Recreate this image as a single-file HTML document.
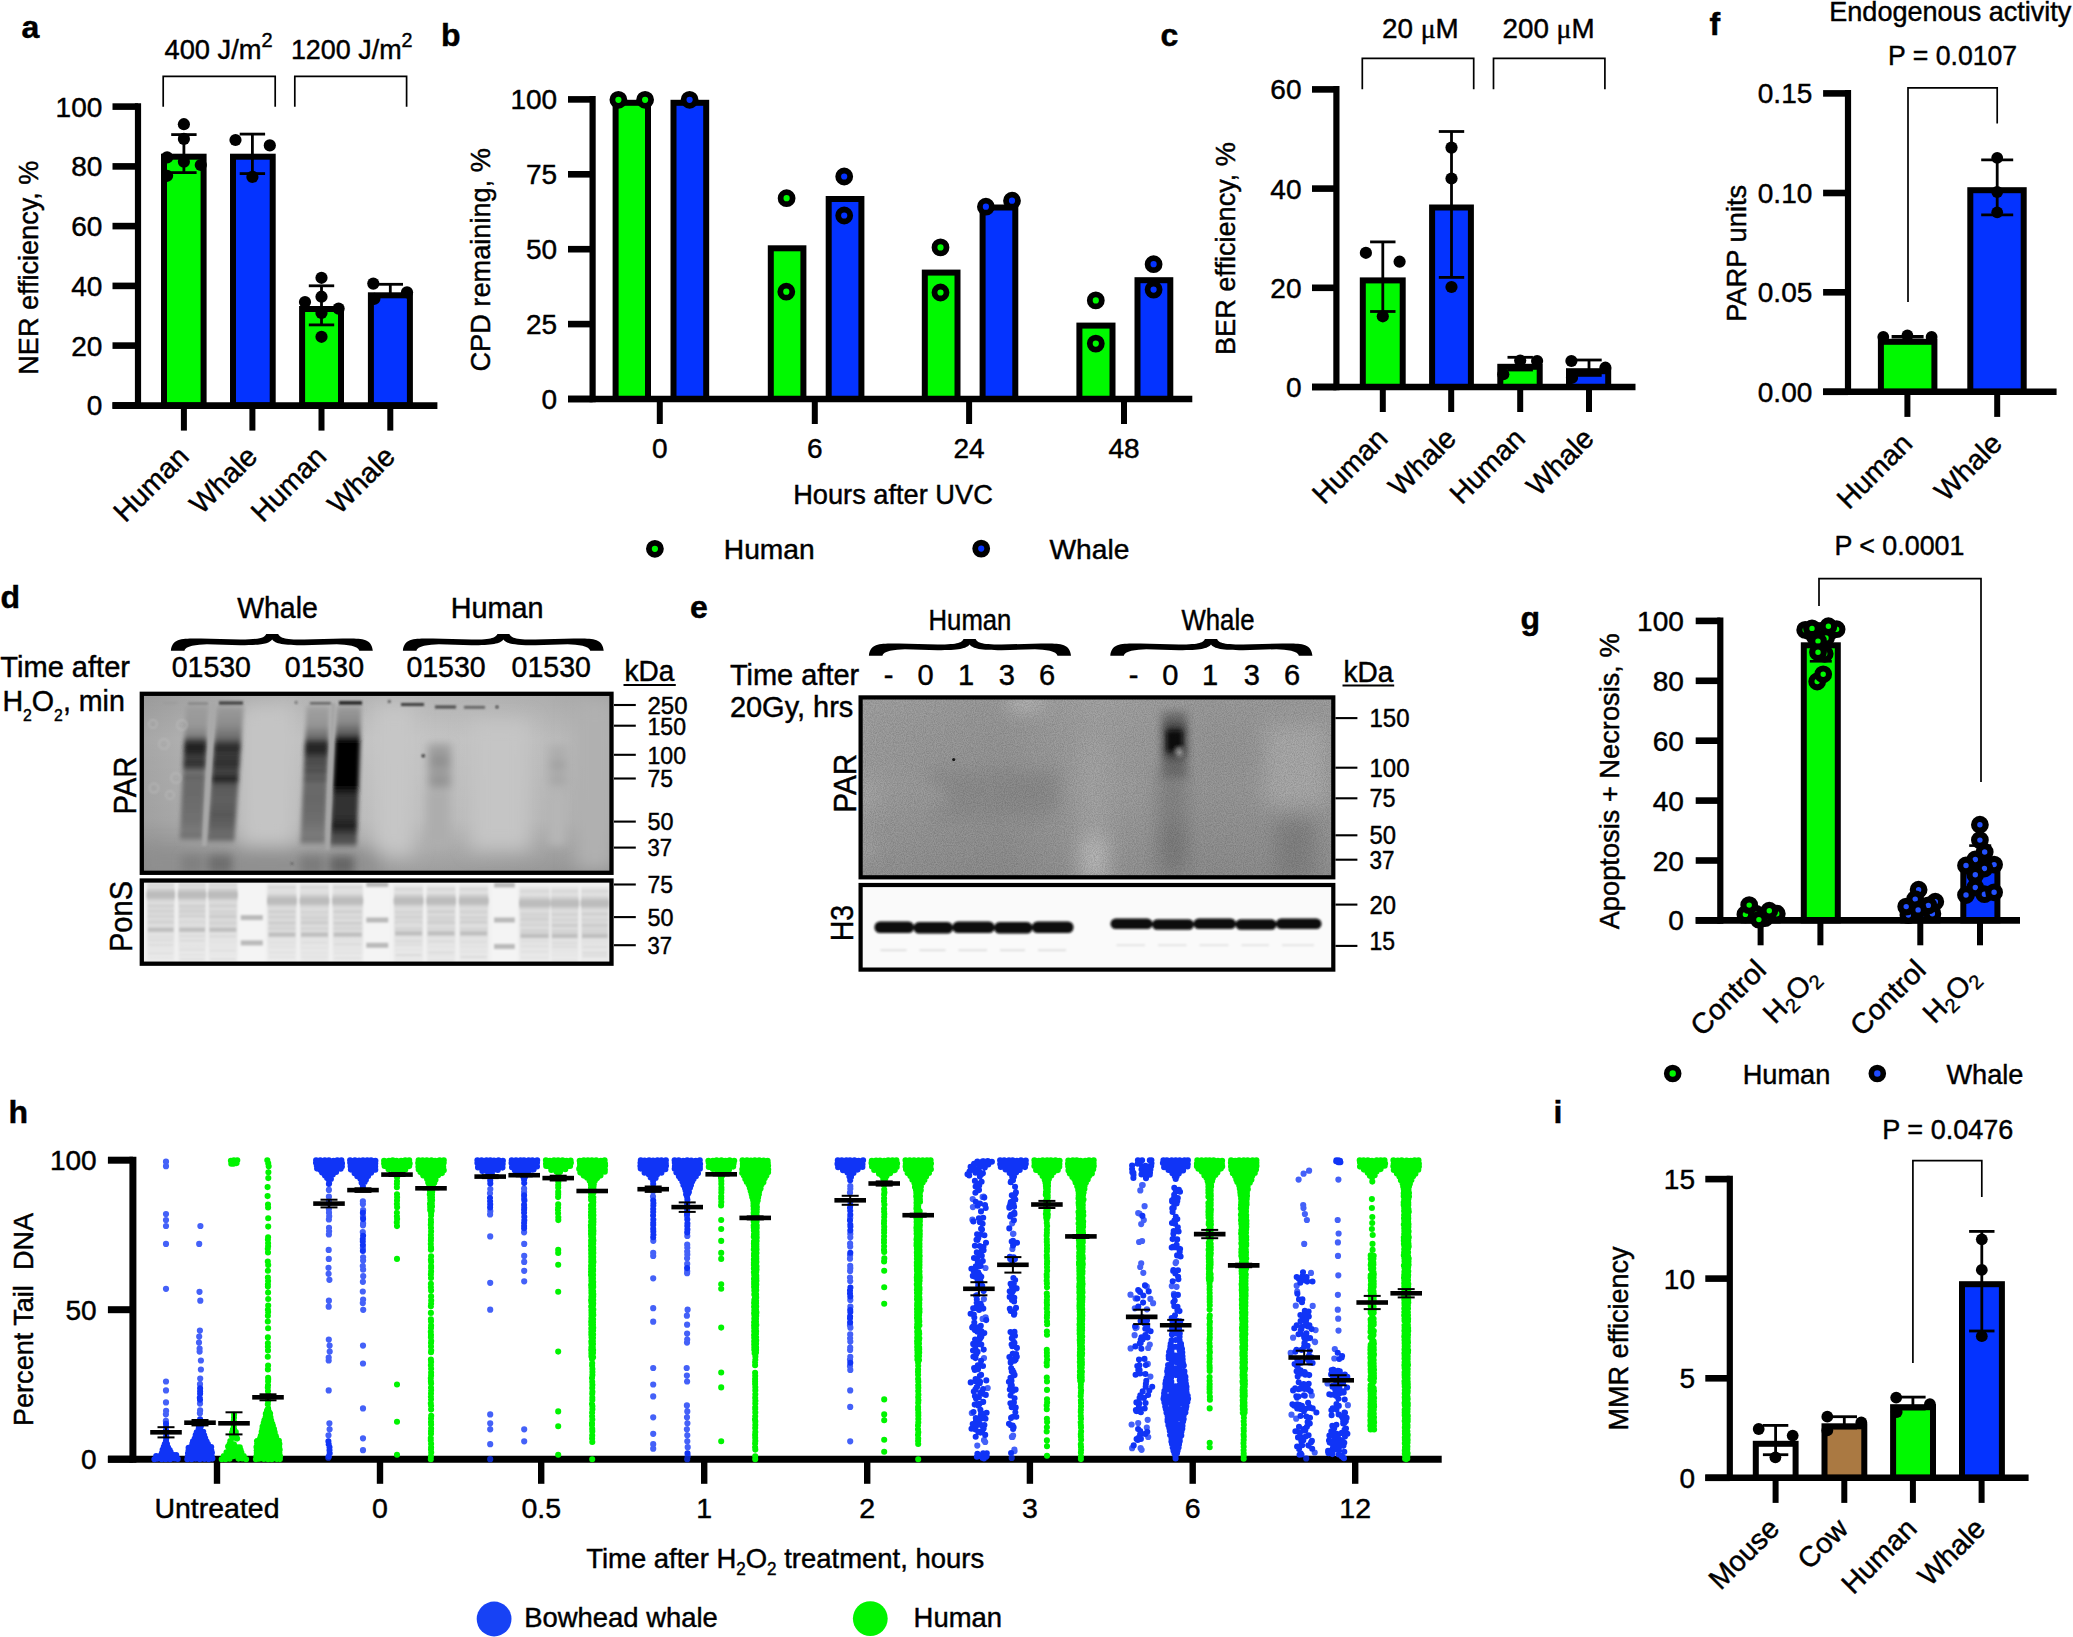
<!DOCTYPE html>
<html lang="en"><head><meta charset="utf-8"><title>Figure: DNA repair in bowhead whale and human cells</title>
<style>html,body{margin:0;padding:0;background:#fff}body{width:2073px;height:1637px;overflow:hidden}svg{display:block}text{font-family:'Liberation Sans', sans-serif;fill:#000;stroke:#000;stroke-width:.45px}</style>
</head><body>
<svg width="2073" height="1637" viewBox="0 0 2073 1637" role="img" aria-label="Multi-panel figure comparing DNA repair in human and bowhead whale cells">
<rect width="2073" height="1637" fill="#fff"/>
<g id="panel-a">
<text x="21.5" y="38" font-size="32" font-weight="bold" fill="#231f20" stroke="none">a</text>
<text x="164.5" y="58.6" font-size="28" textLength="108.2" lengthAdjust="spacingAndGlyphs">400 J/m<tspan font-size="20.5" dy="-12">2</tspan></text>
<text x="290.9" y="58.6" font-size="28" textLength="121.6" lengthAdjust="spacingAndGlyphs">1200 J/m<tspan font-size="20.5" dy="-12">2</tspan></text>
<path d="M163.2 106.8V76.4H275.2V106.8" fill="none" stroke="#000" stroke-width="1.7"/>
<path d="M294.8 106.8V76.4H406.6V106.8" fill="none" stroke="#000" stroke-width="1.7"/>
<rect x="164" y="156.7" width="39.6" height="248.7" fill="#00f900" stroke="#000" stroke-width="6"/>
<rect x="233" y="156.7" width="39.7" height="248.7" fill="#0433ff" stroke="#000" stroke-width="6"/>
<rect x="302.1" y="309" width="38.9" height="96.4" fill="#00f900" stroke="#000" stroke-width="6"/>
<rect x="370.9" y="295.3" width="39" height="110.1" fill="#0433ff" stroke="#000" stroke-width="6"/>
<line x1="138" y1="103.3" x2="138" y2="408.7" stroke="#000" stroke-width="6.2"/>
<line x1="112.5" y1="405.4" x2="138" y2="405.4" stroke="#000" stroke-width="6.6"/>
<text x="102.3" y="415.4" font-size="28" text-anchor="end">0</text>
<line x1="112.5" y1="345.6" x2="138" y2="345.6" stroke="#000" stroke-width="6.6"/>
<text x="102.3" y="355.6" font-size="28" text-anchor="end">20</text>
<line x1="112.5" y1="285.9" x2="138" y2="285.9" stroke="#000" stroke-width="6.6"/>
<text x="102.3" y="295.9" font-size="28" text-anchor="end">40</text>
<line x1="112.5" y1="226.1" x2="138" y2="226.1" stroke="#000" stroke-width="6.6"/>
<text x="102.3" y="236.1" font-size="28" text-anchor="end">60</text>
<line x1="112.5" y1="166.4" x2="138" y2="166.4" stroke="#000" stroke-width="6.6"/>
<text x="102.3" y="176.4" font-size="28" text-anchor="end">80</text>
<line x1="112.5" y1="106.6" x2="138" y2="106.6" stroke="#000" stroke-width="6.6"/>
<text x="102.3" y="116.6" font-size="28" text-anchor="end">100</text>
<line x1="112.5" y1="405.6" x2="437.4" y2="405.6" stroke="#000" stroke-width="6.6"/>
<line x1="183.9" y1="405.6" x2="183.9" y2="430.6" stroke="#000" stroke-width="6"/>
<line x1="252.4" y1="405.6" x2="252.4" y2="430.6" stroke="#000" stroke-width="6"/>
<line x1="321.5" y1="405.6" x2="321.5" y2="430.6" stroke="#000" stroke-width="6"/>
<line x1="390.3" y1="405.6" x2="390.3" y2="430.6" stroke="#000" stroke-width="6"/>
<line x1="183.9" y1="134.6" x2="183.9" y2="172.6" stroke="#000" stroke-width="2.8"/>
<line x1="171.2" y1="134.6" x2="196.6" y2="134.6" stroke="#000" stroke-width="2.8"/>
<line x1="171.2" y1="172.6" x2="196.6" y2="172.6" stroke="#000" stroke-width="2.8"/>
<line x1="252.4" y1="134.1" x2="252.4" y2="173.6" stroke="#000" stroke-width="2.8"/>
<line x1="239.7" y1="134.1" x2="265.1" y2="134.1" stroke="#000" stroke-width="2.8"/>
<line x1="239.7" y1="173.6" x2="265.1" y2="173.6" stroke="#000" stroke-width="2.8"/>
<line x1="321.5" y1="285.8" x2="321.5" y2="324.9" stroke="#000" stroke-width="2.8"/>
<line x1="308.8" y1="285.8" x2="334.2" y2="285.8" stroke="#000" stroke-width="2.8"/>
<line x1="308.8" y1="324.9" x2="334.2" y2="324.9" stroke="#000" stroke-width="2.8"/>
<line x1="390.3" y1="284.3" x2="390.3" y2="295.6" stroke="#000" stroke-width="2.8"/>
<line x1="377.6" y1="284.3" x2="403" y2="284.3" stroke="#000" stroke-width="2.8"/>
<line x1="377.6" y1="295.6" x2="403" y2="295.6" stroke="#000" stroke-width="2.8"/>
<circle cx="183.9" cy="124.2" r="6.1" fill="#000"/>
<circle cx="183.9" cy="138.9" r="6.1" fill="#000"/>
<circle cx="167.1" cy="157.4" r="6.1" fill="#000"/>
<circle cx="183.9" cy="161.7" r="6.1" fill="#000"/>
<circle cx="200.8" cy="165" r="6.1" fill="#000"/>
<circle cx="167.1" cy="175.8" r="6.1" fill="#000"/>
<circle cx="235.5" cy="140" r="6.1" fill="#000"/>
<circle cx="269.8" cy="145.4" r="6.1" fill="#000"/>
<circle cx="252.4" cy="176.9" r="6.1" fill="#000"/>
<circle cx="321.5" cy="277.8" r="6.1" fill="#000"/>
<circle cx="321.5" cy="296.7" r="6.1" fill="#000"/>
<circle cx="305" cy="302.1" r="6.1" fill="#000"/>
<circle cx="338.6" cy="308.6" r="6.1" fill="#000"/>
<circle cx="321.5" cy="312.9" r="6.1" fill="#000"/>
<circle cx="321.5" cy="336.8" r="6.1" fill="#000"/>
<circle cx="373.3" cy="283.6" r="6.1" fill="#000"/>
<circle cx="407" cy="292.3" r="6.1" fill="#000"/>
<circle cx="374.4" cy="298.8" r="6.1" fill="#000"/>
<text x="38" y="267.7" font-size="28" text-anchor="middle" transform="rotate(-90 38 267.7)" textLength="214" lengthAdjust="spacingAndGlyphs">NER efficiency, %</text>
<text x="190.4" y="458.3" font-size="28.6" text-anchor="end" transform="rotate(-45 190.4 458.3)">Human</text>
<text x="258.9" y="458.3" font-size="28.6" text-anchor="end" transform="rotate(-45 258.9 458.3)">Whale</text>
<text x="328" y="458.3" font-size="28.6" text-anchor="end" transform="rotate(-45 328 458.3)">Human</text>
<text x="396.8" y="458.3" font-size="28.6" text-anchor="end" transform="rotate(-45 396.8 458.3)">Whale</text>
</g>
<g id="panel-b">
<text x="441" y="46" font-size="32" font-weight="bold" fill="#231f20" stroke="none">b</text>
<rect x="615.6" y="102.8" width="32.4" height="296.2" fill="#00f900" stroke="#000" stroke-width="6"/>
<rect x="673.5" y="102.8" width="32.7" height="296.2" fill="#0433ff" stroke="#000" stroke-width="6"/>
<rect x="770.8" y="248.3" width="32.6" height="150.7" fill="#00f900" stroke="#000" stroke-width="6"/>
<rect x="828.7" y="199" width="32.7" height="200" fill="#0433ff" stroke="#000" stroke-width="6"/>
<rect x="924.8" y="272.6" width="32.7" height="126.4" fill="#00f900" stroke="#000" stroke-width="6"/>
<rect x="982.6" y="207.5" width="32.7" height="191.5" fill="#0433ff" stroke="#000" stroke-width="6"/>
<rect x="1079.4" y="325.6" width="33.1" height="73.4" fill="#00f900" stroke="#000" stroke-width="6"/>
<rect x="1137.5" y="280.2" width="32.8" height="118.8" fill="#0433ff" stroke="#000" stroke-width="6"/>
<line x1="592.6" y1="96.1" x2="592.6" y2="402.3" stroke="#000" stroke-width="6.2"/>
<line x1="568" y1="399" x2="592.6" y2="399" stroke="#000" stroke-width="6.6"/>
<text x="557.2" y="409" font-size="28" text-anchor="end">0</text>
<line x1="568" y1="324.1" x2="592.6" y2="324.1" stroke="#000" stroke-width="6.6"/>
<text x="557.2" y="334.1" font-size="28" text-anchor="end">25</text>
<line x1="568" y1="249.2" x2="592.6" y2="249.2" stroke="#000" stroke-width="6.6"/>
<text x="557.2" y="259.2" font-size="28" text-anchor="end">50</text>
<line x1="568" y1="174.3" x2="592.6" y2="174.3" stroke="#000" stroke-width="6.6"/>
<text x="557.2" y="184.3" font-size="28" text-anchor="end">75</text>
<line x1="568" y1="99.4" x2="592.6" y2="99.4" stroke="#000" stroke-width="6.6"/>
<text x="557.2" y="109.4" font-size="28" text-anchor="end">100</text>
<line x1="568" y1="399" x2="1192.3" y2="399" stroke="#000" stroke-width="6.6"/>
<line x1="659.8" y1="399" x2="659.8" y2="424" stroke="#000" stroke-width="6"/>
<line x1="814.8" y1="399" x2="814.8" y2="424" stroke="#000" stroke-width="6"/>
<line x1="969.1" y1="399" x2="969.1" y2="424" stroke="#000" stroke-width="6"/>
<line x1="1124" y1="399" x2="1124" y2="424" stroke="#000" stroke-width="6"/>
<circle cx="618.4" cy="99.8" r="6" fill="#00f900" stroke="#000" stroke-width="5.8"/>
<circle cx="645.1" cy="99.8" r="6" fill="#00f900" stroke="#000" stroke-width="5.8"/>
<circle cx="689.6" cy="99.8" r="6" fill="#0433ff" stroke="#000" stroke-width="5.8"/>
<circle cx="786.6" cy="198.2" r="6" fill="#00f900" stroke="#000" stroke-width="5.8"/>
<circle cx="786.3" cy="291.7" r="6" fill="#00f900" stroke="#000" stroke-width="5.8"/>
<circle cx="844.2" cy="176.5" r="6" fill="#0433ff" stroke="#000" stroke-width="5.8"/>
<circle cx="844.2" cy="215.5" r="6" fill="#0433ff" stroke="#000" stroke-width="5.8"/>
<circle cx="940.5" cy="247.4" r="6" fill="#00f900" stroke="#000" stroke-width="5.8"/>
<circle cx="940.5" cy="292.5" r="6" fill="#00f900" stroke="#000" stroke-width="5.8"/>
<circle cx="985.9" cy="206.7" r="6" fill="#0433ff" stroke="#000" stroke-width="5.8"/>
<circle cx="1012" cy="200.7" r="6" fill="#0433ff" stroke="#000" stroke-width="5.8"/>
<circle cx="1095.8" cy="300.4" r="6" fill="#00f900" stroke="#000" stroke-width="5.8"/>
<circle cx="1095.8" cy="343.6" r="6" fill="#00f900" stroke="#000" stroke-width="5.8"/>
<circle cx="1153.6" cy="264.2" r="6" fill="#0433ff" stroke="#000" stroke-width="5.8"/>
<circle cx="1153.6" cy="289.6" r="6" fill="#0433ff" stroke="#000" stroke-width="5.8"/>
<text x="659.8" y="458" font-size="28" text-anchor="middle">0</text>
<text x="814.8" y="458" font-size="28" text-anchor="middle">6</text>
<text x="969.1" y="458" font-size="28" text-anchor="middle">24</text>
<text x="1124" y="458" font-size="28" text-anchor="middle">48</text>
<text x="893" y="504.2" font-size="28" text-anchor="middle" textLength="199.7" lengthAdjust="spacingAndGlyphs">Hours after UVC</text>
<text x="489.9" y="259.8" font-size="28" text-anchor="middle" transform="rotate(-90 489.9 259.8)" textLength="223.5" lengthAdjust="spacingAndGlyphs">CPD remaining, %</text>
<circle cx="654.9" cy="548.8" r="6" fill="#00f900" stroke="#000" stroke-width="5.8"/>
<text x="723.8" y="559.2" font-size="28.2">Human</text>
<circle cx="981.2" cy="548.6" r="6" fill="#0433ff" stroke="#000" stroke-width="5.8"/>
<text x="1049.5" y="559.2" font-size="28.2">Whale</text>
</g>
<g id="panel-c">
<text x="1160.5" y="45.8" font-size="32" font-weight="bold" fill="#231f20" stroke="none">c</text>
<text x="1382" y="38.1" font-size="28" textLength="76.7" lengthAdjust="spacingAndGlyphs">20 <tspan font-family="'Liberation Serif','DejaVu Serif',serif">μ</tspan>M</text>
<text x="1502.6" y="38.1" font-size="28" textLength="92" lengthAdjust="spacingAndGlyphs">200 <tspan font-family="'Liberation Serif','DejaVu Serif',serif">μ</tspan>M</text>
<path d="M1362.3 89.2V58.4H1473.7V89.2" fill="none" stroke="#000" stroke-width="1.7"/>
<path d="M1493.5 89.2V58.4H1604.9V89.2" fill="none" stroke="#000" stroke-width="1.7"/>
<rect x="1362.8" y="280.4" width="39.9" height="106.6" fill="#00f900" stroke="#000" stroke-width="6"/>
<rect x="1432.1" y="207.5" width="38.8" height="179.5" fill="#0433ff" stroke="#000" stroke-width="6"/>
<rect x="1500.3" y="366.8" width="39.4" height="20.2" fill="#00f900" stroke="#000" stroke-width="6"/>
<rect x="1569" y="371.2" width="39.2" height="15.8" fill="#0433ff" stroke="#000" stroke-width="6"/>
<line x1="1336.4" y1="85.9" x2="1336.4" y2="390.3" stroke="#000" stroke-width="6.2"/>
<line x1="1312" y1="387" x2="1336.4" y2="387" stroke="#000" stroke-width="6.6"/>
<text x="1301.5" y="397" font-size="28" text-anchor="end">0</text>
<line x1="1312" y1="287.8" x2="1336.4" y2="287.8" stroke="#000" stroke-width="6.6"/>
<text x="1301.5" y="297.8" font-size="28" text-anchor="end">20</text>
<line x1="1312" y1="188.6" x2="1336.4" y2="188.6" stroke="#000" stroke-width="6.6"/>
<text x="1301.5" y="198.6" font-size="28" text-anchor="end">40</text>
<line x1="1312" y1="89.4" x2="1336.4" y2="89.4" stroke="#000" stroke-width="6.6"/>
<text x="1301.5" y="99.4" font-size="28" text-anchor="end">60</text>
<line x1="1312" y1="387" x2="1635.5" y2="387" stroke="#000" stroke-width="6.6"/>
<line x1="1382.8" y1="387" x2="1382.8" y2="412" stroke="#000" stroke-width="6"/>
<line x1="1451.2" y1="387" x2="1451.2" y2="412" stroke="#000" stroke-width="6"/>
<line x1="1520.2" y1="387" x2="1520.2" y2="412" stroke="#000" stroke-width="6"/>
<line x1="1589" y1="387" x2="1589" y2="412" stroke="#000" stroke-width="6"/>
<line x1="1382.8" y1="241.9" x2="1382.8" y2="311.5" stroke="#000" stroke-width="2.8"/>
<line x1="1370.1" y1="241.9" x2="1395.5" y2="241.9" stroke="#000" stroke-width="2.8"/>
<line x1="1370.1" y1="311.5" x2="1395.5" y2="311.5" stroke="#000" stroke-width="2.8"/>
<line x1="1451.5" y1="131.5" x2="1451.5" y2="277.4" stroke="#000" stroke-width="2.8"/>
<line x1="1438.8" y1="131.5" x2="1464.2" y2="131.5" stroke="#000" stroke-width="2.8"/>
<line x1="1438.8" y1="277.4" x2="1464.2" y2="277.4" stroke="#000" stroke-width="2.8"/>
<line x1="1520.2" y1="357.3" x2="1520.2" y2="370" stroke="#000" stroke-width="2.8"/>
<line x1="1507.5" y1="357.3" x2="1532.9" y2="357.3" stroke="#000" stroke-width="2.8"/>
<line x1="1507.5" y1="370" x2="1532.9" y2="370" stroke="#000" stroke-width="2.8"/>
<line x1="1589" y1="360" x2="1589" y2="375.4" stroke="#000" stroke-width="2.8"/>
<line x1="1576.3" y1="360" x2="1601.7" y2="360" stroke="#000" stroke-width="2.8"/>
<line x1="1576.3" y1="375.4" x2="1601.7" y2="375.4" stroke="#000" stroke-width="2.8"/>
<circle cx="1365.9" cy="252.8" r="6.1" fill="#000"/>
<circle cx="1399.6" cy="261.7" r="6.1" fill="#000"/>
<circle cx="1382.8" cy="316.3" r="6.1" fill="#000"/>
<circle cx="1451.5" cy="147.6" r="6.1" fill="#000"/>
<circle cx="1451.5" cy="178.5" r="6.1" fill="#000"/>
<circle cx="1451.5" cy="287" r="6.1" fill="#000"/>
<circle cx="1520.2" cy="360.5" r="6.1" fill="#000"/>
<circle cx="1537.1" cy="361" r="6.1" fill="#000"/>
<circle cx="1503.3" cy="374.2" r="6.1" fill="#000"/>
<circle cx="1571.4" cy="361" r="6.1" fill="#000"/>
<circle cx="1605.4" cy="367.7" r="6.1" fill="#000"/>
<circle cx="1572" cy="377.8" r="6.1" fill="#000"/>
<text x="1235.2" y="248.5" font-size="28" text-anchor="middle" transform="rotate(-90 1235.2 248.5)" textLength="213" lengthAdjust="spacingAndGlyphs">BER efficiency, %</text>
<text x="1389.3" y="440.3" font-size="28.6" text-anchor="end" transform="rotate(-45 1389.3 440.3)">Human</text>
<text x="1457.7" y="440.3" font-size="28.6" text-anchor="end" transform="rotate(-45 1457.7 440.3)">Whale</text>
<text x="1526.7" y="440.3" font-size="28.6" text-anchor="end" transform="rotate(-45 1526.7 440.3)">Human</text>
<text x="1595.5" y="440.3" font-size="28.6" text-anchor="end" transform="rotate(-45 1595.5 440.3)">Whale</text>
</g>
<g id="panel-f">
<text x="1709.5" y="35.3" font-size="32" font-weight="bold" fill="#231f20" stroke="none">f</text>
<text x="1829.3" y="20.8" font-size="28" textLength="242" lengthAdjust="spacingAndGlyphs">Endogenous activity</text>
<text x="1888.1" y="64.6" font-size="28" textLength="129" lengthAdjust="spacingAndGlyphs">P = 0.0107</text>
<path d="M1908 302.1V87.8H1997.2V123.5" fill="none" stroke="#000" stroke-width="1.7"/>
<rect x="1880.9" y="341.8" width="53.5" height="50" fill="#00f900" stroke="#000" stroke-width="6"/>
<rect x="1970.3" y="190.2" width="53.4" height="201.6" fill="#0433ff" stroke="#000" stroke-width="6"/>
<line x1="1848" y1="90.1" x2="1848" y2="395.1" stroke="#000" stroke-width="6.2"/>
<line x1="1823.1" y1="391.8" x2="1848" y2="391.8" stroke="#000" stroke-width="6.6"/>
<text x="1812.3" y="401.8" font-size="28" text-anchor="end">0.00</text>
<line x1="1823.1" y1="292.3" x2="1848" y2="292.3" stroke="#000" stroke-width="6.6"/>
<text x="1812.3" y="302.3" font-size="28" text-anchor="end">0.05</text>
<line x1="1823.1" y1="193" x2="1848" y2="193" stroke="#000" stroke-width="6.6"/>
<text x="1812.3" y="203" font-size="28" text-anchor="end">0.10</text>
<line x1="1823.1" y1="93.4" x2="1848" y2="93.4" stroke="#000" stroke-width="6.6"/>
<text x="1812.3" y="103.4" font-size="28" text-anchor="end">0.15</text>
<line x1="1823.1" y1="391.8" x2="2056.6" y2="391.8" stroke="#000" stroke-width="6.6"/>
<line x1="1907.4" y1="391.8" x2="1907.4" y2="416.9" stroke="#000" stroke-width="6"/>
<line x1="1997.2" y1="391.8" x2="1997.2" y2="416.9" stroke="#000" stroke-width="6"/>
<line x1="1997.2" y1="159.8" x2="1997.2" y2="214.8" stroke="#000" stroke-width="2.8"/>
<line x1="1981.2" y1="159.8" x2="2013.2" y2="159.8" stroke="#000" stroke-width="2.8"/>
<line x1="1981.2" y1="214.8" x2="2013.2" y2="214.8" stroke="#000" stroke-width="2.8"/>
<line x1="1907.6" y1="336.5" x2="1907.6" y2="340" stroke="#000" stroke-width="2.8"/>
<line x1="1891.6" y1="336.5" x2="1923.6" y2="336.5" stroke="#000" stroke-width="2.8"/>
<line x1="1891.6" y1="340" x2="1923.6" y2="340" stroke="#000" stroke-width="2.8"/>
<circle cx="1997.2" cy="157.8" r="5.9" fill="#000"/>
<circle cx="1997.2" cy="192" r="5.9" fill="#000"/>
<circle cx="1997.2" cy="212.3" r="5.9" fill="#000"/>
<circle cx="1883.3" cy="337" r="5.9" fill="#000"/>
<circle cx="1907.4" cy="335.5" r="5.9" fill="#000"/>
<circle cx="1931.6" cy="337" r="5.9" fill="#000"/>
<text x="1745.9" y="253.3" font-size="28" text-anchor="middle" transform="rotate(-90 1745.9 253.3)" textLength="137" lengthAdjust="spacingAndGlyphs">PARP units</text>
<text x="1913.9" y="445.3" font-size="28.6" text-anchor="end" transform="rotate(-45 1913.9 445.3)">Human</text>
<text x="2003.7" y="445.3" font-size="28.6" text-anchor="end" transform="rotate(-45 2003.7 445.3)">Whale</text>
</g>
<g id="panel-g">
<text x="1520.5" y="629.2" font-size="32" font-weight="bold" fill="#231f20" stroke="none">g</text>
<text x="1834.4" y="555.4" font-size="28" textLength="130" lengthAdjust="spacingAndGlyphs">P &lt; 0.0001</text>
<path d="M1819 605.9V578.6H1981V782" fill="none" stroke="#000" stroke-width="1.7"/>
<rect x="1743.6" y="909.9" width="34" height="10.5" fill="#00f900" stroke="#000" stroke-width="6"/>
<rect x="1803.8" y="645.3" width="34" height="275.1" fill="#00f900" stroke="#000" stroke-width="6"/>
<rect x="1903.3" y="903.9" width="34" height="16.5" fill="#0433ff" stroke="#000" stroke-width="6"/>
<rect x="1963.3" y="867.3" width="34.1" height="53.1" fill="#0433ff" stroke="#000" stroke-width="6"/>
<line x1="1720.3" y1="617.6" x2="1720.3" y2="923.7" stroke="#000" stroke-width="6.2"/>
<line x1="1695.7" y1="920.4" x2="1720.3" y2="920.4" stroke="#000" stroke-width="6.6"/>
<text x="1683.8" y="930.4" font-size="28" text-anchor="end">0</text>
<line x1="1695.7" y1="860.5" x2="1720.3" y2="860.5" stroke="#000" stroke-width="6.6"/>
<text x="1683.8" y="870.5" font-size="28" text-anchor="end">20</text>
<line x1="1695.7" y1="800.6" x2="1720.3" y2="800.6" stroke="#000" stroke-width="6.6"/>
<text x="1683.8" y="810.6" font-size="28" text-anchor="end">40</text>
<line x1="1695.7" y1="740.7" x2="1720.3" y2="740.7" stroke="#000" stroke-width="6.6"/>
<text x="1683.8" y="750.7" font-size="28" text-anchor="end">60</text>
<line x1="1695.7" y1="680.8" x2="1720.3" y2="680.8" stroke="#000" stroke-width="6.6"/>
<text x="1683.8" y="690.8" font-size="28" text-anchor="end">80</text>
<line x1="1695.7" y1="620.9" x2="1720.3" y2="620.9" stroke="#000" stroke-width="6.6"/>
<text x="1683.8" y="630.9" font-size="28" text-anchor="end">100</text>
<line x1="1695.7" y1="920.4" x2="2020" y2="920.4" stroke="#000" stroke-width="6.6"/>
<line x1="1760.6" y1="920.4" x2="1760.6" y2="945.3" stroke="#000" stroke-width="6"/>
<line x1="1820.4" y1="920.4" x2="1820.4" y2="945.3" stroke="#000" stroke-width="6"/>
<line x1="1920.3" y1="920.4" x2="1920.3" y2="945.3" stroke="#000" stroke-width="6"/>
<line x1="1980" y1="920.4" x2="1980" y2="945.3" stroke="#000" stroke-width="6"/>
<line x1="1820.8" y1="623.5" x2="1820.8" y2="661.3" stroke="#000" stroke-width="2.6"/>
<line x1="1809.8" y1="623.5" x2="1831.8" y2="623.5" stroke="#000" stroke-width="2.6"/>
<line x1="1809.8" y1="661.3" x2="1831.8" y2="661.3" stroke="#000" stroke-width="2.6"/>
<line x1="1980.2" y1="845.6" x2="1980.2" y2="888" stroke="#000" stroke-width="2.6"/>
<line x1="1969.2" y1="845.6" x2="1991.2" y2="845.6" stroke="#000" stroke-width="2.6"/>
<line x1="1969.2" y1="888" x2="1991.2" y2="888" stroke="#000" stroke-width="2.6"/>
<circle cx="1809" cy="631" r="5.8" fill="#00f900" stroke="#000" stroke-width="6.2"/>
<circle cx="1821" cy="633" r="5.8" fill="#00f900" stroke="#000" stroke-width="6.2"/>
<circle cx="1831" cy="631" r="5.8" fill="#00f900" stroke="#000" stroke-width="6.2"/>
<circle cx="1815" cy="637" r="5.8" fill="#00f900" stroke="#000" stroke-width="6.2"/>
<circle cx="1826" cy="638" r="5.8" fill="#00f900" stroke="#000" stroke-width="6.2"/>
<circle cx="1805.2" cy="629.9" r="5.8" fill="#00f900" stroke="#000" stroke-width="6.2"/>
<circle cx="1812" cy="628.4" r="5.8" fill="#00f900" stroke="#000" stroke-width="6.2"/>
<circle cx="1836.6" cy="629.2" r="5.8" fill="#00f900" stroke="#000" stroke-width="6.2"/>
<circle cx="1828.4" cy="626.2" r="5.8" fill="#00f900" stroke="#000" stroke-width="6.2"/>
<circle cx="1818" cy="641.1" r="5.8" fill="#00f900" stroke="#000" stroke-width="6.2"/>
<circle cx="1824.7" cy="653.8" r="5.8" fill="#00f900" stroke="#000" stroke-width="6.2"/>
<circle cx="1818" cy="652.3" r="5.8" fill="#00f900" stroke="#000" stroke-width="6.2"/>
<circle cx="1817.2" cy="681.5" r="5.8" fill="#00f900" stroke="#000" stroke-width="6.2"/>
<circle cx="1823.2" cy="674.3" r="5.8" fill="#00f900" stroke="#000" stroke-width="6.2"/>
<circle cx="1755.9" cy="913.7" r="5.8" fill="#00f900" stroke="#000" stroke-width="6.2"/>
<circle cx="1764.9" cy="918.1" r="5.8" fill="#00f900" stroke="#000" stroke-width="6.2"/>
<circle cx="1758.9" cy="919.6" r="5.8" fill="#00f900" stroke="#000" stroke-width="6.2"/>
<circle cx="1776.8" cy="913.7" r="5.8" fill="#00f900" stroke="#000" stroke-width="6.2"/>
<circle cx="1745.4" cy="914.4" r="5.8" fill="#00f900" stroke="#000" stroke-width="6.2"/>
<circle cx="1749.2" cy="905.1" r="5.8" fill="#00f900" stroke="#000" stroke-width="6.2"/>
<circle cx="1769.3" cy="910.7" r="5.8" fill="#00f900" stroke="#000" stroke-width="6.2"/>
<circle cx="1918.6" cy="889.7" r="5.8" fill="#2452ff" stroke="#000" stroke-width="6.2"/>
<circle cx="1935.3" cy="901.7" r="5.8" fill="#2452ff" stroke="#000" stroke-width="6.2"/>
<circle cx="1908.4" cy="915.1" r="5.8" fill="#2452ff" stroke="#000" stroke-width="6.2"/>
<circle cx="1932.4" cy="913.7" r="5.8" fill="#2452ff" stroke="#000" stroke-width="6.2"/>
<circle cx="1915.2" cy="899.1" r="5.8" fill="#2452ff" stroke="#000" stroke-width="6.2"/>
<circle cx="1906.2" cy="906.6" r="5.8" fill="#2452ff" stroke="#000" stroke-width="6.2"/>
<circle cx="1928.3" cy="905.4" r="5.8" fill="#2452ff" stroke="#000" stroke-width="6.2"/>
<circle cx="1918.1" cy="909.9" r="5.8" fill="#2452ff" stroke="#000" stroke-width="6.2"/>
<circle cx="1979.9" cy="824.7" r="5.8" fill="#2452ff" stroke="#000" stroke-width="6.2"/>
<circle cx="1979.9" cy="840.1" r="5.8" fill="#2452ff" stroke="#000" stroke-width="6.2"/>
<circle cx="1984.7" cy="852" r="5.8" fill="#2452ff" stroke="#000" stroke-width="6.2"/>
<circle cx="1975.3" cy="859.5" r="5.8" fill="#2452ff" stroke="#000" stroke-width="6.2"/>
<circle cx="1966" cy="865.5" r="5.8" fill="#2452ff" stroke="#000" stroke-width="6.2"/>
<circle cx="1994.1" cy="864.6" r="5.8" fill="#2452ff" stroke="#000" stroke-width="6.2"/>
<circle cx="1984.4" cy="868.5" r="5.8" fill="#2452ff" stroke="#000" stroke-width="6.2"/>
<circle cx="1975.3" cy="874.8" r="5.8" fill="#2452ff" stroke="#000" stroke-width="6.2"/>
<circle cx="1975.3" cy="887.5" r="5.8" fill="#2452ff" stroke="#000" stroke-width="6.2"/>
<circle cx="1966" cy="895" r="5.8" fill="#2452ff" stroke="#000" stroke-width="6.2"/>
<circle cx="1984.4" cy="894.2" r="5.8" fill="#2452ff" stroke="#000" stroke-width="6.2"/>
<circle cx="1994.1" cy="892.3" r="5.8" fill="#2452ff" stroke="#000" stroke-width="6.2"/>
<text x="1619.4" y="781.3" font-size="28" text-anchor="middle" transform="rotate(-90 1619.4 781.3)" textLength="296" lengthAdjust="spacingAndGlyphs">Apoptosis + Necrosis, %</text>
<text x="1767.9" y="971.8" font-size="28.8" text-anchor="end" transform="rotate(-45 1767.9 971.8)">Control</text>
<text x="1927.6" y="971.8" font-size="28.8" text-anchor="end" transform="rotate(-45 1927.6 971.8)">Control</text>
<text x="1820.9" y="978.8" font-size="28.6" text-anchor="end" transform="rotate(-45 1820.9 978.8)">H<tspan font-size="20" dy="5.7">2</tspan><tspan dy="-5.7">O</tspan><tspan font-size="20" dy="5.7">2</tspan></text>
<text x="1980.5" y="978.8" font-size="28.6" text-anchor="end" transform="rotate(-45 1980.5 978.8)">H<tspan font-size="20" dy="5.7">2</tspan><tspan dy="-5.7">O</tspan><tspan font-size="20" dy="5.7">2</tspan></text>
<circle cx="1672.7" cy="1073.5" r="6" fill="#00f900" stroke="#000" stroke-width="5.6"/>
<text x="1742.7" y="1084" font-size="28" textLength="87.6" lengthAdjust="spacingAndGlyphs">Human</text>
<circle cx="1877.3" cy="1073.5" r="6" fill="#1f4bff" stroke="#000" stroke-width="5.6"/>
<text x="1946.4" y="1084" font-size="28" textLength="77" lengthAdjust="spacingAndGlyphs">Whale</text>
</g>
<g id="panel-i">
<text x="1553.5" y="1122.7" font-size="32" font-weight="bold" fill="#231f20" stroke="none">i</text>
<text x="1882.3" y="1138.5" font-size="28" textLength="131" lengthAdjust="spacingAndGlyphs">P = 0.0476</text>
<path d="M1912.9 1362.9V1160.7H1981.8V1196.9" fill="none" stroke="#000" stroke-width="1.7"/>
<rect x="1755.8" y="1443.8" width="39.8" height="34" fill="#fff" stroke="#000" stroke-width="6"/>
<rect x="1824.5" y="1426.3" width="39.8" height="51.5" fill="#aa7942" stroke="#000" stroke-width="6"/>
<rect x="1893.1" y="1407.2" width="39.9" height="70.6" fill="#00f900" stroke="#000" stroke-width="6"/>
<rect x="1962" y="1284.2" width="39.9" height="193.6" fill="#0433ff" stroke="#000" stroke-width="6"/>
<line x1="1729.8" y1="1175.8" x2="1729.8" y2="1481.1" stroke="#000" stroke-width="6.2"/>
<line x1="1705.3" y1="1477.8" x2="1729.8" y2="1477.8" stroke="#000" stroke-width="6.6"/>
<text x="1695" y="1487.8" font-size="28" text-anchor="end">0</text>
<line x1="1705.3" y1="1378.3" x2="1729.8" y2="1378.3" stroke="#000" stroke-width="6.6"/>
<text x="1695" y="1388.3" font-size="28" text-anchor="end">5</text>
<line x1="1705.3" y1="1278.6" x2="1729.8" y2="1278.6" stroke="#000" stroke-width="6.6"/>
<text x="1695" y="1288.6" font-size="28" text-anchor="end">10</text>
<line x1="1705.3" y1="1179.1" x2="1729.8" y2="1179.1" stroke="#000" stroke-width="6.6"/>
<text x="1695" y="1189.1" font-size="28" text-anchor="end">15</text>
<line x1="1705.3" y1="1477.8" x2="2028.6" y2="1477.8" stroke="#000" stroke-width="6.6"/>
<line x1="1775.6" y1="1477.8" x2="1775.6" y2="1502.9" stroke="#000" stroke-width="6"/>
<line x1="1844.3" y1="1477.8" x2="1844.3" y2="1502.9" stroke="#000" stroke-width="6"/>
<line x1="1912.9" y1="1477.8" x2="1912.9" y2="1502.9" stroke="#000" stroke-width="6"/>
<line x1="1981.6" y1="1477.8" x2="1981.6" y2="1502.9" stroke="#000" stroke-width="6"/>
<line x1="1775.6" y1="1425.4" x2="1775.6" y2="1454.7" stroke="#000" stroke-width="2.8"/>
<line x1="1762.9" y1="1425.4" x2="1788.3" y2="1425.4" stroke="#000" stroke-width="2.8"/>
<line x1="1762.9" y1="1454.7" x2="1788.3" y2="1454.7" stroke="#000" stroke-width="2.8"/>
<line x1="1844.3" y1="1416.7" x2="1844.3" y2="1428" stroke="#000" stroke-width="2.8"/>
<line x1="1831.6" y1="1416.7" x2="1857" y2="1416.7" stroke="#000" stroke-width="2.8"/>
<line x1="1831.6" y1="1428" x2="1857" y2="1428" stroke="#000" stroke-width="2.8"/>
<line x1="1912.9" y1="1397.1" x2="1912.9" y2="1409" stroke="#000" stroke-width="2.8"/>
<line x1="1900.2" y1="1397.1" x2="1925.6" y2="1397.1" stroke="#000" stroke-width="2.8"/>
<line x1="1900.2" y1="1409" x2="1925.6" y2="1409" stroke="#000" stroke-width="2.8"/>
<line x1="1981.8" y1="1231.4" x2="1981.8" y2="1331" stroke="#000" stroke-width="2.8"/>
<line x1="1969.1" y1="1231.4" x2="1994.5" y2="1231.4" stroke="#000" stroke-width="2.8"/>
<line x1="1969.1" y1="1331" x2="1994.5" y2="1331" stroke="#000" stroke-width="2.8"/>
<circle cx="1758.7" cy="1429" r="5.9" fill="#000"/>
<circle cx="1792.7" cy="1435.6" r="5.9" fill="#000"/>
<circle cx="1775.4" cy="1457.3" r="5.9" fill="#000"/>
<circle cx="1827.3" cy="1416.7" r="5.9" fill="#000"/>
<circle cx="1861.3" cy="1422.5" r="5.9" fill="#000"/>
<circle cx="1827.3" cy="1430.4" r="5.9" fill="#000"/>
<circle cx="1896.2" cy="1397.6" r="5.9" fill="#000"/>
<circle cx="1929.9" cy="1404.2" r="5.9" fill="#000"/>
<circle cx="1896.7" cy="1412" r="5.9" fill="#000"/>
<circle cx="1981.8" cy="1239.3" r="5.9" fill="#000"/>
<circle cx="1981.8" cy="1269.9" r="5.9" fill="#000"/>
<circle cx="1981.8" cy="1336.2" r="5.9" fill="#000"/>
<text x="1628.2" y="1338.5" font-size="28" text-anchor="middle" transform="rotate(-90 1628.2 1338.5)" textLength="184" lengthAdjust="spacingAndGlyphs">MMR efficiency</text>
<text x="1781.1" y="1530.3" font-size="28.6" text-anchor="end" transform="rotate(-45 1781.1 1530.3)">Mouse</text>
<text x="1849.8" y="1530.3" font-size="28.6" text-anchor="end" transform="rotate(-45 1849.8 1530.3)">Cow</text>
<text x="1918.4" y="1530.3" font-size="28.6" text-anchor="end" transform="rotate(-45 1918.4 1530.3)">Human</text>
<text x="1987.1" y="1530.3" font-size="28.6" text-anchor="end" transform="rotate(-45 1987.1 1530.3)">Whale</text>
</g>
<defs>
<filter id="b1" x="-20%" y="-20%" width="140%" height="140%"><feGaussianBlur stdDeviation="1"/></filter>
<filter id="b15" x="-20%" y="-20%" width="140%" height="140%"><feGaussianBlur stdDeviation="1.3"/></filter>
<filter id="b2" x="-20%" y="-20%" width="140%" height="140%"><feGaussianBlur stdDeviation="2.2"/></filter>
<filter id="b4" x="-30%" y="-30%" width="160%" height="160%"><feGaussianBlur stdDeviation="4.5"/></filter>
<filter id="b8" x="-40%" y="-40%" width="180%" height="180%"><feGaussianBlur stdDeviation="9"/></filter>
<filter id="noise" x="0" y="0" width="100%" height="100%"><feTurbulence type="fractalNoise" baseFrequency="0.9" numOctaves="2" seed="3" result="t"/><feColorMatrix in="t" type="matrix" values="0 0 0 0 0  0 0 0 0 0  0 0 0 0 0  0.9 0 0 0 -0.28"/></filter>
<linearGradient id="gd" x1="0" x2="1" y1="0" y2="0"><stop offset="0" stop-color="#a6a6a6"/><stop offset="0.12" stop-color="#b2b2b2"/><stop offset="0.3" stop-color="#c0c0c0"/><stop offset="0.6" stop-color="#c4c4c4"/><stop offset="0.85" stop-color="#bcbcbc"/><stop offset="1" stop-color="#b0b0b0"/></linearGradient>
<linearGradient id="gdv" x1="0" x2="0" y1="0" y2="1"><stop offset="0" stop-color="#000" stop-opacity="0.08"/><stop offset="0.25" stop-color="#000" stop-opacity="0"/><stop offset="0.7" stop-color="#000" stop-opacity="0.04"/><stop offset="1" stop-color="#000" stop-opacity="0.2"/></linearGradient>
<linearGradient id="ge" x1="0" x2="1" y1="0" y2="0"><stop offset="0" stop-color="#a0a0a0"/><stop offset="0.3" stop-color="#989898"/><stop offset="0.5" stop-color="#a2a2a2"/><stop offset="0.75" stop-color="#999"/><stop offset="1" stop-color="#9c9c9c"/></linearGradient>
<linearGradient id="gev" x1="0" x2="0" y1="0" y2="1"><stop offset="0" stop-color="#fff" stop-opacity="0.04"/><stop offset="0.5" stop-color="#000" stop-opacity="0"/><stop offset="1" stop-color="#000" stop-opacity="0.07"/></linearGradient>
<clipPath id="cd1"><rect x="141.7" y="693.7" width="469.8" height="179"/></clipPath>
<clipPath id="cd2"><rect x="141.7" y="880.4" width="469.8" height="83.3"/></clipPath>
<clipPath id="ce1"><rect x="860.6" y="697.4" width="472.6" height="179.9"/></clipPath>
<clipPath id="ce2"><rect x="860.6" y="885" width="472.6" height="84.6"/></clipPath>
</defs>
<g id="panel-d">
<text x="0.5" y="607.5" font-size="32" font-weight="bold" fill="#231f20" stroke="none">d</text>
<text x="237.2" y="617.6" font-size="29" textLength="80.6" lengthAdjust="spacingAndGlyphs">Whale</text>
<text x="450.8" y="617.6" font-size="29" textLength="92.8" lengthAdjust="spacingAndGlyphs">Human</text>
<path d="M170.9 650.8C171.9 637.4 184.1 638.4 200.9 638.4L240.2 639.6C262.3 639.4 264.2 637.4 266.2 633.9L278.2 633.9C280.2 637.4 282.1 639.4 304.2 639.6L342.8 638.4C359.6 638.4 371.8 637.4 372.8 650.8L359.3 650.8C358.8 646.1 346.8 644.4 336.8 644.2L304.2 645.2C283.2 645.2 275.2 643.6 272.2 639.4C269.2 643.6 261.2 645.2 240.2 645.2L206.9 644.2C196.9 644.4 184.9 646.1 184.4 650.8Z" fill="#000"/>
<path d="M402.9 650.8C403.9 637.4 416.1 638.4 432.9 638.4L471.4 639.6C493.5 639.4 495.4 637.4 497.4 633.9L509.4 633.9C511.4 637.4 513.3 639.4 535.4 639.6L573.7 638.4C590.5 638.4 602.7 637.4 603.7 650.8L590.2 650.8C589.7 646.1 577.7 644.4 567.7 644.2L535.4 645.2C514.4 645.2 506.4 643.6 503.4 639.4C500.4 643.6 492.4 645.2 471.4 645.2L438.9 644.2C428.9 644.4 416.9 646.1 416.4 650.8Z" fill="#000"/>
<text x="0.3" y="677.1" font-size="29" textLength="129.7" lengthAdjust="spacingAndGlyphs">Time after</text>
<text x="2.4" y="711.2" font-size="29" textLength="122.5" lengthAdjust="spacingAndGlyphs">H<tspan font-size="16" dy="9.3">2</tspan><tspan dy="-9.3">O</tspan><tspan font-size="16" dy="9.3">2</tspan><tspan dy="-9.3">, min</tspan></text>
<text x="171.7" y="677.1" font-size="29" textLength="79.3" lengthAdjust="spacingAndGlyphs">01530</text>
<text x="284.8" y="677.1" font-size="29" textLength="79.3" lengthAdjust="spacingAndGlyphs">01530</text>
<text x="406.4" y="677.1" font-size="29" textLength="79.3" lengthAdjust="spacingAndGlyphs">01530</text>
<text x="511.6" y="677.1" font-size="29" textLength="79.3" lengthAdjust="spacingAndGlyphs">01530</text>
<text x="624.5" y="681.2" font-size="29" textLength="49.8" lengthAdjust="spacingAndGlyphs">kDa</text>
<line x1="623.5" y1="685" x2="675.8" y2="685" stroke="#000" stroke-width="2"/>
<g clip-path="url(#cd1)">
<rect x="141" y="693" width="472" height="181" fill="url(#gd)"/>
<rect x="141" y="693" width="472" height="181" fill="url(#gdv)"/>
<g filter="url(#b8)">
<rect x="240" y="705" width="55" height="140" fill="#c4c4c4"/>
<rect x="374" y="705" width="40" height="150" fill="#c6c6c6"/>
<rect x="470" y="720" width="60" height="130" fill="#c5c5c5"/>
<rect x="141" y="850" width="240" height="30" fill="#8f8f8f"/>
<rect x="575" y="700" width="40" height="170" fill="#b0b0b0"/>
</g>
<g filter="url(#b2)">
<linearGradient id="lg1" gradientUnits="userSpaceOnUse" x1="0" y1="703" x2="0" y2="844"><stop offset="0.000" stop-color="#a8a8a8" stop-opacity="0"/><stop offset="0.035" stop-color="#9c9c9c"/><stop offset="0.156" stop-color="#989898"/><stop offset="0.234" stop-color="#808080"/><stop offset="0.270" stop-color="#3a3a3a"/><stop offset="0.312" stop-color="#1a1a1a"/><stop offset="0.355" stop-color="#2c2c2c"/><stop offset="0.390" stop-color="#404040"/><stop offset="0.433" stop-color="#2e2e2e"/><stop offset="0.461" stop-color="#4a4a4a"/><stop offset="0.496" stop-color="#7c7c7c"/><stop offset="0.518" stop-color="#5e5e5e"/><stop offset="0.546" stop-color="#6a6a6a"/><stop offset="0.688" stop-color="#6c6c6c"/><stop offset="0.830" stop-color="#707070"/><stop offset="0.915" stop-color="#7a7a7a"/><stop offset="0.943" stop-color="#6c6c6c"/><stop offset="0.972" stop-color="#8e8e8e"/><stop offset="1.000" stop-color="#a0a0a0" stop-opacity="0"/></linearGradient>
<path d="M186 703L208.5 703L202.5 844L179.5 844Z" fill="url(#lg1)"/>
<linearGradient id="lg2" gradientUnits="userSpaceOnUse" x1="0" y1="703" x2="0" y2="846"><stop offset="0.000" stop-color="#a8a8a8" stop-opacity="0"/><stop offset="0.035" stop-color="#9a9a9a"/><stop offset="0.154" stop-color="#8c8c8c"/><stop offset="0.245" stop-color="#6c6c6c"/><stop offset="0.287" stop-color="#3a3a3a"/><stop offset="0.315" stop-color="#262626"/><stop offset="0.357" stop-color="#3a3a3a"/><stop offset="0.399" stop-color="#343434"/><stop offset="0.434" stop-color="#2e2e2e"/><stop offset="0.469" stop-color="#444"/><stop offset="0.510" stop-color="#3a3a3a"/><stop offset="0.531" stop-color="#161616"/><stop offset="0.552" stop-color="#3c3c3c"/><stop offset="0.580" stop-color="#5a5a5a"/><stop offset="0.678" stop-color="#606060"/><stop offset="0.783" stop-color="#585858"/><stop offset="0.853" stop-color="#606060"/><stop offset="0.923" stop-color="#6e6e6e"/><stop offset="0.944" stop-color="#606060"/><stop offset="0.972" stop-color="#909090"/><stop offset="1.000" stop-color="#a0a0a0" stop-opacity="0"/></linearGradient>
<path d="M217 703L244 703L234 846L206.5 846Z" fill="url(#lg2)"/>
<linearGradient id="lg3" gradientUnits="userSpaceOnUse" x1="0" y1="703" x2="0" y2="849"><stop offset="0.000" stop-color="#b0b0b0" stop-opacity="0"/><stop offset="0.034" stop-color="#a0a0a0"/><stop offset="0.151" stop-color="#959595"/><stop offset="0.240" stop-color="#6a6a6a"/><stop offset="0.274" stop-color="#2a2a2a"/><stop offset="0.322" stop-color="#222"/><stop offset="0.363" stop-color="#3c3c3c"/><stop offset="0.390" stop-color="#555"/><stop offset="0.411" stop-color="#444"/><stop offset="0.438" stop-color="#5a5a5a"/><stop offset="0.466" stop-color="#4a4a4a"/><stop offset="0.500" stop-color="#666"/><stop offset="0.521" stop-color="#525252"/><stop offset="0.548" stop-color="#6a6a6a"/><stop offset="0.664" stop-color="#686868"/><stop offset="0.801" stop-color="#6e6e6e"/><stop offset="0.911" stop-color="#7c7c7c"/><stop offset="0.938" stop-color="#707070"/><stop offset="0.973" stop-color="#999"/><stop offset="1.000" stop-color="#aaa" stop-opacity="0"/></linearGradient>
<path d="M306.7 703L330 703L325 849L300 849Z" fill="url(#lg3)"/>
<linearGradient id="lg4" gradientUnits="userSpaceOnUse" x1="0" y1="703" x2="0" y2="851"><stop offset="0.000" stop-color="#a8a8a8" stop-opacity="0"/><stop offset="0.034" stop-color="#9a9a9a"/><stop offset="0.128" stop-color="#8a8a8a"/><stop offset="0.209" stop-color="#5a5a5a"/><stop offset="0.250" stop-color="#101010"/><stop offset="0.284" stop-color="#000"/><stop offset="0.554" stop-color="#020202"/><stop offset="0.588" stop-color="#151515"/><stop offset="0.628" stop-color="#303030"/><stop offset="0.723" stop-color="#333"/><stop offset="0.791" stop-color="#2c2c2c"/><stop offset="0.831" stop-color="#1e1e1e"/><stop offset="0.872" stop-color="#383838"/><stop offset="0.912" stop-color="#555"/><stop offset="0.939" stop-color="#4a4a4a"/><stop offset="0.973" stop-color="#8a8a8a"/><stop offset="1.000" stop-color="#a0a0a0" stop-opacity="0"/></linearGradient>
<path d="M336.8 703L361.5 703L356.5 851L329.5 851Z" fill="url(#lg4)"/>
</g>
<g filter="url(#b4)">
<rect x="428" y="744" width="23" height="44" fill="#9d9d9d"/>
<rect x="430" y="757" width="20" height="8" fill="#8d8d8d"/>
<rect x="430" y="778" width="20" height="8" fill="#929292"/>
<rect x="426" y="790" width="24" height="56" fill="#adadad"/>
<rect x="549" y="746" width="18" height="40" fill="#adadad"/>
<rect x="550" y="762" width="16" height="6" fill="#9c9c9c"/>
<rect x="550" y="778" width="16" height="5" fill="#a2a2a2"/>
<rect x="548" y="795" width="18" height="50" fill="#b6b6b6"/>
<rect x="181" y="855" width="22" height="18" fill="#808080"/>
<rect x="208" y="855" width="24" height="18" fill="#6e6e6e"/>
<rect x="300" y="856" width="24" height="18" fill="#7c7c7c"/>
<rect x="330" y="856" width="24" height="18" fill="#666"/>
</g>
<g filter="url(#b1)">
<path d="M210.5 703L215.5 703L206.5 846L202 846Z" fill="#a8a8a8"/>
<path d="M331 703L335.5 703L329.5 850L325.5 850Z" fill="#a6a6a6"/>
<rect x="163" y="702" width="14" height="1.6" fill="#9a9a9a"/>
<rect x="188" y="702.5" width="20" height="2" fill="#808080"/>
<rect x="219" y="701.5" width="24" height="3" fill="#3a3a3a"/>
<rect x="310" y="702.2" width="21" height="2.2" fill="#5a5a5a"/>
<rect x="339" y="701.2" width="23" height="3.4" fill="#222"/>
<rect x="401" y="703" width="23" height="3" fill="#3c3c3c"/>
<rect x="435" y="705.5" width="21" height="3" fill="#4a4a4a"/>
<rect x="464" y="706" width="21" height="2.6" fill="#5e5e5e"/>
<circle cx="296.2" cy="702.5" r="1" fill="#222"/>
<circle cx="389.3" cy="701.5" r="1.3" fill="#333"/>
<circle cx="497" cy="707" r="1.3" fill="#111"/>
<circle cx="423.2" cy="755.8" r="1.5" fill="#111"/>
<circle cx="292" cy="863.5" r="0.9" fill="#333"/>
</g>
<circle cx="164" cy="744" r="5" fill="none" stroke="#bdbdbd" stroke-width="1.4" stroke-opacity="0.7" filter="url(#b1)"/>
<circle cx="154" cy="788" r="4.5" fill="none" stroke="#bdbdbd" stroke-width="1.4" stroke-opacity="0.7" filter="url(#b1)"/>
<circle cx="176" cy="778" r="5" fill="none" stroke="#bdbdbd" stroke-width="1.4" stroke-opacity="0.7" filter="url(#b1)"/>
<circle cx="170" cy="795" r="4" fill="none" stroke="#bdbdbd" stroke-width="1.4" stroke-opacity="0.7" filter="url(#b1)"/>
<circle cx="182" cy="725" r="5" fill="none" stroke="#bdbdbd" stroke-width="1.4" stroke-opacity="0.7" filter="url(#b1)"/>
<circle cx="153" cy="724" r="4" fill="none" stroke="#bdbdbd" stroke-width="1.4" stroke-opacity="0.7" filter="url(#b1)"/>
</g>
<rect x="141.8" y="693.8" width="469.7" height="179" fill="none" stroke="#000" stroke-width="4.3"/>
<g clip-path="url(#cd2)">
<rect x="141" y="879" width="472" height="86" fill="#f1f1f1"/>
<linearGradient id="gp" x1="0" x2="0" y1="0" y2="1"><stop offset="0" stop-color="#e6e6e6"/><stop offset="0.15" stop-color="#dcdcdc"/><stop offset="0.55" stop-color="#e0e0e0"/><stop offset="0.8" stop-color="#e8e8e8"/><stop offset="1" stop-color="#eeeeee"/></linearGradient>
<g filter="url(#b15)">
<rect x="146.9" y="882" width="27.7" height="84" fill="url(#gp)"/>
<rect x="147.4" y="884" width="26.7" height="2.4" fill="#d6d6d6"/>
<rect x="146.9" y="888.2" width="27.7" height="13" fill="#d2d2d2"/>
<rect x="146.9" y="890.2" width="27.7" height="9" fill="#c6c6c6"/>
<rect x="147.9" y="904.2" width="25.7" height="3" fill="#cecece"/>
<rect x="147.9" y="909.7" width="25.7" height="3" fill="#d0d0d0"/>
<rect x="147.9" y="915.2" width="25.7" height="3" fill="#cbcbcb"/>
<rect x="147.9" y="921.2" width="25.7" height="3" fill="#d1d1d1"/>
<rect x="146.4" y="892.1" width="28.7" height="5.6" fill="#bcbcbc"/>
<rect x="147.9" y="927.4" width="25.7" height="4.6" fill="#c0c0c0"/>
<rect x="148.4" y="903.7" width="24.7" height="1.4" fill="#dadada"/>
<rect x="148.4" y="909.1" width="24.7" height="1.4" fill="#d5d5d5"/>
<rect x="148.4" y="912.7" width="24.7" height="2.2" fill="#dcdcdc"/>
<rect x="148.4" y="916.3" width="24.7" height="1.4" fill="#dadada"/>
<rect x="148.4" y="919.9" width="24.7" height="1.8" fill="#d4d4d4"/>
<rect x="148.4" y="923.5" width="24.7" height="1.4" fill="#dbdbdb"/>
<rect x="148.4" y="936.1" width="24.7" height="2.2" fill="#dedede"/>
<rect x="148.4" y="939.7" width="24.7" height="1.4" fill="#d9d9d9"/>
<rect x="148.4" y="943.9" width="24.7" height="2.2" fill="#dddddd"/>
<rect x="148.4" y="948.1" width="24.7" height="1.8" fill="#e4e4e4"/>
<rect x="148.4" y="952.3" width="24.7" height="2.2" fill="#dfdfdf"/>
<rect x="148.4" y="957.1" width="24.7" height="1.4" fill="#e3e3e3"/>
<rect x="178.2" y="882" width="27.8" height="84" fill="url(#gp)"/>
<rect x="178.7" y="884" width="26.8" height="2.4" fill="#d6d6d6"/>
<rect x="178.2" y="888.2" width="27.8" height="13" fill="#d2d2d2"/>
<rect x="178.2" y="890.2" width="27.8" height="9" fill="#c6c6c6"/>
<rect x="179.2" y="904.2" width="25.8" height="3" fill="#cecece"/>
<rect x="179.2" y="909.7" width="25.8" height="3" fill="#d0d0d0"/>
<rect x="179.2" y="915.2" width="25.8" height="3" fill="#cbcbcb"/>
<rect x="179.2" y="921.2" width="25.8" height="3" fill="#d1d1d1"/>
<rect x="177.7" y="892.1" width="28.8" height="5.6" fill="#bcbcbc"/>
<rect x="179.2" y="927.4" width="25.8" height="4.6" fill="#c0c0c0"/>
<rect x="179.7" y="903.7" width="24.8" height="1.4" fill="#dadada"/>
<rect x="179.7" y="907.3" width="24.8" height="2.2" fill="#d4d4d4"/>
<rect x="179.7" y="911.5" width="24.8" height="2.2" fill="#d2d2d2"/>
<rect x="179.7" y="916.9" width="24.8" height="1.8" fill="#dddddd"/>
<rect x="179.7" y="922.3" width="24.8" height="1.8" fill="#dedede"/>
<rect x="179.7" y="934.9" width="24.8" height="2.2" fill="#dbdbdb"/>
<rect x="179.7" y="939.7" width="24.8" height="1.8" fill="#d9d9d9"/>
<rect x="179.7" y="945.1" width="24.8" height="2.2" fill="#e3e3e3"/>
<rect x="179.7" y="948.7" width="24.8" height="2.2" fill="#dedede"/>
<rect x="179.7" y="954.1" width="24.8" height="1.8" fill="#e2e2e2"/>
<rect x="179.7" y="958.3" width="24.8" height="1.8" fill="#dddddd"/>
<rect x="208.4" y="882" width="28.9" height="84" fill="url(#gp)"/>
<rect x="208.9" y="884" width="27.9" height="2.4" fill="#d6d6d6"/>
<rect x="208.4" y="888.2" width="28.9" height="13" fill="#d2d2d2"/>
<rect x="208.4" y="890.2" width="28.9" height="9" fill="#c6c6c6"/>
<rect x="209.4" y="904.2" width="26.9" height="3" fill="#cecece"/>
<rect x="209.4" y="909.7" width="26.9" height="3" fill="#d0d0d0"/>
<rect x="209.4" y="915.2" width="26.9" height="3" fill="#cbcbcb"/>
<rect x="209.4" y="921.2" width="26.9" height="3" fill="#d1d1d1"/>
<rect x="207.9" y="892.1" width="29.9" height="5.6" fill="#bcbcbc"/>
<rect x="209.4" y="927.4" width="26.9" height="4.6" fill="#c0c0c0"/>
<rect x="209.9" y="903.7" width="25.9" height="2.2" fill="#d4d4d4"/>
<rect x="209.9" y="908.5" width="25.9" height="2.2" fill="#dbdbdb"/>
<rect x="209.9" y="913.3" width="25.9" height="2.2" fill="#d3d3d3"/>
<rect x="209.9" y="918.7" width="25.9" height="1.4" fill="#d7d7d7"/>
<rect x="209.9" y="923.5" width="25.9" height="2.2" fill="#d5d5d5"/>
<rect x="209.9" y="935.5" width="25.9" height="1.8" fill="#d8d8d8"/>
<rect x="209.9" y="940.9" width="25.9" height="1.4" fill="#e2e2e2"/>
<rect x="209.9" y="946.3" width="25.9" height="1.4" fill="#e4e4e4"/>
<rect x="209.9" y="949.9" width="25.9" height="1.4" fill="#dbdbdb"/>
<rect x="209.9" y="954.1" width="25.9" height="1.4" fill="#e5e5e5"/>
<rect x="209.9" y="958.3" width="25.9" height="1.8" fill="#dddddd"/>
<rect x="267.5" y="883.5" width="28.9" height="84" fill="url(#gp)"/>
<rect x="268" y="886" width="27.9" height="2.4" fill="#d6d6d6"/>
<rect x="267.5" y="894.2" width="28.9" height="13" fill="#d2d2d2"/>
<rect x="267.5" y="896.2" width="28.9" height="9" fill="#c6c6c6"/>
<rect x="268.5" y="910.2" width="26.9" height="3" fill="#cecece"/>
<rect x="268.5" y="915.7" width="26.9" height="3" fill="#d0d0d0"/>
<rect x="268.5" y="921.2" width="26.9" height="3" fill="#cbcbcb"/>
<rect x="268.5" y="927.2" width="26.9" height="3" fill="#d1d1d1"/>
<rect x="267" y="898.1" width="29.9" height="5.6" fill="#bcbcbc"/>
<rect x="268.5" y="932.3" width="26.9" height="4.6" fill="#c0c0c0"/>
<rect x="269" y="909.7" width="25.9" height="1.4" fill="#d4d4d4"/>
<rect x="269" y="915.1" width="25.9" height="2.2" fill="#d2d2d2"/>
<rect x="269" y="919.9" width="25.9" height="1.8" fill="#d9d9d9"/>
<rect x="269" y="924.7" width="25.9" height="1.8" fill="#d4d4d4"/>
<rect x="269" y="942.1" width="25.9" height="1.4" fill="#dedede"/>
<rect x="269" y="946.3" width="25.9" height="1.4" fill="#dfdfdf"/>
<rect x="269" y="951.7" width="25.9" height="1.8" fill="#e0e0e0"/>
<rect x="269" y="956.5" width="25.9" height="1.4" fill="#dfdfdf"/>
<rect x="300" y="883.5" width="29" height="84" fill="url(#gp)"/>
<rect x="300.5" y="886" width="28" height="2.4" fill="#d6d6d6"/>
<rect x="300" y="894.2" width="29" height="13" fill="#d2d2d2"/>
<rect x="300" y="896.2" width="29" height="9" fill="#c6c6c6"/>
<rect x="301" y="910.2" width="27" height="3" fill="#cecece"/>
<rect x="301" y="915.7" width="27" height="3" fill="#d0d0d0"/>
<rect x="301" y="921.2" width="27" height="3" fill="#cbcbcb"/>
<rect x="301" y="927.2" width="27" height="3" fill="#d1d1d1"/>
<rect x="299.5" y="898.1" width="30" height="5.6" fill="#bcbcbc"/>
<rect x="301" y="932.3" width="27" height="4.6" fill="#c0c0c0"/>
<rect x="301.5" y="909.7" width="26" height="2.2" fill="#dadada"/>
<rect x="301.5" y="914.5" width="26" height="2.2" fill="#d8d8d8"/>
<rect x="301.5" y="918.1" width="26" height="2.2" fill="#d3d3d3"/>
<rect x="301.5" y="923.5" width="26" height="1.8" fill="#d4d4d4"/>
<rect x="301.5" y="928.9" width="26" height="1.8" fill="#d8d8d8"/>
<rect x="301.5" y="942.1" width="26" height="1.4" fill="#dbdbdb"/>
<rect x="301.5" y="947.5" width="26" height="1.4" fill="#dfdfdf"/>
<rect x="301.5" y="952.3" width="26" height="1.4" fill="#dedede"/>
<rect x="301.5" y="955.9" width="26" height="2.2" fill="#e1e1e1"/>
<rect x="301.5" y="959.5" width="26" height="2.2" fill="#e5e5e5"/>
<rect x="332.6" y="883.5" width="30.2" height="84" fill="url(#gp)"/>
<rect x="333.1" y="886" width="29.2" height="2.4" fill="#d6d6d6"/>
<rect x="332.6" y="894.2" width="30.2" height="13" fill="#d2d2d2"/>
<rect x="332.6" y="896.2" width="30.2" height="9" fill="#c6c6c6"/>
<rect x="333.6" y="910.2" width="28.2" height="3" fill="#cecece"/>
<rect x="333.6" y="915.7" width="28.2" height="3" fill="#d0d0d0"/>
<rect x="333.6" y="921.2" width="28.2" height="3" fill="#cbcbcb"/>
<rect x="333.6" y="927.2" width="28.2" height="3" fill="#d1d1d1"/>
<rect x="332.1" y="898.1" width="31.2" height="5.6" fill="#bcbcbc"/>
<rect x="333.6" y="932.3" width="28.2" height="4.6" fill="#c0c0c0"/>
<rect x="334.1" y="909.7" width="27.2" height="1.4" fill="#d4d4d4"/>
<rect x="334.1" y="915.1" width="27.2" height="2.2" fill="#d8d8d8"/>
<rect x="334.1" y="919.9" width="27.2" height="2.2" fill="#dcdcdc"/>
<rect x="334.1" y="924.7" width="27.2" height="1.4" fill="#d4d4d4"/>
<rect x="334.1" y="928.3" width="27.2" height="1.8" fill="#d5d5d5"/>
<rect x="334.1" y="939.1" width="27.2" height="1.4" fill="#e0e0e0"/>
<rect x="334.1" y="943.3" width="27.2" height="2.2" fill="#dbdbdb"/>
<rect x="334.1" y="948.1" width="27.2" height="1.8" fill="#e3e3e3"/>
<rect x="334.1" y="952.3" width="27.2" height="1.4" fill="#dedede"/>
<rect x="334.1" y="957.1" width="27.2" height="2.2" fill="#e2e2e2"/>
<rect x="394.1" y="885" width="29" height="84" fill="url(#gp)"/>
<rect x="394.6" y="888" width="28" height="2.4" fill="#d6d6d6"/>
<rect x="394.1" y="894.2" width="29" height="13" fill="#d2d2d2"/>
<rect x="394.1" y="896.2" width="29" height="9" fill="#c6c6c6"/>
<rect x="395.1" y="910.2" width="27" height="3" fill="#cecece"/>
<rect x="395.1" y="915.7" width="27" height="3" fill="#d0d0d0"/>
<rect x="395.1" y="921.2" width="27" height="3" fill="#cbcbcb"/>
<rect x="395.1" y="927.2" width="27" height="3" fill="#d1d1d1"/>
<rect x="393.6" y="898.1" width="30" height="5.6" fill="#bcbcbc"/>
<rect x="395.1" y="931.1" width="27" height="4.6" fill="#c0c0c0"/>
<rect x="395.6" y="909.7" width="26" height="2.2" fill="#dadada"/>
<rect x="395.6" y="913.3" width="26" height="2.2" fill="#dadada"/>
<rect x="395.6" y="918.1" width="26" height="1.8" fill="#d9d9d9"/>
<rect x="395.6" y="922.3" width="26" height="2.2" fill="#dddddd"/>
<rect x="395.6" y="926.5" width="26" height="1.4" fill="#dbdbdb"/>
<rect x="395.6" y="940.3" width="26" height="1.8" fill="#d8d8d8"/>
<rect x="395.6" y="943.9" width="26" height="1.8" fill="#dcdcdc"/>
<rect x="395.6" y="949.3" width="26" height="1.4" fill="#e3e3e3"/>
<rect x="395.6" y="954.1" width="26" height="2.2" fill="#dbdbdb"/>
<rect x="395.6" y="958.9" width="26" height="1.4" fill="#e5e5e5"/>
<rect x="426.7" y="885" width="28.9" height="84" fill="url(#gp)"/>
<rect x="427.2" y="888" width="27.9" height="2.4" fill="#d6d6d6"/>
<rect x="426.7" y="894.2" width="28.9" height="13" fill="#d2d2d2"/>
<rect x="426.7" y="896.2" width="28.9" height="9" fill="#c6c6c6"/>
<rect x="427.7" y="910.2" width="26.9" height="3" fill="#cecece"/>
<rect x="427.7" y="915.7" width="26.9" height="3" fill="#d0d0d0"/>
<rect x="427.7" y="921.2" width="26.9" height="3" fill="#cbcbcb"/>
<rect x="427.7" y="927.2" width="26.9" height="3" fill="#d1d1d1"/>
<rect x="426.2" y="898.1" width="29.9" height="5.6" fill="#bcbcbc"/>
<rect x="427.7" y="931.1" width="26.9" height="4.6" fill="#c0c0c0"/>
<rect x="428.2" y="909.7" width="25.9" height="1.4" fill="#d4d4d4"/>
<rect x="428.2" y="915.1" width="25.9" height="1.8" fill="#d8d8d8"/>
<rect x="428.2" y="919.3" width="25.9" height="2.2" fill="#d3d3d3"/>
<rect x="428.2" y="922.9" width="25.9" height="2.2" fill="#d4d4d4"/>
<rect x="428.2" y="927.7" width="25.9" height="2.2" fill="#d8d8d8"/>
<rect x="428.2" y="940.9" width="25.9" height="1.4" fill="#d8d8d8"/>
<rect x="428.2" y="946.3" width="25.9" height="1.4" fill="#e2e2e2"/>
<rect x="428.2" y="951.7" width="25.9" height="1.8" fill="#dadada"/>
<rect x="428.2" y="955.3" width="25.9" height="1.4" fill="#e1e1e1"/>
<rect x="428.2" y="959.5" width="25.9" height="1.4" fill="#dfdfdf"/>
<rect x="459.2" y="885" width="29" height="84" fill="url(#gp)"/>
<rect x="459.7" y="888" width="28" height="2.4" fill="#d6d6d6"/>
<rect x="459.2" y="894.2" width="29" height="13" fill="#d2d2d2"/>
<rect x="459.2" y="896.2" width="29" height="9" fill="#c6c6c6"/>
<rect x="460.2" y="910.2" width="27" height="3" fill="#cecece"/>
<rect x="460.2" y="915.7" width="27" height="3" fill="#d0d0d0"/>
<rect x="460.2" y="921.2" width="27" height="3" fill="#cbcbcb"/>
<rect x="460.2" y="927.2" width="27" height="3" fill="#d1d1d1"/>
<rect x="458.7" y="898.1" width="30" height="5.6" fill="#bcbcbc"/>
<rect x="460.2" y="931.1" width="27" height="4.6" fill="#c0c0c0"/>
<rect x="460.7" y="909.7" width="26" height="2.2" fill="#d7d7d7"/>
<rect x="460.7" y="915.1" width="26" height="1.4" fill="#dbdbdb"/>
<rect x="460.7" y="919.3" width="26" height="1.4" fill="#d6d6d6"/>
<rect x="460.7" y="922.9" width="26" height="1.8" fill="#dadada"/>
<rect x="460.7" y="927.1" width="26" height="1.4" fill="#dbdbdb"/>
<rect x="460.7" y="940.9" width="26" height="2.2" fill="#dedede"/>
<rect x="460.7" y="945.7" width="26" height="2.2" fill="#e2e2e2"/>
<rect x="460.7" y="951.1" width="26" height="1.4" fill="#e0e0e0"/>
<rect x="460.7" y="955.9" width="26" height="2.2" fill="#dbdbdb"/>
<rect x="519.5" y="886.5" width="30.2" height="84" fill="url(#gp)"/>
<rect x="520" y="890" width="29.2" height="2.4" fill="#d6d6d6"/>
<rect x="519.5" y="896.6" width="30.2" height="13" fill="#d2d2d2"/>
<rect x="519.5" y="898.6" width="30.2" height="9" fill="#c6c6c6"/>
<rect x="520.5" y="912.6" width="28.2" height="3" fill="#cecece"/>
<rect x="520.5" y="918.1" width="28.2" height="3" fill="#d0d0d0"/>
<rect x="520.5" y="923.6" width="28.2" height="3" fill="#cbcbcb"/>
<rect x="520.5" y="929.6" width="28.2" height="3" fill="#d1d1d1"/>
<rect x="519" y="900.5" width="31.2" height="5.6" fill="#bcbcbc"/>
<rect x="520.5" y="933.5" width="28.2" height="4.6" fill="#c0c0c0"/>
<rect x="521" y="912.1" width="27.2" height="2.2" fill="#d7d7d7"/>
<rect x="521" y="916.3" width="27.2" height="1.8" fill="#d5d5d5"/>
<rect x="521" y="920.5" width="27.2" height="1.4" fill="#d6d6d6"/>
<rect x="521" y="924.7" width="27.2" height="1.8" fill="#dadada"/>
<rect x="521" y="928.3" width="27.2" height="1.8" fill="#d7d7d7"/>
<rect x="521" y="940.9" width="27.2" height="1.4" fill="#dddddd"/>
<rect x="521" y="945.7" width="27.2" height="1.4" fill="#dbdbdb"/>
<rect x="521" y="951.1" width="27.2" height="1.4" fill="#dddddd"/>
<rect x="521" y="956.5" width="27.2" height="2.2" fill="#e4e4e4"/>
<rect x="550.9" y="886.5" width="27.7" height="84" fill="url(#gp)"/>
<rect x="551.4" y="890" width="26.7" height="2.4" fill="#d6d6d6"/>
<rect x="550.9" y="896.6" width="27.7" height="13" fill="#d2d2d2"/>
<rect x="550.9" y="898.6" width="27.7" height="9" fill="#c6c6c6"/>
<rect x="551.9" y="912.6" width="25.7" height="3" fill="#cecece"/>
<rect x="551.9" y="918.1" width="25.7" height="3" fill="#d0d0d0"/>
<rect x="551.9" y="923.6" width="25.7" height="3" fill="#cbcbcb"/>
<rect x="551.9" y="929.6" width="25.7" height="3" fill="#d1d1d1"/>
<rect x="550.4" y="900.5" width="28.7" height="5.6" fill="#bcbcbc"/>
<rect x="551.9" y="933.5" width="25.7" height="4.6" fill="#c0c0c0"/>
<rect x="552.4" y="912.1" width="24.7" height="1.8" fill="#dadada"/>
<rect x="552.4" y="917.5" width="24.7" height="2.2" fill="#d8d8d8"/>
<rect x="552.4" y="922.3" width="24.7" height="1.8" fill="#d9d9d9"/>
<rect x="552.4" y="926.5" width="24.7" height="1.4" fill="#d4d4d4"/>
<rect x="552.4" y="942.1" width="24.7" height="2.2" fill="#dbdbdb"/>
<rect x="552.4" y="946.3" width="24.7" height="1.4" fill="#d9d9d9"/>
<rect x="552.4" y="950.5" width="24.7" height="1.4" fill="#e3e3e3"/>
<rect x="552.4" y="954.7" width="24.7" height="1.4" fill="#e4e4e4"/>
<rect x="552.4" y="959.5" width="24.7" height="1.8" fill="#e2e2e2"/>
<rect x="581" y="886.5" width="27.8" height="84" fill="url(#gp)"/>
<rect x="581.5" y="890" width="26.8" height="2.4" fill="#d6d6d6"/>
<rect x="581" y="896.6" width="27.8" height="13" fill="#d2d2d2"/>
<rect x="581" y="898.6" width="27.8" height="9" fill="#c6c6c6"/>
<rect x="582" y="912.6" width="25.8" height="3" fill="#cecece"/>
<rect x="582" y="918.1" width="25.8" height="3" fill="#d0d0d0"/>
<rect x="582" y="923.6" width="25.8" height="3" fill="#cbcbcb"/>
<rect x="582" y="929.6" width="25.8" height="3" fill="#d1d1d1"/>
<rect x="580.5" y="900.5" width="28.8" height="5.6" fill="#bcbcbc"/>
<rect x="582" y="933.5" width="25.8" height="4.6" fill="#c0c0c0"/>
<rect x="582.5" y="912.1" width="24.8" height="1.8" fill="#d4d4d4"/>
<rect x="582.5" y="917.5" width="24.8" height="2.2" fill="#d8d8d8"/>
<rect x="582.5" y="921.7" width="24.8" height="2.2" fill="#d9d9d9"/>
<rect x="582.5" y="927.1" width="24.8" height="1.8" fill="#d4d4d4"/>
<rect x="582.5" y="941.5" width="24.8" height="1.4" fill="#e0e0e0"/>
<rect x="582.5" y="946.3" width="24.8" height="1.8" fill="#dcdcdc"/>
<rect x="582.5" y="951.7" width="24.8" height="2.2" fill="#dadada"/>
<rect x="582.5" y="955.3" width="24.8" height="1.8" fill="#dbdbdb"/>
<rect x="238.7" y="880" width="26.2" height="86" fill="#f4f4f4"/>
<rect x="240.7" y="915" width="22.2" height="5.2" fill="#bababa"/>
<rect x="240.7" y="940.3" width="22.2" height="5.2" fill="#bababa"/>
<rect x="364.2" y="880" width="26.1" height="86" fill="#f4f4f4"/>
<rect x="366.2" y="881.9" width="22.1" height="5.2" fill="#bababa"/>
<rect x="366.2" y="917.4" width="22.1" height="5.2" fill="#bababa"/>
<rect x="366.2" y="942.7" width="22.1" height="5.2" fill="#bababa"/>
<rect x="492" y="880" width="24.9" height="86" fill="#f4f4f4"/>
<rect x="494" y="882.4" width="20.9" height="5.2" fill="#bababa"/>
<rect x="494" y="917.4" width="20.9" height="5.2" fill="#bababa"/>
<rect x="494" y="943.9" width="20.9" height="5.2" fill="#bababa"/>
</g>
</g>
<rect x="141.8" y="880.5" width="469.7" height="83.2" fill="none" stroke="#000" stroke-width="4.3"/>
<line x1="614" y1="705" x2="635.8" y2="705" stroke="#000" stroke-width="2.1"/>
<text x="647.5" y="713.8" font-size="24.6" textLength="40" lengthAdjust="spacingAndGlyphs">250</text>
<line x1="614" y1="725.7" x2="635.8" y2="725.7" stroke="#000" stroke-width="2.1"/>
<text x="647.5" y="734.5" font-size="24.6" textLength="38.5" lengthAdjust="spacingAndGlyphs">150</text>
<line x1="614" y1="754.8" x2="635.8" y2="754.8" stroke="#000" stroke-width="2.1"/>
<text x="647.5" y="763.6" font-size="24.6" textLength="38.5" lengthAdjust="spacingAndGlyphs">100</text>
<line x1="614" y1="778.5" x2="635.8" y2="778.5" stroke="#000" stroke-width="2.1"/>
<text x="647.5" y="787.3" font-size="24.6" textLength="25.5" lengthAdjust="spacingAndGlyphs">75</text>
<line x1="614" y1="821.6" x2="635.8" y2="821.6" stroke="#000" stroke-width="2.1"/>
<text x="647.5" y="830.4" font-size="24.6" textLength="26" lengthAdjust="spacingAndGlyphs">50</text>
<line x1="614" y1="847.6" x2="635.8" y2="847.6" stroke="#000" stroke-width="2.1"/>
<text x="647.5" y="856.4" font-size="24.6" textLength="24.5" lengthAdjust="spacingAndGlyphs">37</text>
<line x1="614" y1="884.5" x2="635.8" y2="884.5" stroke="#000" stroke-width="2.1"/>
<text x="647.5" y="893.3" font-size="24.6" textLength="25.5" lengthAdjust="spacingAndGlyphs">75</text>
<line x1="614" y1="917.1" x2="635.8" y2="917.1" stroke="#000" stroke-width="2.1"/>
<text x="647.5" y="925.9" font-size="24.6" textLength="26" lengthAdjust="spacingAndGlyphs">50</text>
<line x1="614" y1="945.2" x2="635.8" y2="945.2" stroke="#000" stroke-width="2.1"/>
<text x="647.5" y="954" font-size="24.6" textLength="24.5" lengthAdjust="spacingAndGlyphs">37</text>
<text x="136.2" y="785.6" font-size="30.5" text-anchor="middle" transform="rotate(-90 136.2 785.6)" textLength="58" lengthAdjust="spacingAndGlyphs">PAR</text>
<text x="132" y="916.5" font-size="30.5" text-anchor="middle" transform="rotate(-90 132 916.5)" textLength="71" lengthAdjust="spacingAndGlyphs">PonS</text>
</g>
<g id="panel-e">
<text x="690" y="617.5" font-size="32" font-weight="bold" fill="#231f20" stroke="none">e</text>
<text x="928.6" y="629.6" font-size="28.6" textLength="82.7" lengthAdjust="spacingAndGlyphs">Human</text>
<text x="1181.5" y="629.6" font-size="28.6" textLength="73" lengthAdjust="spacingAndGlyphs">Whale</text>
<path d="M868.9 655.7C869.9 642.4 882.1 643.4 898.9 643.4L937.6 644.6C959.7 644.4 961.6 642.4 963.6 639L975.6 639C977.6 642.4 979.5 644.4 1001.6 644.6L1041 643.4C1057.8 643.4 1070 642.4 1071 655.7L1057.5 655.7C1057 651.1 1045 649.4 1035 649.2L1001.6 650.2C980.6 650.2 972.6 648.6 969.6 644.5C966.6 648.6 958.6 650.2 937.6 650.2L904.9 649.2C894.9 649.4 882.9 651.1 882.4 655.7Z" fill="#000"/>
<path d="M1110.3 655.7C1111.3 642.4 1123.5 643.4 1140.3 643.4L1179 644.6C1201.1 644.4 1203 642.4 1205 639L1217 639C1219 642.4 1220.9 644.4 1243 644.6L1282.4 643.4C1299.2 643.4 1311.4 642.4 1312.4 655.7L1298.9 655.7C1298.4 651.1 1286.4 649.4 1276.4 649.2L1243 650.2C1222 650.2 1214 648.6 1211 644.5C1208 648.6 1200 650.2 1179 650.2L1146.3 649.2C1136.3 649.4 1124.3 651.1 1123.8 655.7Z" fill="#000"/>
<text x="729.9" y="685" font-size="29" textLength="129.3" lengthAdjust="spacingAndGlyphs">Time after</text>
<text x="729.9" y="716.5" font-size="29" textLength="123.4" lengthAdjust="spacingAndGlyphs">20Gy, hrs</text>
<text x="888.7" y="685" font-size="29" text-anchor="middle">-</text>
<text x="925.5" y="685" font-size="29" text-anchor="middle">0</text>
<text x="966.1" y="685" font-size="29" text-anchor="middle">1</text>
<text x="1006.8" y="685" font-size="29" text-anchor="middle">3</text>
<text x="1047.1" y="685" font-size="29" text-anchor="middle">6</text>
<text x="1133.6" y="685" font-size="29" text-anchor="middle">-</text>
<text x="1170.4" y="685" font-size="29" text-anchor="middle">0</text>
<text x="1210" y="685" font-size="29" text-anchor="middle">1</text>
<text x="1251.7" y="685" font-size="29" text-anchor="middle">3</text>
<text x="1292" y="685" font-size="29" text-anchor="middle">6</text>
<text x="1343.5" y="681.6" font-size="29" textLength="49.8" lengthAdjust="spacingAndGlyphs">kDa</text>
<line x1="1342.5" y1="685.6" x2="1394.2" y2="685.6" stroke="#000" stroke-width="2"/>
<g clip-path="url(#ce1)">
<rect x="860" y="697" width="474" height="181" fill="url(#ge)"/>
<rect x="860" y="697" width="474" height="181" fill="url(#gev)"/>
<g filter="url(#b8)">
<rect x="1008" y="697" width="34" height="12" fill="#c2c2c2"/>
<rect x="1080" y="835" width="28" height="45" fill="#b8b8b8"/>
<rect x="1082" y="740" width="24" height="90" fill="#a6a6a6"/>
<rect x="1265" y="725" width="62" height="80" fill="#aaaaaa"/>
<rect x="930" y="770" width="120" height="50" fill="#8e8e8e"/>
<rect x="1000" y="770" width="60" height="40" fill="#8c8c8c"/>
<rect x="1158" y="770" width="30" height="110" fill="#858585"/>
<rect x="1162" y="825" width="24" height="40" fill="#7c7c7c"/>
<rect x="1275" y="820" width="40" height="60" fill="#838383"/>
<rect x="862" y="780" width="12" height="30" fill="#acacac"/>
<rect x="862" y="840" width="10" height="16" fill="#b0b0b0"/>
<rect x="930" y="790" width="14" height="14" fill="#a8a8a8"/>
</g>
<g filter="url(#b4)">
<rect x="1162" y="712" width="25" height="66" fill="#6e6e6e"/>
<rect x="1164" y="724" width="22" height="34" fill="#303030"/>
</g>
<g filter="url(#b2)">
<rect x="1167" y="731" width="15" height="20" fill="#0c0c0c"/>
<ellipse cx="1179.5" cy="752.5" rx="3.2" ry="4.2" fill="#a8a8a8"/>
</g>
<circle cx="953.7" cy="759.6" r="1.6" fill="#1a1a1a"/>
<rect x="860" y="697" width="474" height="181" filter="url(#noise)" opacity="0.32"/>
</g>
<rect x="860.6" y="697.4" width="472.7" height="179.9" fill="none" stroke="#000" stroke-width="4.2"/>
<g clip-path="url(#ce2)">
<rect x="860" y="884" width="474" height="87" fill="#fafafa"/>
<g filter="url(#b1)">
<rect x="874.5" y="921.5" width="39.5" height="11.5" rx="5.5" fill="#0a0a0a"/>
<rect x="880.5" y="949.5" width="26" height="1.4" fill="#d5d5d5"/>
<rect x="913.5" y="922.1" width="39.5" height="11.5" rx="5.5" fill="#0a0a0a"/>
<rect x="919.5" y="949.5" width="26" height="1.4" fill="#d5d5d5"/>
<rect x="952.5" y="921.5" width="42" height="11.5" rx="5.5" fill="#0a0a0a"/>
<rect x="958.5" y="949.5" width="28.5" height="1.4" fill="#d5d5d5"/>
<rect x="994" y="922.1" width="38.5" height="11.5" rx="5.5" fill="#0a0a0a"/>
<rect x="1000" y="949.5" width="25" height="1.4" fill="#d5d5d5"/>
<rect x="1032" y="921.5" width="41.5" height="11.5" rx="5.5" fill="#0a0a0a"/>
<rect x="1038" y="949.5" width="28" height="1.4" fill="#d5d5d5"/>
<rect x="1110.5" y="918.6" width="42" height="10.5" rx="5.2" fill="#0a0a0a"/>
<rect x="1116.5" y="944.5" width="28.5" height="1.4" fill="#dcdcdc"/>
<rect x="1152" y="919.3" width="42" height="10.5" rx="5.2" fill="#0a0a0a"/>
<rect x="1158" y="944.5" width="28.5" height="1.4" fill="#dcdcdc"/>
<rect x="1193.5" y="918.6" width="42.5" height="10.5" rx="5.2" fill="#0a0a0a"/>
<rect x="1199.5" y="944.5" width="29" height="1.4" fill="#dcdcdc"/>
<rect x="1235.5" y="919.3" width="41" height="10.5" rx="5.2" fill="#0a0a0a"/>
<rect x="1241.5" y="944.5" width="27.5" height="1.4" fill="#dcdcdc"/>
<rect x="1276" y="918.6" width="45.5" height="10.5" rx="5.2" fill="#0a0a0a"/>
<rect x="1282" y="944.5" width="32" height="1.4" fill="#dcdcdc"/>
</g>
</g>
<rect x="860.6" y="885" width="472.7" height="84.6" fill="none" stroke="#000" stroke-width="4.2"/>
<line x1="1335.4" y1="718.1" x2="1357.4" y2="718.1" stroke="#000" stroke-width="2.1"/>
<text x="1369.5" y="727.1" font-size="25" textLength="40" lengthAdjust="spacingAndGlyphs">150</text>
<line x1="1335.4" y1="767.7" x2="1357.4" y2="767.7" stroke="#000" stroke-width="2.1"/>
<text x="1369.5" y="776.7" font-size="25" textLength="40" lengthAdjust="spacingAndGlyphs">100</text>
<line x1="1335.4" y1="798.3" x2="1357.4" y2="798.3" stroke="#000" stroke-width="2.1"/>
<text x="1369.5" y="807.3" font-size="25" textLength="26" lengthAdjust="spacingAndGlyphs">75</text>
<line x1="1335.4" y1="835.3" x2="1357.4" y2="835.3" stroke="#000" stroke-width="2.1"/>
<text x="1369.5" y="844.3" font-size="25" textLength="26.5" lengthAdjust="spacingAndGlyphs">50</text>
<line x1="1335.4" y1="859.7" x2="1357.4" y2="859.7" stroke="#000" stroke-width="2.1"/>
<text x="1369.5" y="868.7" font-size="25" textLength="25" lengthAdjust="spacingAndGlyphs">37</text>
<line x1="1335.4" y1="904.6" x2="1357.4" y2="904.6" stroke="#000" stroke-width="2.1"/>
<text x="1369.5" y="913.6" font-size="25" textLength="26.5" lengthAdjust="spacingAndGlyphs">20</text>
<line x1="1335.4" y1="945.9" x2="1357.4" y2="945.9" stroke="#000" stroke-width="2.1"/>
<text x="1369.5" y="950.4" font-size="25" textLength="25.5" lengthAdjust="spacingAndGlyphs">15</text>
<text x="856" y="783.2" font-size="30.5" text-anchor="middle" transform="rotate(-90 856 783.2)" textLength="59" lengthAdjust="spacingAndGlyphs">PAR</text>
<text x="853.3" y="923" font-size="30.5" text-anchor="middle" transform="rotate(-90 853.3 923)" textLength="36.5" lengthAdjust="spacingAndGlyphs">H3</text>
</g>
<g id="panel-h">
<text x="8.5" y="1122.6" font-size="32" font-weight="bold" fill="#231f20" stroke="none">h</text>
<g id="panel-h-axes">
<line x1="132.9" y1="1156.7" x2="132.9" y2="1462.7" stroke="#000" stroke-width="7"/>
<line x1="107.9" y1="1459.2" x2="132.9" y2="1459.2" stroke="#000" stroke-width="7"/>
<text x="96.6" y="1469.2" font-size="28" text-anchor="end">0</text>
<line x1="107.9" y1="1309.7" x2="132.9" y2="1309.7" stroke="#000" stroke-width="7"/>
<text x="96.6" y="1319.7" font-size="28" text-anchor="end">50</text>
<line x1="107.9" y1="1160.2" x2="132.9" y2="1160.2" stroke="#000" stroke-width="7"/>
<text x="96.6" y="1170.2" font-size="28" text-anchor="end">100</text>
<line x1="107.9" y1="1459.2" x2="1441.7" y2="1459.2" stroke="#000" stroke-width="7"/>
<line x1="217" y1="1459.2" x2="217" y2="1483.8" stroke="#000" stroke-width="6.4"/>
<line x1="380" y1="1459.2" x2="380" y2="1483.8" stroke="#000" stroke-width="6.4"/>
<line x1="541.2" y1="1459.2" x2="541.2" y2="1483.8" stroke="#000" stroke-width="6.4"/>
<line x1="704.2" y1="1459.2" x2="704.2" y2="1483.8" stroke="#000" stroke-width="6.4"/>
<line x1="867.2" y1="1459.2" x2="867.2" y2="1483.8" stroke="#000" stroke-width="6.4"/>
<line x1="1029.9" y1="1459.2" x2="1029.9" y2="1483.8" stroke="#000" stroke-width="6.4"/>
<line x1="1192.7" y1="1459.2" x2="1192.7" y2="1483.8" stroke="#000" stroke-width="6.4"/>
<line x1="1355.2" y1="1459.2" x2="1355.2" y2="1483.8" stroke="#000" stroke-width="6.4"/>
<text x="217" y="1518.4" font-size="28.5" text-anchor="middle">Untreated</text>
<text x="380" y="1518.4" font-size="28.5" text-anchor="middle">0</text>
<text x="541.2" y="1518.4" font-size="28.5" text-anchor="middle">0.5</text>
<text x="704.2" y="1518.4" font-size="28.5" text-anchor="middle">1</text>
<text x="867.2" y="1518.4" font-size="28.5" text-anchor="middle">2</text>
<text x="1029.9" y="1518.4" font-size="28.5" text-anchor="middle">3</text>
<text x="1192.7" y="1518.4" font-size="28.5" text-anchor="middle">6</text>
<text x="1355.2" y="1518.4" font-size="28.5" text-anchor="middle">12</text>
<text x="586.2" y="1567.7" font-size="28.5" textLength="398" lengthAdjust="spacingAndGlyphs">Time after H<tspan font-size="17.7" dy="7.1">2</tspan><tspan dy="-7.1">O</tspan><tspan font-size="17.7" dy="7.1">2</tspan><tspan dy="-7.1"> treatment, hours</tspan></text>
<text x="32.6" y="1319.5" font-size="28" text-anchor="middle" transform="rotate(-90 32.6 1319.5)" textLength="213" lengthAdjust="spacingAndGlyphs">Percent Tail  DNA</text>
<circle cx="494.1" cy="1619" r="17.4" fill="#1742f5"/>
<text x="524.3" y="1627.4" font-size="28.5" textLength="193.5" lengthAdjust="spacingAndGlyphs">Bowhead whale</text>
<circle cx="870.3" cy="1618.6" r="17.4" fill="#00f400"/>
<text x="913.6" y="1627.4" font-size="28.5" textLength="88.5" lengthAdjust="spacingAndGlyphs">Human</text>
</g>
<path d="M165.9 1420.9h0M165.9 1414.3h0M166.1 1410.9h0M166 1402.4h0M166 1390.4h0M166 1381.5h0M166 1288.8h0M166 1243.9h0M166 1226h0M166 1220h0M166 1214h0M166 1166.2h0M166 1161.7h0" fill="none" stroke="#1034f6" stroke-width="6.2" stroke-linecap="round" stroke-opacity="0.78"/>
<path d="M157.2 1458.7h0M161.7 1459.2h0M165.7 1459.2h0M170.2 1459.2h0M174.3 1458.5h0M154.4 1459.2h0M177.7 1458.9h0M157.5 1456.3h0M162.2 1454.9h0M165.6 1455h0M170.4 1456.1h0M174.3 1455h0M156.2 1456h0M176.2 1455.1h0M161.6 1455.1h0M166.2 1455.5h0M170.3 1455.6h0M159.6 1456.1h0M172.3 1456.1h0M161.8 1453.3h0M165.6 1452.4h0M170.6 1452.1h0M166.2 1450.1h0M162.6 1449.9h0M169.7 1450.1h0M165.9 1446.3h0M163.8 1446.7h0M168.1 1447.5h0M165.9 1444.6h0M164.8 1444.1h0M167 1444.1h0M166 1440.8h0M166 1441.4h0M166.2 1438.4h0M166.2 1436h0M166 1432.8h0M166 1429.7h0M166.1 1426.6h0M166 1423.8h0" fill="none" stroke="#1034f6" stroke-width="6.1" stroke-linecap="round"/>
<path d="M199.9 1413.2h0M200.1 1410.4h0M200 1403.6h0M200 1384.2h0M200.2 1378.5h0M200.9 1369.5h0M200.9 1360.5h0M199.6 1351.6h0M199.6 1348.6h0M199 1342.6h0M199.2 1336.6h0M199.9 1330.6h0M200.3 1300.7h0M199.5 1291.8h0M199.2 1243.9h0M200.4 1226h0" fill="none" stroke="#1034f6" stroke-width="6.2" stroke-linecap="round" stroke-opacity="0.78"/>
<path d="M191.7 1459.2h0M195.6 1458.8h0M199.8 1459.2h0M204.5 1458.9h0M208.7 1459.2h0M187.3 1459.2h0M212.4 1458.6h0M191.9 1456.8h0M196 1456.9h0M199.7 1455.7h0M204.1 1456.9h0M208.4 1455.8h0M187.7 1456.9h0M211.8 1456.6h0M191.5 1452.5h0M196.1 1453.8h0M200 1453h0M204.2 1452.8h0M208.4 1453.1h0M188 1453.3h0M211.9 1452.7h0M191.9 1450h0M195.8 1450.9h0M200.2 1450.8h0M203.8 1450.8h0M208.1 1450.7h0M188.5 1450.7h0M211.4 1450.9h0M191.4 1446.9h0M195.9 1447.6h0M200.4 1446.6h0M204.2 1446.6h0M208.1 1446.9h0M188.6 1447.7h0M211.2 1447.1h0M191.4 1447.6h0M195.6 1447.4h0M200.1 1447.1h0M204.5 1446.6h0M208 1446.6h0M195.7 1444.4h0M199.9 1444.8h0M204 1444.2h0M192.4 1443.5h0M207.9 1444h0M195.9 1441.2h0M199.6 1440.6h0M204.4 1441.7h0M193 1441.4h0M206.6 1441.6h0M196 1438.6h0M199.6 1438.2h0M204.4 1438.5h0M194.7 1438.6h0M205.2 1438.4h0M195.7 1435.1h0M200.2 1435.2h0M204.2 1435.2h0M200.4 1432h0M196.7 1432.4h0M203.2 1431.8h0M199.9 1432.4h0M198.3 1432.5h0M201.6 1432.7h0M200.1 1429.6h0M198.7 1428.8h0M199.9 1425.7h0M198.9 1426.3h0M200.9 1426.1h0M199.9 1422.3h0M200.1 1419.4h0M200 1399.8h0M199.8 1397.7h0M200.1 1393.7h0M200.1 1391.4h0M200.1 1388.4h0" fill="none" stroke="#1034f6" stroke-width="6.1" stroke-linecap="round"/>
<path d="M225.6 1459.2h0M229.6 1458.7h0M238.5 1458.6h0M242.2 1458.5h0M221.7 1459.2h0M246.1 1459.2h0M229.8 1455.6h0M234.2 1455.3h0M238.4 1455.8h0M223.8 1456.1h0M243.7 1456.1h0M229.8 1455.5h0M233.6 1456.1h0M226.1 1455.5h0M242.3 1456h0M229.8 1453h0M233.8 1453.4h0M226.5 1452.3h0M241.4 1452.6h0M229.7 1449.3h0M234 1450.5h0M237.9 1449.9h0M240.6 1450h0M230 1446.8h0M234 1446.7h0M238 1447.3h0M228.1 1446.5h0M239.8 1447.2h0M229.5 1444.3h0M233.9 1444.2h0M230.4 1443.8h0M230.3 1441h0M233.6 1437.6h0M237.1 1438.6h0M231.8 1435.7h0M235.9 1435.1h0M234 1432.9h0M232.1 1432.5h0M235.8 1432.1h0M234.1 1429.4h0M232.9 1429.5h0M233.8 1426.5h0M234.1 1423.5h0M233.8 1420.8h0M234 1417.6h0M234.1 1414.7h0M233.6 1163.8h0M231.3 1163.7h0M236.6 1163.1h0M233.9 1160.4h0M230.9 1160.7h0M237.3 1160.2h0" fill="none" stroke="#00f400" stroke-width="6.1" stroke-linecap="round"/>
<path d="M259.2 1458.8h0M263.8 1459h0M268 1459.2h0M271.8 1459.2h0M276.8 1459.1h0M255.9 1459.2h0M279.9 1459.1h0M259.5 1456.8h0M263.8 1455.9h0M267.7 1456.6h0M272.4 1456.4h0M276.6 1455.9h0M256.3 1456.5h0M280.1 1456.3h0M259.8 1453.1h0M263.9 1453.6h0M267.9 1452.7h0M271.9 1453.9h0M276.5 1453.3h0M256.7 1453h0M279.4 1453.1h0M259.4 1450.9h0M264.2 1450h0M268.3 1450.5h0M272.5 1449.8h0M276.7 1451h0M256.6 1450.6h0M279.7 1449.8h0M259.8 1446.5h0M263.5 1447.2h0M268.1 1447.5h0M271.9 1447.8h0M276.3 1447.3h0M256.5 1447h0M279.2 1447.3h0M259.3 1444h0M263.5 1443.5h0M267.8 1444.5h0M272.2 1444.2h0M276.6 1444.6h0M257.1 1443.7h0M279.4 1444h0M259.5 1440.9h0M263.5 1441.1h0M268.4 1440.9h0M271.8 1441h0M276.4 1441.2h0M256.9 1441.1h0M278.9 1440.8h0M259.6 1441.7h0M263.5 1441.4h0M268.3 1440.6h0M272.5 1441.3h0M276.7 1440.6h0M263.7 1438.7h0M268.2 1437.6h0M272.6 1437.9h0M260.1 1438.4h0M276.2 1437.6h0M263.9 1436h0M267.8 1436h0M272 1435.9h0M260.8 1435.7h0M275.8 1436h0M263.5 1432.8h0M268.3 1431.7h0M272.4 1432.9h0M261.7 1431.7h0M274.7 1432.4h0M264.1 1429.2h0M268.3 1429.8h0M272 1429.3h0M262.4 1429h0M274 1429.1h0M263.9 1425.8h0M268.2 1426h0M272.1 1426.4h0M262.6 1426.5h0M272.9 1425.7h0M263.7 1423h0M267.6 1423.9h0M272.3 1423.9h0M267.8 1420.9h0M264.4 1420.2h0M271.2 1420.6h0M267.6 1417.3h0M265.5 1417.8h0M270.5 1417.3h0M268.2 1413.9h0M265.8 1413.9h0M270.1 1413.6h0M268 1414h0M266.5 1415h0M269.5 1414.1h0M268 1411.1h0M267 1410.6h0M269 1411.7h0M268.1 1408.4h0M267.8 1404.3h0M268.1 1400.9h0M267.8 1398.8h0M268.2 1394.8h0M268 1391h0M267.8 1387.6h0M268 1385.3h0M268.1 1381.3h0M268.1 1377.8h0M268.2 1379.1h0M267.9 1369.4h0M268.1 1365.6h0M267.8 1356.8h0M268 1350.4h0M267.9 1346.8h0M267.9 1343.3h0M267.9 1337.4h0M268.1 1328.2h0M267.8 1321.5h0M267.9 1315.7h0M268.1 1311.9h0M267.9 1309.7h0M268.2 1305.6h0M268.2 1299h0M268.1 1292.6h0M267.9 1286.5h0M267.9 1284.5h0M268.1 1281h0M267.9 1277.6h0M267.9 1270.8h0M268.2 1265.1h0M267.8 1261.5h0M268 1252.4h0M267.8 1248.7h0M268.1 1246.3h0M268.1 1243.3h0M267.9 1239.6h0M268.1 1237.2h0M268.2 1226.6h0M268.2 1218.2h0M268.1 1207.5h0M268 1204.5h0M267.6 1196.1h0M267.6 1187.1h0M268.3 1178.1h0M268.4 1172.2h0M268.7 1166.2h0M268.2 1163.2h0M267.3 1160.2h0" fill="none" stroke="#00f400" stroke-width="6.1" stroke-linecap="round"/>
<path d="M328.9 1234.4h0M329.1 1231.3h0M329 1227.9h0M328.9 1219.4h0M329.2 1216.2h0M329 1212.7h0M328.9 1209.3h0M329.2 1203.2h0M328.9 1200.4h0M328.9 1196.7h0M328.9 1189.9h0M328.7 1249.9h0M328.8 1258.9h0M328.5 1267.8h0M328.6 1273.8h0M329.4 1279.8h0M328.9 1300.7h0M328.7 1306.7h0M328.8 1339.6h0M329.6 1345.6h0M329.7 1351.6h0M328.7 1357.5h0M328.7 1360.5h0M328.7 1390.4h0M329.4 1423.3h0M329.6 1429.3h0M328.5 1435.3h0M328.3 1457.7h0" fill="none" stroke="#1034f6" stroke-width="6.2" stroke-linecap="round" stroke-opacity="0.78"/>
<path d="M328.9 1184h0M329.2 1181.1h0M329 1178.1h0M327.1 1178.1h0M330.9 1178.9h0M328.7 1175.5h0M325 1175.5h0M332.8 1174.5h0M324.5 1172.8h0M329.2 1171.7h0M333.2 1171.9h0M322.1 1172.6h0M336.1 1172h0M320.6 1169.9h0M324.8 1169.8h0M328.8 1168.9h0M333.3 1169.5h0M337.5 1168.7h0M317.1 1168.6h0M340.7 1168.7h0M316.8 1165.7h0M321 1165.6h0M324.4 1166h0M328.6 1166.5h0M333.3 1165.5h0M337.1 1165.9h0M341.9 1166.5h0M316 1162.8h0M320.9 1162.7h0M324.9 1163.6h0M328.7 1163.3h0M333.3 1163.2h0M337.3 1162.5h0M342 1163.4h0M316.1 1160.2h0M320.3 1160.2h0M324.8 1160.3h0M328.9 1160.2h0M333.5 1160.9h0M337.3 1160.2h0M341.4 1160.2h0M329.1 1183.4h0M328.4 1441.3h0M328.7 1444.2h0M329.5 1447.2h0M329.5 1450.2h0M329.7 1453.2h0M328.9 1456.2h0" fill="none" stroke="#1034f6" stroke-width="6.1" stroke-linecap="round"/>
<path d="M363.2 1309.8h0M362.8 1303.1h0M363.1 1299.6h0M362.8 1291.5h0M362.9 1281.8h0M363.2 1276.2h0M363.1 1269.6h0M362.8 1266h0M363.1 1260.5h0M363.1 1257.3h0M362.9 1248.2h0M362.8 1232.1h0M363 1225.3h0M363.1 1223.4h0M363 1216.8h0M363.1 1210.2h0M362.9 1204.1h0M362.9 1201.3h0M363 1345.6h0M363 1363.5h0M363 1408.4h0M363 1438.3h0M363 1450.2h0" fill="none" stroke="#1034f6" stroke-width="6.2" stroke-linecap="round" stroke-opacity="0.78"/>
<path d="M363.1 1188.8h0M362.9 1186h0M363 1182.3h0M361.6 1182.7h0M364.6 1182h0M363.2 1179.8h0M360.4 1178.7h0M365.9 1179.7h0M359.2 1176.5h0M362.7 1176h0M366.9 1176.3h0M357.3 1176.2h0M368.1 1176.1h0M354.6 1173.3h0M358.7 1172.1h0M363 1173.1h0M366.9 1172.7h0M371.1 1172.8h0M354.2 1169.7h0M358.5 1169.4h0M362.9 1169.4h0M367.1 1169.6h0M371.2 1169.7h0M350.9 1169.6h0M375.3 1169.8h0M350.6 1166.2h0M354.6 1166.9h0M358.6 1167.2h0M362.7 1166.8h0M367 1165.9h0M371.2 1165.9h0M375.2 1166.6h0M350.2 1162.7h0M355 1163.4h0M358.6 1163.7h0M363.1 1162.8h0M367.5 1162.8h0M371.5 1164h0M375.3 1163.2h0M350.1 1160.2h0M354.9 1160.2h0M359.1 1160.5h0M363 1160.4h0M367.2 1160.2h0M371.1 1160.2h0M375.4 1160.8h0M362.9 1251h0M362.9 1245.1h0M362.8 1241.4h0M362.8 1239h0M363.1 1235.7h0M363.1 1219.1h0M362.9 1212.9h0M362.9 1188.8h0" fill="none" stroke="#1034f6" stroke-width="6.1" stroke-linecap="round"/>
<path d="M397.1 1177.6h0M397.2 1175h0M396 1175.1h0M398 1174.6h0M397.4 1171.8h0M393.7 1172.5h0M400.2 1172.3h0M392.6 1169.1h0M396.7 1168.9h0M400.8 1168.6h0M388.5 1169.2h0M405.3 1169.4h0M388.2 1165.6h0M392.7 1165.7h0M396.9 1166.8h0M401.1 1165.6h0M405.7 1165.7h0M384.6 1166h0M409.2 1166.1h0M384.1 1163.5h0M388.8 1163.8h0M393.1 1163h0M397.1 1163.2h0M401.3 1162.9h0M405.1 1163.5h0M409.7 1163.5h0M384.1 1160.7h0M388.9 1160.7h0M392.7 1160.2h0M396.6 1160.7h0M401.1 1160.8h0M405.2 1160.2h0M409.2 1160.2h0M397 1226.1h0M396.8 1222.4h0M397.1 1218.9h0M396.9 1216.2h0M396.9 1212.8h0M397.1 1207.2h0M396.9 1203.9h0M397 1200.5h0M397.1 1197.2h0M397 1194.3h0M396.9 1187.2h0M396.9 1184.1h0M397 1181.3h0M397 1258.9h0M397 1384.5h0M397 1421.8h0M397 1454.7h0" fill="none" stroke="#00f400" stroke-width="6.1" stroke-linecap="round"/>
<path d="M431 1191.7h0M430.1 1192.2h0M432.2 1191.5h0M431.2 1189.1h0M429.7 1188.4h0M432.3 1189.1h0M430.9 1185.9h0M429.3 1185.5h0M432.8 1186h0M430.6 1182.8h0M428.2 1182.5h0M434.3 1182.8h0M427.1 1178.9h0M431.2 1178.4h0M435.5 1179.7h0M426.9 1175.4h0M431.1 1176.2h0M435.3 1175.2h0M423.3 1175.5h0M438.1 1175.2h0M422.3 1173.2h0M427.1 1172.3h0M431.2 1173h0M435.4 1173.1h0M439.7 1172.3h0M420.4 1172.1h0M442 1173.1h0M418.7 1169.5h0M422.3 1169.7h0M427 1169.6h0M431.4 1169.6h0M435.5 1169.8h0M439 1169.2h0M443.8 1170.3h0M418.4 1166.8h0M422.7 1166.7h0M426.6 1166.6h0M430.7 1167h0M435.5 1166.1h0M439.2 1166.2h0M443.2 1166.9h0M418.2 1163h0M422.7 1163.1h0M426.5 1163.4h0M430.9 1163.6h0M434.9 1163.5h0M439.1 1162.9h0M443.7 1162.7h0M418.6 1160.2h0M422.6 1160.2h0M426.8 1160.4h0M431.4 1160.2h0M435.2 1160.9h0M439.6 1160.2h0M443.8 1160.3h0M430.9 1249.8h0M431 1247.3h0M430.8 1243.9h0M430.9 1240.4h0M431 1238.1h0M430.9 1235h0M431.1 1231.5h0M431 1228.1h0M430.8 1224.8h0M431 1222.3h0M430.9 1219.7h0M431.1 1215.5h0M431.1 1213.1h0M430.9 1210.3h0M430.2 1209.9h0M431.7 1210.7h0M431 1206.3h0M430.2 1207h0M432 1206.4h0M431 1203.3h0M430 1203.9h0M431.8 1203.5h0M430.8 1200.5h0M430.3 1200.1h0M432.1 1200.2h0M430.8 1197.5h0M430.2 1198.1h0M432 1197.4h0M431 1195.3h0M429.8 1194.5h0M432 1194.5h0M431.1 1192h0M430 1191.3h0M431.9 1192.2h0M430.8 1459.2h0M430.9 1456.4h0M431.2 1452.5h0M431 1449.6h0M431.1 1447.4h0M431.1 1443.9h0M430.8 1440.3h0M430.8 1438.1h0M431 1433.8h0M431 1431.3h0M431.1 1428.6h0M431.1 1424.6h0M431 1421.9h0M431 1418.5h0M431.2 1415.8h0M431.1 1409.4h0M431.1 1405.7h0M430.8 1403.2h0M431 1399.2h0M430.9 1396.8h0M431 1393.6h0M431.1 1390.3h0M431 1387.8h0M431.1 1383.6h0M430.9 1381.4h0M430.8 1378.3h0M431.1 1375.6h0M431.1 1372.5h0M431.1 1368.7h0M430.9 1365.2h0M431.1 1361.9h0M430.9 1359.5h0M431 1352.2h0M431.2 1350.5h0M431 1346.5h0M431 1343.1h0M431.2 1341.1h0M430.9 1337.3h0M431 1334.9h0M430.8 1331.7h0M431 1328.1h0M431.1 1325.5h0M431 1321.2h0M430.9 1319.3h0M430.9 1312.9h0M430.9 1306.2h0M431.1 1303.7h0M431.2 1300.5h0M431.1 1296.4h0M431.1 1290.4h0M430.9 1287.3h0M430.9 1283.9h0M431 1278h0M430.9 1274.4h0M431.1 1271.6h0M431.1 1268.1h0M431.1 1266h0M431.1 1261.7h0M430.9 1259.7h0M431.1 1256.3h0M431.1 1249.3h0" fill="none" stroke="#00f400" stroke-width="6.1" stroke-linecap="round"/>
<path d="M490.1 1214.4h0M490.3 1211.2h0M490 1193.3h0M490.3 1189h0M490.2 1236.4h0M490.2 1282.8h0M490.2 1309.7h0M490.2 1414.4h0M490.2 1423.3h0M490.2 1429.3h0M490.2 1444.2h0M490.2 1459.2h0" fill="none" stroke="#1034f6" stroke-width="6.2" stroke-linecap="round" stroke-opacity="0.78"/>
<path d="M490 1177.4h0M490.3 1173.2h0M488.3 1173.2h0M491.9 1173.9h0M485.6 1170.6h0M490.3 1169.9h0M494.2 1169.8h0M482.4 1171h0M497.8 1169.9h0M482.1 1166.8h0M485.8 1166.8h0M490.1 1166.9h0M494.7 1166.3h0M498.6 1167.6h0M478 1167.4h0M502.5 1167.6h0M477.4 1163h0M482.1 1163.6h0M486.1 1163.7h0M489.8 1163.5h0M494.2 1164.1h0M498.9 1162.9h0M502.7 1163.9h0M477.4 1160.2h0M481.6 1160.2h0M486.4 1160.2h0M490.3 1160.2h0M494 1160.5h0M498.5 1160.2h0M502.9 1160.7h0M490.1 1207.4h0M490.2 1204.4h0M490.1 1201.2h0M490 1198h0M490.3 1183.6h0M490.2 1180.6h0M490.4 1177.3h0" fill="none" stroke="#1034f6" stroke-width="6.1" stroke-linecap="round"/>
<path d="M524.1 1232.3h0M524.1 1198.4h0M524.1 1191.9h0M524.1 1188.7h0M524.2 1243.9h0M524.2 1255.9h0M524.2 1261.9h0M524.2 1270.8h0M524.2 1281.3h0M524.2 1429.3h0M524.2 1441.3h0" fill="none" stroke="#1034f6" stroke-width="6.2" stroke-linecap="round" stroke-opacity="0.78"/>
<path d="M524.1 1179.8h0M524.3 1176.8h0M523.2 1176.6h0M525.2 1176.4h0M524.4 1173.2h0M520.2 1172.6h0M528.2 1172.9h0M515.9 1170h0M520 1170.6h0M524.1 1170.2h0M528 1170.1h0M532.7 1169.7h0M514.8 1170.3h0M533.6 1169.5h0M512 1167.3h0M515.6 1166.8h0M519.8 1167.2h0M524 1166.3h0M528.2 1166.2h0M532.3 1167.2h0M537 1166.4h0M511.5 1163h0M516 1164h0M519.7 1164.1h0M524.3 1163.2h0M528.1 1163.3h0M532.2 1163.8h0M537 1162.7h0M511.7 1160.4h0M516 1160.2h0M520.4 1160.2h0M524 1160.2h0M528.6 1160.2h0M532.4 1160.2h0M537.2 1160.2h0M524.1 1228.2h0M524.1 1226.1h0M524.1 1223h0M524.3 1220.2h0M524.3 1216.9h0M524.1 1212.8h0M524.1 1209.7h0M524.2 1207.8h0M524.1 1204.9h0M524.4 1200.6h0M524.1 1195.3h0M524.2 1183.1h0M524.1 1179.1h0" fill="none" stroke="#1034f6" stroke-width="6.1" stroke-linecap="round"/>
<path d="M558.4 1174.6h0M558.2 1172.3h0M556.4 1171.5h0M560.1 1171.7h0M554.2 1168.9h0M558.2 1169.7h0M562.8 1168.6h0M551.3 1169.9h0M565.3 1169.3h0M549.5 1166.6h0M553.9 1166.7h0M557.8 1166.7h0M562.1 1165.7h0M566.6 1166.4h0M546.2 1166h0M570.1 1166h0M546 1163.8h0M550.1 1163.9h0M554 1162.6h0M558.6 1163.5h0M562.5 1162.5h0M566.7 1163.5h0M570.9 1162.8h0M545.9 1160.2h0M549.9 1160.9h0M554 1160.3h0M558.1 1160.2h0M562.5 1160.2h0M566.6 1160.9h0M570.6 1160.6h0M558.3 1220.1h0M558.3 1217.3h0M558.1 1213.3h0M558 1210.1h0M558.1 1207.8h0M558.2 1204.4h0M558.1 1197.1h0M558.2 1194.2h0M558.2 1191.9h0M558.2 1187.6h0M558.2 1185h0M558.3 1181.9h0M558.3 1179h0M558.3 1175.5h0M558.2 1249.9h0M558.2 1252.9h0M558.2 1264.8h0M558.2 1291.8h0M558.2 1351.6h0M558.2 1411.4h0M558.2 1426.3h0M558.2 1454.7h0" fill="none" stroke="#00f400" stroke-width="6.1" stroke-linecap="round"/>
<path d="M592.3 1187.6h0M591.2 1187.1h0M593.5 1186.6h0M592.2 1183.9h0M590.9 1184.6h0M593.8 1184.3h0M592.2 1181.8h0M589.6 1180.8h0M595 1180.6h0M588.2 1177.7h0M592.4 1177.6h0M596.8 1178.3h0M587.2 1177.8h0M597.4 1177.5h0M583.7 1175.6h0M588.3 1175.4h0M592.4 1174.9h0M596.8 1175.1h0M600.5 1175.4h0M583.9 1172.1h0M588.3 1172.6h0M592.3 1171.8h0M596 1171.7h0M600.3 1171.5h0M580.3 1172.6h0M604.8 1171.8h0M579.2 1168.9h0M583.6 1169.3h0M588 1168.5h0M592.3 1169.7h0M596.4 1168.7h0M600.8 1169.9h0M604.9 1169.7h0M580 1166.5h0M583.9 1166h0M588 1165.6h0M591.9 1166.1h0M596.1 1165.6h0M600.4 1166.6h0M605.1 1165.7h0M580 1163.6h0M584.1 1162.8h0M587.9 1163.8h0M592.2 1163h0M596.7 1163.4h0M600.3 1163.1h0M605 1163.5h0M579.7 1160.7h0M583.8 1160.2h0M587.9 1160.3h0M591.9 1160.2h0M596.2 1160.2h0M600.8 1160.9h0M604.6 1160.2h0M592.3 1442h0M592.1 1438.6h0M592.2 1435.4h0M592.3 1431.2h0M592.2 1428.9h0M592 1425h0M592 1423.2h0M592.3 1419.6h0M592.1 1416.3h0M592.1 1412.7h0M592.4 1409.2h0M592.4 1406.3h0M592 1404h0M592.3 1400h0M592.3 1397.7h0M592.2 1393.7h0M592.4 1391.8h0M592.2 1388h0M592.4 1384.8h0M592.2 1381.8h0M592 1378h0M592.4 1375.1h0M592.4 1372.1h0M592.4 1369.1h0M592.1 1365.4h0M592.2 1363.2h0M592 1359.1h0M592.1 1356.9h0M591.4 1356.2h0M593.1 1357.2h0M592.2 1354h0M591.4 1353.4h0M593 1352.9h0M592 1350.5h0M591.2 1350.1h0M593.1 1350.1h0M592.1 1347.5h0M591.4 1347.4h0M592.8 1347.3h0M592.2 1344.3h0M591.5 1343.4h0M593 1344.1h0M592.1 1340.3h0M591.3 1341.6h0M592.9 1341.3h0M592.2 1337.4h0M591.5 1337.3h0M593 1337.9h0M592.2 1334.5h0M591.3 1334.5h0M593.1 1334.5h0M592.2 1332h0M591.3 1331.9h0M593.1 1330.8h0M592.1 1328.6h0M591.3 1328.4h0M593.2 1327.8h0M592.2 1325h0M591.3 1324.8h0M593 1324.7h0M592.1 1322.3h0M591.2 1321.7h0M593 1322.3h0M592.1 1318.8h0M591.4 1318.4h0M593.1 1319.3h0M592.4 1315.3h0M591.5 1315.3h0M593.3 1315h0M592.2 1312.1h0M591.5 1312.7h0M593.1 1312.7h0M592.2 1310.2h0M591.4 1310.2h0M593.3 1309.5h0M592.4 1306.5h0M591.2 1306.5h0M593 1305.6h0M592.1 1303.8h0M591.4 1302.5h0M593.2 1303.5h0M592.2 1300.4h0M591.1 1300.3h0M593.2 1300.1h0M592.4 1296.8h0M591.4 1296.8h0M593.2 1296.6h0M592 1293.7h0M591.4 1293.1h0M593.3 1294.3h0M592 1291.1h0M591.4 1290.6h0M593.1 1291.2h0M592.1 1287.1h0M591.3 1287.4h0M593.2 1287h0M592.2 1284.4h0M591.1 1285h0M593.1 1284.9h0M592 1281.3h0M591.4 1280.9h0M593.2 1282h0M592.2 1278h0M591.4 1278.3h0M593 1278.4h0M592.3 1274.8h0M591 1275h0M593.1 1274.9h0M592.3 1271.7h0M591 1271.8h0M593.1 1271.1h0M592.3 1268.7h0M591.1 1268.7h0M593.1 1269.2h0M592.2 1265h0M591.1 1265.8h0M593.1 1265.8h0M592.2 1262.1h0M591.2 1261.9h0M593.4 1261.9h0M592.1 1259.5h0M591.3 1259.6h0M593.1 1259.7h0M592.2 1255.7h0M591.2 1256.8h0M593.2 1256.9h0M592.3 1253.6h0M591.2 1253.4h0M593.3 1252.9h0M592.3 1249.8h0M591.1 1249.9h0M593.2 1249.5h0M592.3 1246.6h0M591 1246h0M593.2 1247.5h0M591.2 1242.9h0M593.2 1243.7h0M592.1 1239.9h0M591.1 1240.6h0M593.4 1240.6h0M592.1 1237.6h0M591.2 1236.6h0M593.1 1237.9h0M592.4 1234.4h0M591 1233.9h0M593.3 1233.9h0M592.3 1231h0M591 1230.7h0M593.4 1230.9h0M592.4 1227.3h0M591 1227.6h0M593.2 1228h0M592.1 1225.4h0M590.9 1225.2h0M593.3 1224.5h0M592.1 1221.6h0M591.1 1221.7h0M593.4 1222h0M592 1217.9h0M591.1 1217.7h0M593.4 1219.1h0M592.3 1215h0M591 1215.2h0M593.4 1215.2h0M592.3 1212h0M591 1212h0M593.3 1212h0M592.1 1209.7h0M591.1 1208.8h0M593.3 1209.1h0M592.1 1205.5h0M591 1205.6h0M593.2 1205.5h0M592.4 1203.4h0M593.3 1202.3h0M592.1 1200h0M591.1 1199.7h0M593.2 1199.6h0M592 1197h0M591 1196.9h0M593.3 1197.2h0M592.1 1193.4h0M591.1 1193.6h0M593.4 1192.7h0M592 1189.6h0M590.9 1190.5h0M593.6 1189.8h0M592.2 1186.7h0M591 1187.8h0M593.3 1187.5h0M592.2 1459.2h0" fill="none" stroke="#00f400" stroke-width="6.1" stroke-linecap="round"/>
<path d="M653.3 1240.8h0M653 1196.6h0M653.1 1191.2h0M653.2 1252.9h0M653.2 1255.9h0M653.2 1278.3h0M653.2 1308.2h0M653.2 1321.7h0M653.2 1368h0M653.2 1384.5h0M653.2 1396.4h0M653.2 1417.3h0M653.2 1433.8h0M653.2 1444.2h0M653.2 1448.7h0" fill="none" stroke="#1034f6" stroke-width="6.2" stroke-linecap="round" stroke-opacity="0.78"/>
<path d="M653.2 1184h0M653.1 1181h0M653 1178.1h0M650.7 1177.4h0M655.6 1177.9h0M648.9 1174.4h0M653.4 1174.5h0M657.1 1174.5h0M644.6 1172.8h0M648.9 1172.5h0M653.2 1172.6h0M657.5 1171.5h0M661.4 1172.8h0M644.8 1168.6h0M649.3 1168.8h0M653.1 1169.7h0M657.6 1169h0M661.3 1169.9h0M640.7 1168.6h0M665.4 1169.2h0M640.4 1166h0M644.7 1166.6h0M649 1166.9h0M653.5 1166.8h0M657.5 1165.8h0M661.2 1166.3h0M666 1165.8h0M640.5 1162.7h0M645.1 1162.7h0M649.1 1162.9h0M652.9 1162.7h0M657.3 1162.8h0M661.2 1163.3h0M665.8 1163.4h0M640.8 1160.2h0M644.6 1160.5h0M649.1 1160.3h0M653.1 1160.6h0M657.4 1160.2h0M661.4 1160.2h0M665.9 1160.2h0M653.2 1237.3h0M653.4 1234.8h0M653.3 1231.6h0M653.2 1228.9h0M653.2 1225.1h0M653.2 1222.7h0M653.3 1219.5h0M653.1 1215.5h0M653.2 1212h0M653.2 1209h0M653.3 1205.6h0M653.4 1203.3h0M653.2 1200.6h0M653.1 1188h0M653.2 1184.1h0" fill="none" stroke="#1034f6" stroke-width="6.1" stroke-linecap="round"/>
<path d="M687.1 1273.2h0M687.2 1271.3h0M687.2 1263.9h0M687.1 1258.3h0M687.3 1254.6h0M687.2 1251.6h0M687.3 1247.8h0M687.2 1244.7h0M687.3 1236h0M687 1216.1h0M687.6 1309.7h0M686.9 1315.7h0M687.1 1324.7h0M687.1 1333.6h0M687.2 1339.6h0M687 1342.6h0M686.7 1368h0M686.9 1375.5h0M687.1 1381.5h0M686.9 1405.4h0M687.3 1411.4h0M687 1417.3h0M687.4 1423.3h0M686.9 1429.3h0M687.3 1435.3h0M687.3 1441.3h0M687.7 1447.2h0M687.7 1456.2h0M687.2 1459.2h0" fill="none" stroke="#1034f6" stroke-width="6.2" stroke-linecap="round" stroke-opacity="0.78"/>
<path d="M687.1 1203.7h0M687.4 1199.8h0M687.1 1197h0M687.3 1194.4h0M686.1 1194.2h0M688.2 1193.6h0M687.2 1191.6h0M685.6 1190.5h0M688.9 1191.9h0M687 1187.4h0M685 1188.3h0M690 1187.7h0M687.2 1184.7h0M683.4 1185.1h0M691 1184.9h0M683.3 1182.5h0M687 1181.5h0M691.1 1181.4h0M682.3 1181.6h0M692.2 1181.4h0M683.3 1179.1h0M687.3 1178.2h0M691.4 1178.7h0M680.5 1178.4h0M693.6 1179h0M678.9 1176.2h0M683.3 1175.6h0M687.4 1176.3h0M691.7 1175.8h0M695.9 1176.2h0M678.8 1172.6h0M683.1 1172.3h0M687.4 1172.7h0M691.1 1172.2h0M695.9 1172.2h0M676.4 1172.5h0M698 1173.3h0M674.7 1168.8h0M679.1 1169.9h0M683.1 1170h0M687.4 1169.4h0M691.4 1169h0M695.7 1169h0M699.9 1168.8h0M674.9 1166.3h0M678.7 1166.5h0M683.3 1165.9h0M687.3 1165.8h0M691.1 1166.7h0M695.6 1165.9h0M699.9 1167h0M674.8 1162.7h0M679.1 1162.8h0M683.1 1162.6h0M687.2 1162.6h0M691.8 1163.2h0M695.8 1164h0M700.1 1164h0M674.6 1160.2h0M678.7 1160.2h0M683.2 1160.7h0M687.2 1160.2h0M691.3 1160.5h0M695.7 1160.7h0M699.8 1160.2h0M687.1 1268.1h0M687.2 1232.4h0M687.4 1229.4h0M687.3 1225.9h0M687.4 1223.5h0M687.3 1219.5h0M687.1 1213.9h0M687.2 1209.5h0M687 1206.4h0M687.3 1203.3h0M687.5 1453.2h0" fill="none" stroke="#1034f6" stroke-width="6.1" stroke-linecap="round"/>
<path d="M721 1178.1h0M721 1175.3h0M720.2 1174.4h0M722.2 1175.4h0M721.1 1171.6h0M717.5 1172.5h0M724.8 1172h0M717.1 1169.2h0M721.5 1169.5h0M725.6 1168.9h0M712.9 1168.9h0M729 1169.7h0M712.4 1166.2h0M717.1 1166.5h0M721.1 1165.7h0M725.8 1165.9h0M729.3 1166.2h0M708.8 1166.9h0M733.2 1166.6h0M708.7 1162.6h0M712.4 1163h0M717.1 1162.8h0M721.2 1162.6h0M725.2 1163.1h0M729.7 1162.6h0M733.6 1163.4h0M708.4 1160.8h0M712.8 1160.7h0M716.6 1160.2h0M721.4 1160.2h0M725.5 1160.7h0M729.6 1160.4h0M734.2 1160.8h0M721.1 1205.4h0M721.3 1201.9h0M721.2 1198.6h0M721.2 1196.3h0M721.3 1192.6h0M721.4 1189.7h0M721.4 1187.7h0M721.3 1183.9h0M721.3 1180.9h0M721.2 1177.5h0M721.2 1220h0M721.2 1229h0M721.2 1240.9h0M721.2 1252.9h0M721.2 1258.9h0M721.2 1284.3h0M721.2 1288.8h0M721.2 1327.6h0M721.2 1372.5h0M721.2 1387.4h0M721.2 1441.3h0" fill="none" stroke="#00f400" stroke-width="6.1" stroke-linecap="round"/>
<path d="M755.4 1212.5h0M753.7 1212.9h0M756.7 1211.9h0M755.4 1210.1h0M753.7 1209.2h0M756.8 1209.3h0M755.2 1206.1h0M753.5 1205.9h0M756.9 1207h0M755.3 1203.3h0M753.5 1203.2h0M756.9 1203.1h0M755.1 1200.6h0M753.1 1200h0M757.7 1200.5h0M755.5 1196.4h0M752.2 1196.9h0M758.1 1197.4h0M754.8 1193.4h0M751.6 1193.9h0M758.9 1194.2h0M750.7 1190.9h0M754.9 1191h0M759.3 1190.9h0M750.9 1187.6h0M755.1 1188.2h0M759.1 1187.8h0M749.8 1187.7h0M760.6 1188.6h0M750.8 1184.3h0M755.3 1185.4h0M759.1 1184.6h0M748.6 1184.5h0M761.7 1184.2h0M750.8 1182.2h0M755 1182h0M759.5 1181.9h0M746.8 1181.9h0M763.4 1182.3h0M746.5 1178.1h0M751 1178.3h0M754.8 1178.3h0M759.5 1178.6h0M763.9 1178.4h0M745.3 1179h0M764.7 1178.2h0M746.6 1175.6h0M751.3 1175.5h0M755.6 1175.7h0M759.2 1176h0M763.5 1175.7h0M743.9 1175.5h0M766.4 1175.6h0M742.2 1173h0M746.5 1172.5h0M751.4 1172.7h0M755 1173.1h0M759.7 1172.3h0M763.6 1171.9h0M768.1 1172.3h0M742.3 1169.3h0M746.9 1169.8h0M751.2 1169.5h0M755.3 1169.9h0M759.3 1169.4h0M763.7 1170h0M768.2 1169.5h0M742.9 1166.1h0M747.2 1166.8h0M750.8 1166.8h0M755.3 1166h0M759.7 1166.3h0M763.7 1166.3h0M768.1 1165.8h0M742.8 1163.7h0M746.4 1163.7h0M750.8 1163.1h0M755.3 1162.6h0M759.4 1163.8h0M763.5 1162.9h0M767.8 1162.9h0M742.5 1160.3h0M747 1160.2h0M750.9 1160.5h0M754.8 1160.2h0M759.2 1160.2h0M763.6 1160.6h0M767.6 1160.7h0M755.3 1449.6h0M755.1 1447.3h0M755.1 1443.5h0M755.3 1440.9h0M755.2 1437.8h0M755.1 1434.9h0M755.3 1432.1h0M755.2 1428.1h0M755.3 1424.9h0M755.3 1421.4h0M755 1419.4h0M755.2 1416.3h0M755.3 1412.4h0M755.2 1408.9h0M755.2 1407.2h0M755.3 1403.4h0M755.4 1400.7h0M755.2 1397.8h0M755.3 1394.3h0M755.3 1390.4h0M755.3 1387.3h0M755.1 1384h0M755.1 1381.6h0M755.1 1378.9h0M755.2 1375.8h0M755.1 1372.7h0M755.1 1365.2h0M755.1 1362.2h0M755.3 1359.7h0M755.4 1356.5h0M755.2 1352.7h0M754.6 1353.2h0M756 1352.5h0M755.1 1350.1h0M754.3 1349.7h0M756.1 1350h0M755.2 1347.1h0M754.3 1347.4h0M756.1 1347.4h0M755 1344.3h0M754.2 1344.6h0M756.1 1343.7h0M755.2 1340.6h0M754.2 1341.4h0M756.2 1340.4h0M755.3 1336.9h0M754.2 1337.8h0M756.1 1337.2h0M755.2 1334.2h0M754.1 1335.1h0M756 1334h0M755.1 1332h0M754.2 1331.2h0M756.1 1331.3h0M755 1327.5h0M754.2 1328.1h0M755.9 1328.6h0M755.1 1325.8h0M754.1 1325.6h0M756.3 1325h0M755.3 1321.9h0M754.1 1322.3h0M756 1321.8h0M755 1318.9h0M754.3 1318.5h0M756 1318.9h0M755.3 1316.5h0M754.4 1315.3h0M756.2 1315.8h0M755.2 1312.8h0M754.1 1313.2h0M756.4 1312.4h0M755.3 1309.1h0M754.3 1310.2h0M756 1309.6h0M755.1 1307h0M754.1 1306.8h0M756.2 1306.6h0M755.4 1303.7h0M754.1 1302.9h0M756.1 1303.3h0M755.3 1299.8h0M754.3 1300.1h0M756.1 1300.7h0M755 1297.4h0M756.2 1297.6h0M755.1 1294.2h0M754.3 1294.4h0M756.1 1294.4h0M755.3 1291.1h0M754.3 1290.6h0M756.2 1290.3h0M755.3 1287.4h0M754.1 1286.9h0M756.1 1287.6h0M755.2 1283.9h0M754.1 1284.1h0M756.3 1284.6h0M755.2 1281.2h0M754.1 1282h0M756.4 1280.7h0M755.3 1278.1h0M754 1278.9h0M756.3 1278.3h0M755.1 1275h0M754.2 1275h0M756.3 1275.8h0M755 1271.6h0M753.9 1272.3h0M756.2 1272.1h0M755 1269.4h0M753.9 1268.6h0M756.5 1269.5h0M755.1 1265h0M753.9 1265h0M756.5 1266.4h0M755 1262.5h0M753.9 1262.8h0M756.4 1261.9h0M755.1 1259.2h0M753.9 1259.4h0M756.3 1258.7h0M755.1 1256.1h0M754 1256h0M756.3 1256.7h0M755.2 1252.4h0M754 1253.7h0M756.5 1253h0M755.3 1249.6h0M753.8 1249.5h0M756.5 1249.4h0M755.1 1247.4h0M754 1246.4h0M756.4 1246.8h0M755.4 1243.1h0M753.9 1243.6h0M756.4 1244.3h0M755.2 1240.8h0M754 1241.2h0M756.6 1241h0M755.4 1238.3h0M753.8 1236.8h0M756.7 1237.5h0M755.2 1234.1h0M754 1234.3h0M756.6 1234.5h0M755.3 1230.7h0M753.9 1230.5h0M756.6 1231.9h0M755.1 1228.4h0M753.8 1227.6h0M756.7 1228h0M755.2 1224.4h0M753.7 1225.5h0M756.7 1225.5h0M755.2 1222.3h0M753.7 1221.4h0M756.6 1221.4h0M755.2 1219.5h0M753.8 1218.6h0M756.7 1218.7h0M753.8 1215.4h0M756.6 1215.5h0M755.3 1212.2h0M753.7 1212.7h0M756.4 1212.5h0M755.2 1456.2h0M755.2 1459.2h0" fill="none" stroke="#00f400" stroke-width="6.1" stroke-linecap="round"/>
<path d="M850.3 1369.9h0M850 1366.2h0M850 1359.6h0M850.3 1356.8h0M850.1 1349.9h0M850.2 1347.5h0M850.3 1341.5h0M850.1 1338.3h0M850.2 1334.4h0M850.4 1327.7h0M850 1325.6h0M850.4 1306.7h0M850.3 1299.9h0M850.2 1281.1h0M850 1277.6h0M850.1 1270.9h0M850.3 1268.2h0M850.2 1265.8h0M850 1258.7h0M850.1 1255.2h0M850.2 1246.5h0M850.1 1243.7h0M850.3 1237.3h0M850.3 1233.9h0M850.2 1217.9h0M850.4 1201.4h0M850 1192.7h0M850.3 1188.8h0M850.3 1186.2h0M850.2 1390.4h0M850.2 1406.9h0M850.2 1441.3h0" fill="none" stroke="#1034f6" stroke-width="6.2" stroke-linecap="round" stroke-opacity="0.78"/>
<path d="M850.2 1180.3h0M850 1176.6h0M849.4 1176.6h0M851 1176.9h0M850.5 1173.4h0M847.4 1172.4h0M853.5 1172.9h0M846.2 1169.7h0M850.1 1170.2h0M854.2 1170.4h0M843 1170.2h0M857.6 1169.6h0M842.2 1167.2h0M846.2 1166.8h0M850.4 1167.3h0M854.3 1166.3h0M858.6 1167h0M838.1 1167.3h0M862.4 1167h0M837.5 1163.9h0M842 1163h0M845.9 1163.2h0M850.4 1163.7h0M854.3 1162.8h0M858.5 1164h0M862.5 1164.2h0M837.8 1160.4h0M841.8 1160.2h0M846.3 1160.2h0M850 1160.2h0M854.4 1160.2h0M858.6 1160.8h0M863.1 1160.2h0M850.3 1362.8h0M850.1 1322.4h0M850 1318.2h0M850.1 1316.4h0M850.3 1312h0M850.2 1310.1h0M850.3 1296.4h0M850 1293.6h0M850 1290.4h0M850.4 1287.5h0M850.3 1252.8h0M850.3 1230.4h0M850.4 1226.6h0M850.3 1224.7h0M850 1220.5h0M850.3 1214.8h0M850.2 1210.7h0M850 1207.8h0M850.3 1205.3h0" fill="none" stroke="#1034f6" stroke-width="6.1" stroke-linecap="round"/>
<path d="M884.4 1182.3h0M884.1 1179.6h0M883.3 1179h0M885.2 1178.7h0M884.5 1176.4h0M882 1175.7h0M886.5 1176h0M879.7 1172.5h0M884.4 1172.6h0M888.7 1172.9h0M879 1173.7h0M890.1 1173.2h0M875.7 1169.7h0M880.3 1170.5h0M884.4 1170.2h0M888.2 1170.3h0M892.9 1170.2h0M874.2 1170h0M894.8 1170.1h0M872 1166.5h0M875.8 1166.5h0M879.8 1167.3h0M883.8 1166.3h0M888.2 1167.3h0M892.4 1167.1h0M896.7 1166.9h0M871.5 1163h0M875.8 1163.7h0M880.2 1163.9h0M884.3 1163.4h0M888 1164.1h0M892.9 1162.9h0M897.1 1163.5h0M871.8 1160.8h0M876.1 1160.6h0M880 1160.5h0M884.3 1160.8h0M888.2 1160.2h0M892.4 1160.3h0M896.4 1160.2h0M884.1 1261.4h0M884.3 1258.4h0M884.2 1252h0M884 1249.9h0M884.1 1246.2h0M884 1242.6h0M884 1239.7h0M884.1 1236.2h0M884.1 1232.7h0M884.1 1229.9h0M884.2 1226.8h0M884 1223.4h0M884.1 1220.9h0M884.2 1217h0M884.3 1214.1h0M884.1 1211.8h0M884.1 1208.7h0M884.4 1204.6h0M884 1201.3h0M884.1 1198.2h0M884.1 1194.6h0M884.4 1192.5h0M884.2 1189.5h0M884 1185.2h0M884.2 1270.8h0M884.2 1287.3h0M884.2 1303.7h0M884.2 1399.4h0M884.2 1414.4h0M884.2 1420.3h0M884.2 1439.8h0M884.2 1451.7h0" fill="none" stroke="#00f400" stroke-width="6.1" stroke-linecap="round"/>
<path d="M918.4 1195.5h0M916.3 1195.7h0M919.8 1196.1h0M918.3 1193.2h0M916.3 1192.7h0M919.9 1192.5h0M917.9 1188.9h0M916 1189.9h0M920.8 1190.2h0M918.6 1186.7h0M915 1186.9h0M920.9 1186.8h0M914.4 1182.9h0M917.8 1183.1h0M922.7 1182.6h0M913.6 1180.1h0M918 1180.2h0M922.3 1179.2h0M912.4 1179.8h0M924.4 1179.9h0M913.7 1175.9h0M918.3 1176.1h0M922.7 1176.9h0M910.4 1176.1h0M926.1 1176.4h0M909.8 1172.7h0M913.8 1173.2h0M918.3 1173.8h0M922.4 1172.8h0M926.7 1173.6h0M907.6 1173.1h0M929 1172.9h0M910.1 1169.4h0M913.8 1170.2h0M918 1170.6h0M922.3 1169.5h0M926.4 1169.3h0M906 1169.3h0M930.9 1169.3h0M905.6 1166.6h0M909.9 1167.2h0M914 1166.5h0M918.6 1167.4h0M922.5 1166.8h0M926.6 1166.1h0M930.4 1166.8h0M905.8 1163.7h0M910.2 1163.4h0M913.8 1164.2h0M918 1163.1h0M922.3 1164.1h0M927 1162.9h0M931 1163.5h0M905.5 1160.2h0M909.7 1160.2h0M914 1160.2h0M918.5 1160.2h0M922.7 1160.2h0M926.9 1160.3h0M930.6 1160.2h0M918.2 1444h0M918.1 1441h0M918.2 1438.6h0M918 1435h0M918.3 1432.2h0M918 1429.2h0M918 1425.6h0M918.3 1422.6h0M918.3 1418.9h0M918.3 1415.6h0M918.3 1412.7h0M918.1 1409.4h0M918.1 1407h0M918.2 1402.8h0M918.4 1400.3h0M918.2 1397.3h0M918.4 1394.7h0M918.2 1391.1h0M918.3 1387.8h0M918.2 1385.2h0M918.3 1381.8h0M918.1 1379h0M918.1 1374.8h0M918 1371.8h0M918.1 1369.4h0M918.2 1365.8h0M918.1 1362.4h0M918.2 1358.9h0M917.4 1359.6h0M919 1360.1h0M918.4 1355.7h0M917.3 1356.1h0M919 1356h0M918 1353.8h0M917.5 1352.8h0M919.2 1352.5h0M918.3 1350.7h0M917.3 1350.1h0M919.2 1349.3h0M918.3 1347.1h0M917.2 1347.1h0M919.1 1347.2h0M918.1 1343.1h0M917.2 1343.4h0M919 1343.6h0M918.2 1340.7h0M917.1 1341.2h0M919 1340.1h0M918.3 1337.6h0M917.2 1337.8h0M919.3 1338.2h0M918.3 1334.7h0M917.4 1334.4h0M919.2 1333.7h0M918.2 1331.1h0M917.2 1331.8h0M919 1331.5h0M918.2 1328.7h0M917 1327.5h0M918 1325.4h0M917.2 1324.6h0M919.4 1325.2h0M918.2 1322.1h0M917.3 1321.1h0M919.3 1321.6h0M918 1317.9h0M917 1318h0M919.1 1318.9h0M918.3 1315h0M917.1 1314.9h0M919.1 1315.2h0M918.4 1311.8h0M917.1 1312.1h0M919.5 1312h0M918.2 1309.8h0M917 1309h0M919.5 1309h0M918.2 1306.4h0M917.1 1305.4h0M919.2 1305.6h0M918.2 1303h0M917.2 1303.4h0M919.3 1303.3h0M918.3 1299.9h0M917 1299.2h0M919.5 1299.6h0M918.1 1295.9h0M917.1 1296.6h0M919.3 1297.3h0M918.1 1294.1h0M917 1293h0M919.4 1293.2h0M918 1290h0M916.9 1289.8h0M919.5 1289.7h0M918.3 1286.7h0M917.1 1286.7h0M919.5 1287.9h0M918.4 1284.5h0M916.8 1284.4h0M919.3 1283.7h0M918.1 1281h0M916.9 1280.2h0M919.6 1280.8h0M918.3 1278.1h0M916.8 1277.5h0M919.7 1277.4h0M918 1275.1h0M917 1274.7h0M919.5 1275h0M918 1271h0M917 1270.9h0M919.5 1271.6h0M918.4 1268.8h0M916.9 1268.9h0M919.4 1267.8h0M918.3 1264.9h0M916.8 1265.6h0M919.5 1264.9h0M918.2 1262.1h0M916.8 1262.6h0M919.5 1261.7h0M918.2 1258.4h0M916.9 1258.7h0M919.5 1259.3h0M918.3 1255.7h0M916.9 1255.5h0M919.7 1256.1h0M918.4 1253.2h0M916.8 1252.6h0M919.5 1252.2h0M918.1 1249.6h0M916.9 1249h0M919.5 1250.1h0M918.1 1246.4h0M916.5 1245.6h0M919.5 1246.6h0M918.1 1243.1h0M916.6 1243.2h0M919.5 1243.8h0M918.3 1239.6h0M916.5 1239.5h0M919.6 1239.9h0M918.1 1236.8h0M916.8 1237.6h0M919.7 1236.5h0M918.4 1233.9h0M916.6 1233.8h0M919.8 1234.1h0M918.1 1230h0M916.6 1230.4h0M919.8 1230.7h0M918 1228h0M916.4 1227.7h0M919.6 1227.5h0M918.2 1223.7h0M916.7 1225.1h0M919.9 1225h0M918.2 1220.8h0M916.6 1221.9h0M919.9 1221.2h0M918.4 1217.6h0M916.4 1218h0M919.9 1218.4h0M918.1 1214.5h0M916.6 1214.4h0M920 1215.4h0M918 1212.1h0M916.7 1211.6h0M919.7 1211.3h0M918.2 1208.3h0M916.4 1208.6h0M918.2 1205.6h0M916.6 1205.7h0M918.2 1202.7h0M916.5 1202.7h0M920 1201.8h0M918.1 1199h0M916.6 1199.4h0M919.9 1199.5h0M918.2 1196.5h0M916.2 1196.3h0M920 1196.1h0M918.2 1459.2h0" fill="none" stroke="#00f400" stroke-width="6.1" stroke-linecap="round"/>
<path d="M977.3 1445.6h0M983.9 1299.1h0M971.8 1413h0M985.5 1268h0M972.9 1207.1h0M982.6 1196.9h0M985.2 1442h0M972.7 1199h0M983.6 1196.7h0M984 1358h0M982.6 1318.9h0M984 1440.2h0M976 1295.6h0M987.7 1388h0M985.6 1317.3h0M972.4 1219.7h0" fill="none" stroke="#1034f6" stroke-width="6.2" stroke-linecap="round" stroke-opacity="0.78"/>
<path d="M974.3 1168.5h0M991.9 1161.7h0M975.5 1172.7h0M987.8 1161.1h0M975 1170.1h0M970.6 1166.9h0M988.3 1164.4h0M984.8 1167.6h0M982.9 1173.2h0M967.5 1174.2h0M983.6 1161.2h0M981.6 1174.2h0M973.4 1169.4h0M985.4 1164.5h0M979.5 1167h0M969.2 1175.5h0M969.5 1171.6h0M981.7 1173.3h0M977.4 1161.5h0M979.9 1176.6h0M979.1 1171.2h0M974.1 1163.9h0M979.7 1166.1h0M982.7 1161.4h0M984.3 1166.7h0M986.4 1162.6h0M977.6 1281.4h0M983.2 1217.8h0M980.7 1253.6h0M980.4 1409.8h0M976.6 1387.3h0M982.5 1414.9h0M981.1 1413h0M979.5 1423.9h0M981.2 1418.6h0M982.8 1413.8h0M980.6 1303.9h0M972.8 1275.9h0M977.6 1266.3h0M975.4 1192.8h0M975.7 1436.7h0M975.6 1186.6h0M975.6 1276.9h0M981.1 1360.8h0M976.8 1299.6h0M973.8 1391.5h0M975.8 1418h0M977.9 1422.6h0M980.1 1381.7h0M976.5 1239.8h0M973.2 1343.9h0M977 1387h0M980 1203.6h0M978 1369.3h0M981.3 1336.8h0M973.7 1271.1h0M978.3 1431.7h0M978.2 1285.7h0M980.8 1325.8h0M981.1 1374.9h0M975.2 1347h0M979.9 1222.2h0M974.8 1270.4h0M982.8 1261h0M974.8 1424.5h0M983.6 1291.1h0M984.3 1197.6h0M978.3 1285h0M977 1258.4h0M973.2 1308.3h0M978.2 1272.4h0M974.9 1180.9h0M970.6 1313.8h0M977.6 1205.8h0M974.3 1317.6h0M976 1398.4h0M970.7 1382.4h0M983.3 1308.6h0M974.1 1368.1h0M974.9 1330.1h0M975.6 1349.3h0M980 1278.5h0M981.6 1181.7h0M986 1242.8h0M983.7 1349.6h0M977.9 1331.7h0M986.2 1320.1h0M983 1366h0M975.3 1330.2h0M972.2 1327.6h0M977.8 1365.3h0M981.8 1255.7h0M973 1350.5h0M973.3 1426.3h0M982 1391.5h0M971.5 1428.8h0M982.2 1285.9h0M979.4 1339.3h0M978.4 1283.9h0M981 1211.4h0M984.4 1235.2h0M980.8 1415.2h0M975.6 1381.3h0M981.4 1413h0M985.7 1208h0M979.5 1403.7h0M977.4 1183.6h0M981.1 1228.7h0M985.5 1418.8h0M985.8 1394.9h0M975.6 1275.2h0M981.5 1331.3h0M977.4 1331.7h0M976.2 1354.3h0M979.1 1310h0M980.7 1266h0M978.3 1237.9h0M977.5 1240h0M982 1247.9h0M979.9 1375.8h0M983.1 1389h0M982 1229.5h0M975.3 1389.5h0M980.7 1394h0M981.7 1250.8h0M976.6 1266.3h0M978.9 1397.2h0M979.5 1203.8h0M976.8 1380.4h0M971.4 1268.7h0M979.5 1274.9h0M983.2 1401.9h0M982.6 1223.8h0M981.1 1425.1h0M980.5 1432.6h0M973.5 1412.1h0M979 1190.1h0M974.3 1322.6h0M975.6 1379.1h0M973.3 1344.3h0M979.8 1383.2h0M979.8 1344.2h0M975.5 1358.1h0M986.3 1380.4h0M975.7 1307.9h0M975.7 1342.8h0M975.5 1429.4h0M977.6 1351.9h0M979.7 1246h0M974.9 1245.7h0M973.4 1221.4h0M981.4 1305.9h0M978.4 1330.7h0M975.6 1342h0M976.7 1302.7h0M977.2 1295.2h0M985.2 1434.9h0M981.3 1344.6h0M979.3 1327h0M981.3 1276.8h0M977.6 1404.1h0M982.2 1415.9h0M983.5 1246.7h0M974.8 1370h0M979.9 1336.7h0M983.6 1250.2h0M980.4 1344.3h0M976.8 1252.4h0M980.3 1392.8h0M983 1249.6h0M973.8 1314.5h0M974 1258h0M984.4 1425.1h0M975.8 1266.2h0M974.9 1396h0M974.7 1404.6h0M986.6 1412.7h0M973.4 1356.8h0M975.1 1339.5h0M983.6 1428.6h0M979.5 1254.6h0M978.9 1218.3h0M985 1205h0M975.7 1201.8h0M979.2 1185.6h0M977.8 1261.9h0M976.8 1425.3h0M975.5 1327.1h0M980.4 1281h0M984.3 1333.1h0M982.1 1430.7h0M975.3 1423.7h0M980.2 1234.6h0M980.4 1338.2h0M977.1 1234.2h0M972.7 1424h0M972.7 1326.8h0M976 1420.5h0M976 1350.5h0M978.5 1405.7h0M981.5 1456.4h0M983.2 1453.4h0M977.4 1453.9h0M982.6 1458h0M985.8 1456.9h0M982.6 1455h0M983.5 1457.4h0M983.2 1457.4h0M976.9 1456.8h0M984 1458.4h0M983.7 1454.8h0M986.6 1456.2h0M977.4 1453.8h0M986.8 1453.3h0" fill="none" stroke="#1034f6" stroke-width="6.1" stroke-linecap="round"/>
<path d="M1013 1233.8h0M1011.9 1436.9h0M1011.7 1457.9h0M1013.4 1233.8h0M1012.5 1436.9h0M1012.2 1223.3h0M1014.4 1449.5h0M1013.1 1435.5h0M1014.6 1451.1h0M1012.4 1249h0" fill="none" stroke="#1034f6" stroke-width="6.2" stroke-linecap="round" stroke-opacity="0.78"/>
<path d="M1013 1180.3h0M1012.8 1177.1h0M1012.1 1176.3h0M1014 1176.4h0M1012.7 1173.2h0M1009.7 1173.1h0M1016.1 1172.5h0M1009.1 1170.4h0M1012.9 1170.6h0M1017.1 1170.4h0M1005.6 1169.4h0M1019.7 1170h0M1004.6 1166.6h0M1008.4 1167h0M1012.6 1166.7h0M1017.2 1166.2h0M1021.5 1166.1h0M1000.8 1167h0M1025 1167.1h0M1004.1 1162.9h0M1009.1 1163.1h0M1013.2 1163h0M1017.1 1163.4h0M1021.6 1163.7h0M1000.2 1164h0M1025.8 1163.7h0M1004.2 1160.2h0M1009 1160.3h0M1012.6 1160.2h0M1016.9 1160.7h0M1021 1160.2h0M1000.1 1160.2h0M1025.8 1160.6h0M1013.4 1197.2h0M1011.6 1181.1h0M1009.3 1207.8h0M1014.5 1214h0M1010.7 1182.2h0M1010.4 1203.7h0M1011.1 1214.7h0M1013.6 1213.9h0M1011.1 1181.4h0M1015.1 1186.7h0M1009.3 1207.1h0M1010.2 1216.5h0M1011.8 1195.2h0M1015.1 1194.3h0M1009.8 1206h0M1013.6 1204.5h0M1014.4 1212.9h0M1014 1213.6h0M1014.1 1206.7h0M1015.4 1199.4h0M1010.8 1202h0M1015.9 1192.4h0M1015.4 1412.2h0M1010.6 1395.5h0M1011.8 1338.3h0M1011.1 1417.9h0M1011.7 1241.6h0M1011.1 1453h0M1013.8 1283.5h0M1012.8 1391h0M1015.2 1280h0M1014.5 1331.9h0M1011.8 1385.4h0M1015.6 1389.6h0M1010.7 1385.8h0M1016.6 1288.4h0M1012.3 1261.2h0M1012.3 1346.3h0M1013 1291.1h0M1012.7 1353.8h0M1015 1335.7h0M1013.6 1427.4h0M1015 1259.1h0M1013.1 1429h0M1012.4 1417h0M1010.6 1283.7h0M1009.7 1291.2h0M1009.7 1296.9h0M1014.4 1313.4h0M1010.7 1362.8h0M1013.7 1375.5h0M1010.4 1403.3h0M1013.8 1287.9h0M1011.7 1407.2h0M1009.8 1256.8h0M1014.1 1301.4h0M1009 1423.8h0M1012.7 1425.6h0M1011.5 1380.7h0M1014.5 1343.1h0M1013 1240.8h0M1009.8 1308.8h0M1013.6 1359.9h0M1011.2 1368.2h0M1014 1312.6h0M1013.1 1353.8h0M1012.5 1370.3h0M1012.2 1292.3h0M1015.7 1407.5h0M1016.3 1416.7h0M1011.4 1259.2h0M1009.4 1357.1h0M1012.7 1297.9h0M1016.1 1354.1h0M1012.9 1332.3h0M1011.6 1344.6h0M1011.8 1286.3h0M1013.9 1220.2h0M1010.5 1377.8h0M1016.9 1347.9h0M1016.8 1356.8h0M1013.9 1402.4h0M1013.4 1278h0M1014 1314.8h0M1013.7 1341.7h0M1010.2 1259.1h0M1016 1307.9h0M1010.5 1332.1h0M1012 1300h0M1014.5 1360.7h0M1014.6 1398.3h0M1008.9 1381.7h0M1010.7 1362.1h0M1014.6 1374.9h0M1010.8 1425.2h0M1013.1 1245.4h0M1013.7 1257.3h0M1012.3 1337.3h0M1017 1242.8h0M1013.5 1372.2h0M1014.3 1297.7h0M1015.6 1359.5h0M1009.8 1389.6h0M1011 1378.5h0M1009.3 1228.4h0M1011.8 1371.4h0M1010.7 1311h0" fill="none" stroke="#1034f6" stroke-width="6.1" stroke-linecap="round"/>
<path d="M1047 1185.3h0M1046.1 1185.4h0M1048 1185.9h0M1047 1182.8h0M1045.5 1182.8h0M1048 1182.8h0M1046.9 1178.8h0M1044.7 1179.8h0M1048.9 1178.9h0M1046.9 1176.4h0M1042.6 1176.1h0M1051.3 1175.4h0M1042.4 1173.6h0M1046.6 1172.8h0M1051 1172.2h0M1040.4 1172.7h0M1053.6 1172.3h0M1038.6 1170.3h0M1043 1169.6h0M1046.9 1170.1h0M1051.2 1169.7h0M1055 1169.1h0M1036.1 1170h0M1057.8 1170.1h0M1034.4 1166.1h0M1038.8 1166.6h0M1042.7 1167h0M1047 1166.1h0M1051 1166.7h0M1055 1166.1h0M1059.3 1166.8h0M1034.6 1162.8h0M1038.8 1163.3h0M1042.7 1163.4h0M1046.8 1163.5h0M1051.2 1162.8h0M1055.5 1163h0M1059.4 1164.1h0M1034.4 1160.2h0M1038.8 1160.9h0M1042.7 1160.3h0M1047.1 1160.2h0M1050.9 1160.3h0M1055.4 1160.2h0M1059.6 1160.7h0M1047.1 1324.2h0M1047 1321.8h0M1046.9 1317.7h0M1047 1315.2h0M1047.1 1312.2h0M1046.8 1308.4h0M1047 1305h0M1046.8 1302.5h0M1046.9 1299.9h0M1047 1296.6h0M1046.8 1293.5h0M1047 1287.2h0M1046.9 1283.4h0M1046.7 1280.7h0M1046.8 1277h0M1046.7 1274.5h0M1047.1 1270.8h0M1047 1267.3h0M1047 1264h0M1047.1 1261.4h0M1046.9 1258h0M1046.8 1255.4h0M1046.9 1251.2h0M1047 1248.5h0M1047 1245.2h0M1046.8 1242.1h0M1046.8 1239.3h0M1046.7 1235.6h0M1046.9 1232.8h0M1046.9 1229.8h0M1047.1 1226.1h0M1046.8 1223h0M1046.7 1219.7h0M1046.7 1216.7h0M1046.2 1217.4h0M1047.6 1216.9h0M1045.9 1214h0M1047.8 1214.4h0M1047.1 1211.6h0M1046.2 1211.1h0M1047.7 1210.3h0M1046.8 1207.4h0M1046 1207.4h0M1047.8 1207.8h0M1046.7 1205.2h0M1046 1204.6h0M1047.8 1204.5h0M1046.8 1201.1h0M1046.2 1200.9h0M1047.9 1201.8h0M1046.8 1197.8h0M1047.7 1197.5h0M1045.8 1194.7h0M1047.7 1195.6h0M1046.8 1191.8h0M1046 1192h0M1047.8 1192.1h0M1047.1 1189h0M1046.1 1188.2h0M1047.8 1189.2h0M1047.1 1185.5h0M1045.9 1185.9h0M1047.9 1186.2h0M1047 1455.7h0M1047 1446.3h0M1046.9 1440.4h0M1046.7 1431.5h0M1046.9 1427.3h0M1047.1 1422.1h0M1046.9 1418.7h0M1046.8 1409.2h0M1046.7 1405.4h0M1047.1 1402.5h0M1047 1399.3h0M1047 1389.9h0M1047 1381.4h0M1046.8 1377.5h0M1046.8 1365.4h0M1046.7 1362.7h0M1047.1 1359.7h0M1046.9 1355.9h0M1046.9 1352.8h0M1046.8 1349.7h0M1047 1334.7h0M1046.9 1331.6h0" fill="none" stroke="#00f400" stroke-width="6.1" stroke-linecap="round"/>
<path d="M1081.2 1198.8h0M1078.5 1198.4h0M1083.5 1199.5h0M1081.2 1196.5h0M1078.7 1195.7h0M1083 1195.2h0M1080.6 1192.5h0M1078.7 1193h0M1083.6 1192.4h0M1081.2 1189.9h0M1078.2 1190h0M1084.4 1189h0M1081.2 1185.7h0M1077.2 1186.2h0M1084.6 1185.8h0M1077.1 1182.3h0M1080.6 1182.4h0M1084.8 1182.8h0M1075.6 1182.6h0M1086 1182.4h0M1077 1179.9h0M1081.2 1179.5h0M1084.9 1179.7h0M1074.4 1179.3h0M1087.7 1179.4h0M1072.4 1177.1h0M1076.4 1176.8h0M1080.7 1175.7h0M1085.2 1175.9h0M1089.1 1176h0M1072.6 1173.4h0M1076.8 1173h0M1081.3 1173h0M1085.1 1172.6h0M1089.5 1173.8h0M1069.8 1173.6h0M1091.9 1173.6h0M1068.5 1170.4h0M1072.9 1170.4h0M1076.6 1169.4h0M1080.5 1170.4h0M1085.1 1169.7h0M1089.4 1170.3h0M1093.2 1169.2h0M1068.2 1166.3h0M1072.5 1167.4h0M1076.5 1166.7h0M1080.7 1166.4h0M1085.3 1166.6h0M1089 1167.2h0M1093.8 1166h0M1068 1163.7h0M1072.5 1163.3h0M1076.8 1164.2h0M1081.1 1163.8h0M1085.4 1163.9h0M1089.1 1162.9h0M1093.6 1163.2h0M1068.3 1160.6h0M1072.8 1160.2h0M1076.7 1160.2h0M1080.5 1160.7h0M1085.2 1160.9h0M1089 1160.2h0M1093.7 1160.2h0M1080.9 1459.1h0M1080.9 1456.3h0M1080.9 1452.5h0M1081.1 1450.1h0M1081 1446.9h0M1080.8 1444.2h0M1081.1 1439.8h0M1080.9 1436.6h0M1080.8 1434.3h0M1081.1 1431.6h0M1081 1427.6h0M1080.9 1425.2h0M1080.7 1422.3h0M1081 1418.7h0M1080.8 1416.1h0M1080.8 1411.9h0M1080.9 1409.8h0M1081 1406.2h0M1081 1403.1h0M1080.9 1400.2h0M1080.7 1396h0M1080.9 1392.9h0M1081.1 1390.5h0M1080.8 1387.4h0M1080.9 1384.6h0M1080.8 1380.5h0M1080.2 1380.7h0M1081.8 1380.4h0M1080.9 1377h0M1079.9 1377.6h0M1081.7 1377.3h0M1080.7 1374.9h0M1079.9 1375.3h0M1081.6 1374.8h0M1080.7 1370.9h0M1079.9 1371.5h0M1081.9 1371.8h0M1080.9 1368.8h0M1080.1 1367.8h0M1081.7 1367.8h0M1081 1365.4h0M1080 1365.8h0M1081.9 1364.6h0M1081.1 1362h0M1079.8 1362h0M1081.9 1362.3h0M1081.1 1358.2h0M1080 1358.7h0M1081.8 1359.5h0M1080.8 1355.7h0M1079.8 1355.5h0M1081.9 1355.5h0M1080.8 1352.1h0M1079.9 1352.4h0M1082.1 1353.2h0M1081 1349.7h0M1080 1348.9h0M1082.1 1349.2h0M1080.7 1346.3h0M1080 1345.6h0M1082 1346.6h0M1080.9 1342.6h0M1079.9 1343h0M1081.9 1342.8h0M1081 1339.7h0M1079.7 1340h0M1082 1340.2h0M1081 1337.2h0M1079.9 1336.7h0M1082.2 1336.6h0M1080.8 1334h0M1079.6 1333.8h0M1081.9 1333.3h0M1080.9 1331.1h0M1079.6 1330.3h0M1082.1 1330.2h0M1080.8 1327.7h0M1079.7 1327.7h0M1082.1 1327.5h0M1080.8 1325h0M1079.5 1324.6h0M1082.1 1324.2h0M1080.8 1321.1h0M1079.8 1321.3h0M1082.1 1320.8h0M1080.9 1318.8h0M1079.6 1318.5h0M1082.2 1318.7h0M1081 1315.3h0M1079.8 1315.1h0M1082.3 1315.5h0M1080.9 1312.6h0M1079.7 1311.7h0M1082.3 1312.2h0M1080.9 1309h0M1079.5 1308.6h0M1082.2 1308.9h0M1080.8 1305.6h0M1079.4 1305.7h0M1082.1 1305.3h0M1081.1 1302.5h0M1079.6 1302.9h0M1082.2 1302.1h0M1080.8 1299.1h0M1079.4 1299.1h0M1082.3 1299.6h0M1080.8 1296.1h0M1079.6 1296.2h0M1082.5 1297h0M1080.7 1293.4h0M1079.3 1292.5h0M1082.5 1292.4h0M1081.1 1290.6h0M1079.5 1289.7h0M1082.3 1289.9h0M1080.7 1286.4h0M1079.2 1286.7h0M1082.3 1286.6h0M1081.1 1283.5h0M1079.4 1284.1h0M1082.6 1284.1h0M1080.8 1279.9h0M1079.5 1280h0M1082.3 1281.3h0M1080.9 1277h0M1079.3 1278h0M1082.3 1278h0M1080.8 1273.6h0M1079.4 1274.2h0M1082.4 1273.6h0M1081.1 1270.5h0M1079.3 1271.1h0M1082.5 1271.3h0M1080.8 1267.6h0M1079.3 1268.2h0M1082.5 1267.3h0M1080.9 1265.5h0M1079 1264.4h0M1082.8 1264.2h0M1080.9 1262.4h0M1079 1262.3h0M1082.5 1262.4h0M1081 1259.3h0M1079.2 1258.3h0M1082.8 1258.4h0M1080.8 1256.2h0M1079.1 1256.2h0M1082.6 1256h0M1080.8 1252.7h0M1079.2 1252.7h0M1082.5 1251.7h0M1080.9 1249.3h0M1079.3 1248.8h0M1082.6 1248.9h0M1080.9 1246.6h0M1079 1246.3h0M1082.6 1246.6h0M1081 1243.5h0M1079.2 1242.9h0M1082.8 1242.3h0M1080.9 1240.3h0M1078.9 1240.1h0M1082.7 1240.2h0M1080.8 1236.7h0M1078.8 1236.6h0M1082.6 1236.8h0M1080.8 1232.9h0M1079.1 1233.2h0M1083 1233h0M1080.9 1229.7h0M1078.9 1230.6h0M1082.8 1230.8h0M1080.8 1227.5h0M1079 1227.6h0M1083.1 1226.7h0M1081.2 1224h0M1078.6 1223.6h0M1083 1224.3h0M1081.3 1220.6h0M1079.2 1220.5h0M1083.2 1221.6h0M1080.6 1217.2h0M1078.6 1218.4h0M1082.6 1218.5h0M1081 1214.6h0M1078.9 1214.9h0M1083.3 1215.5h0M1081.1 1212.2h0M1078.5 1212h0M1083.2 1211.9h0M1080.7 1209.1h0M1079.1 1207.8h0M1082.7 1208h0M1081.1 1205.5h0M1078.8 1204.9h0M1082.8 1205h0M1081.2 1202.4h0M1078.6 1202.7h0M1082.8 1201.6h0M1081.1 1199.8h0M1079 1199.5h0M1082.9 1199h0" fill="none" stroke="#00f400" stroke-width="6.1" stroke-linecap="round"/>
<path d="M1140.3 1190.4h0M1142.7 1185h0M1139.4 1213.5h0M1142.1 1185.2h0M1143.8 1220.1h0M1143.3 1272.8h0M1141.2 1224.1h0M1141.2 1263.3h0M1138.2 1213h0M1140.2 1267h0M1142.1 1241h0M1144.6 1206.2h0M1139.1 1242h0M1153.1 1303.2h0M1135.6 1298.4h0M1130.5 1294.7h0M1132.1 1448.2h0M1146.9 1309.3h0M1134.6 1335.2h0M1134.8 1308.3h0M1140.6 1448.2h0M1148.2 1348h0M1136.6 1327.6h0M1131.6 1424.5h0M1147.8 1363.9h0M1148.2 1437h0M1146.8 1427.5h0M1150.4 1376.6h0M1141.6 1449.8h0M1147.7 1419.8h0M1130.6 1348.4h0M1149.8 1344.5h0M1146.8 1286.6h0M1150.4 1298.9h0M1138.2 1423.1h0M1135.6 1328.1h0" fill="none" stroke="#1034f6" stroke-width="6.2" stroke-linecap="round" stroke-opacity="0.78"/>
<path d="M1133.4 1177.9h0M1146 1178.3h0M1133.5 1174.9h0M1141.5 1174.4h0M1146.3 1175.6h0M1149.8 1174.7h0M1133.4 1172.8h0M1146.1 1171.4h0M1150 1172.8h0M1132.3 1172.2h0M1141.5 1169.6h0M1146 1169h0M1150.4 1169.4h0M1132.1 1169h0M1142 1165.7h0M1145.6 1165.9h0M1150.4 1165.8h0M1132.1 1165.5h0M1151.2 1165.9h0M1137.7 1163.8h0M1151.5 1163.3h0M1137.9 1160.2h0M1142.1 1160.2h0M1149.8 1160.2h0M1151.4 1160.2h0M1142.4 1215.9h0M1139 1359.6h0M1147.2 1326h0M1145.3 1433.9h0M1150.6 1331.2h0M1140.3 1395.3h0M1140.9 1438.9h0M1138.2 1307.1h0M1138.3 1306.5h0M1144.7 1408.5h0M1140.2 1431h0M1137.4 1298.5h0M1143.3 1295.5h0M1140.6 1321h0M1142.7 1391.4h0M1136.3 1411.1h0M1138.1 1429.1h0M1147.3 1431.8h0M1135.1 1326.2h0M1140 1373.5h0M1145.7 1386.7h0M1147.5 1337.4h0M1138.8 1290.5h0M1152.2 1386.7h0M1148.7 1291.4h0M1138.2 1438.1h0M1139.3 1403.5h0M1139.8 1343.4h0M1139.4 1365.3h0M1145.3 1335h0M1137.5 1410.9h0M1144 1397.7h0M1140.7 1339.7h0M1136.4 1402.4h0M1148 1329.9h0M1135.9 1410.1h0M1149.3 1390.6h0M1140 1291.9h0M1137.3 1366h0M1142.2 1397.7h0M1135.6 1374.7h0M1146.3 1380.9h0M1135.4 1346.4h0M1145.9 1365.1h0M1138.2 1290.1h0M1140.9 1412.2h0M1133.7 1445.4h0M1136.6 1410.7h0M1141.5 1337.2h0M1140.7 1343h0M1136.6 1439h0M1148.1 1395h0M1137.7 1440h0M1142.6 1339.6h0M1145.9 1383.9h0M1139.6 1397.8h0M1145.8 1323.1h0M1142.4 1317.4h0M1145.3 1328.8h0M1144.5 1323.6h0M1139.6 1370h0M1143.1 1302.6h0M1140.1 1434.6h0M1138.3 1370.3h0M1138.8 1405.2h0M1147 1320.5h0M1145.4 1374h0M1141.6 1409.2h0M1145.6 1403h0M1144.5 1358.9h0M1145 1285.4h0M1141.4 1348.8h0M1141.7 1320.8h0" fill="none" stroke="#1034f6" stroke-width="6.1" stroke-linecap="round"/>
<path d="M1175.6 1263.1h0M1171.8 1286.1h0M1176.6 1286.8h0M1176.1 1262.2h0M1173.9 1293.9h0" fill="none" stroke="#1034f6" stroke-width="6.2" stroke-linecap="round" stroke-opacity="0.78"/>
<path d="M1175.7 1179h0M1175.5 1176.6h0M1174.7 1176.2h0M1176.6 1176.4h0M1175.8 1172.5h0M1172.4 1173.2h0M1178.8 1173.6h0M1171.6 1170.6h0M1175.7 1170h0M1180.1 1170.3h0M1168.5 1170h0M1183.1 1170.5h0M1167.2 1166.4h0M1171.4 1166.8h0M1175.7 1167.2h0M1179.9 1166.1h0M1183.7 1166.3h0M1164.1 1167.2h0M1187.5 1166.5h0M1167.5 1163.3h0M1171.6 1162.9h0M1175.8 1163.5h0M1180.1 1164.2h0M1184.1 1163.5h0M1162.9 1163h0M1187.8 1164.2h0M1166.9 1160.2h0M1171.7 1160.2h0M1175.7 1160.4h0M1179.7 1160.2h0M1184.4 1160.3h0M1163.4 1160.2h0M1187.9 1160.2h0M1180 1191.7h0M1173.7 1231.1h0M1174.2 1194.8h0M1178 1270.3h0M1172 1223h0M1174.7 1300.6h0M1174.3 1187.7h0M1180.1 1249.1h0M1177.8 1198h0M1177.3 1219.1h0M1175.3 1273.5h0M1175.2 1198.6h0M1176.6 1320.9h0M1172.6 1239.1h0M1177.9 1294.9h0M1174.1 1197.5h0M1171.7 1247.5h0M1179.7 1251.9h0M1177.1 1255.4h0M1178.1 1276.8h0M1174 1203.7h0M1172.9 1246.8h0M1173.4 1233.8h0M1174.6 1199.7h0M1177.5 1306.9h0M1172.5 1321.3h0M1177.2 1239.4h0M1172.3 1208.4h0M1175.1 1223.8h0M1173.4 1270h0M1175.7 1190.2h0M1174.5 1247.3h0M1174.3 1306.3h0M1177.4 1310.5h0M1178.6 1231.5h0M1174.4 1220.6h0M1172.1 1200.2h0M1178.4 1279.3h0M1173.7 1207.9h0M1176.5 1189.9h0M1173.6 1324.1h0M1172.6 1212h0M1177.8 1227.3h0M1179.5 1311.1h0M1175.1 1220.6h0M1174.1 1295.4h0M1176.6 1203.5h0M1176.6 1244.8h0M1178.6 1191.2h0M1175 1315.3h0M1175.8 1216.9h0M1180.3 1321.2h0M1173.4 1302.2h0M1172.9 1323.7h0M1172.7 1281.3h0M1180.6 1256.5h0M1176.2 1247.1h0M1178.9 1189.9h0M1177.3 1200.9h0M1178.9 1248.6h0M1173.2 1270.9h0M1172.1 1201.6h0M1171.7 1318.1h0M1174.2 1238.7h0M1174.3 1318.2h0M1167.3 1399.2h0M1171.4 1400h0M1175.6 1400h0M1179.8 1399.7h0M1184.4 1399h0M1163.5 1398.8h0M1187.8 1399h0M1167.2 1396.4h0M1171.6 1397h0M1176 1396.3h0M1180.1 1395.9h0M1184.4 1396.4h0M1163.9 1396.7h0M1187.7 1395.7h0M1171.7 1393.3h0M1175.7 1393.1h0M1179.7 1392.9h0M1184.4 1392.5h0M1164.1 1393.4h0M1186.6 1392.8h0M1167.3 1389.8h0M1171.4 1389.8h0M1175.7 1390.7h0M1180.2 1390.4h0M1184.4 1390.3h0M1164.5 1390.7h0M1186.4 1389.6h0M1167.3 1387h0M1171.8 1387.2h0M1175.9 1386.2h0M1180 1386.8h0M1183.9 1387.5h0M1165.5 1387.3h0M1186.5 1386.8h0M1167.6 1383.1h0M1171.3 1383.2h0M1179.9 1384.5h0M1184.3 1383.1h0M1165.4 1383.9h0M1185.9 1383.9h0M1167.5 1381.2h0M1171.3 1381.4h0M1179.7 1380.2h0M1183.8 1380.4h0M1165.8 1381.1h0M1185.5 1380.4h0M1167.3 1377.6h0M1171.1 1377.8h0M1179.8 1376.9h0M1184.5 1378h0M1166.6 1378.1h0M1185.4 1376.9h0M1167.6 1374.8h0M1171.2 1375h0M1175.9 1375.1h0M1179.5 1375.1h0M1184.5 1375.1h0M1167.2 1371.4h0M1171.6 1371h0M1175.5 1371.8h0M1179.6 1371.1h0M1184.4 1371.4h0M1171.3 1368.3h0M1175.9 1368.2h0M1179.6 1368.8h0M1167.7 1368.9h0M1171.2 1365.5h0M1179.7 1365.4h0M1168.1 1365.1h0M1183.8 1365.6h0M1171.9 1362.6h0M1175.8 1362h0M1182.9 1362.7h0M1171.5 1359.2h0M1175.9 1359.2h0M1179.8 1359.5h0M1168.8 1358.4h0M1182.7 1359.6h0M1171.2 1356.1h0M1175.8 1355.5h0M1180 1355.3h0M1168.7 1355.9h0M1182.5 1356.4h0M1171.6 1352.7h0M1180.2 1352.4h0M1169.1 1352h0M1182.3 1352.5h0M1171.4 1349.9h0M1179.6 1350.1h0M1170.1 1349.4h0M1182 1349.1h0M1171.1 1346.3h0M1175.5 1346.8h0M1180.3 1345.7h0M1170.4 1346.5h0M1181.2 1346.5h0M1180.1 1344.1h0M1170.7 1343.9h0M1181 1343.9h0M1171.6 1340.4h0M1175.6 1340h0M1179.6 1340.2h0M1179.6 1336.7h0M1175.7 1333.4h0M1171.9 1334.6h0M1179.8 1333.5h0M1175.5 1330.9h0M1172.3 1331.5h0M1179.4 1330.8h0M1176 1327.8h0M1172.1 1328.5h0M1179 1328.4h0M1175.7 1324.3h0M1172.7 1324.1h0M1175.9 1441.2h0M1171.4 1441.6h0M1179.6 1441.5h0M1171.5 1438.7h0M1175.8 1438.3h0M1179.7 1438.4h0M1171.4 1435.1h0M1175.8 1434.4h0M1180.2 1434.3h0M1170.1 1435.1h0M1181.3 1435.4h0M1171.6 1431.7h0M1175.5 1431.8h0M1179.5 1431h0M1169.8 1431h0M1181.5 1431.6h0M1171.5 1428.6h0M1175.9 1428.6h0M1180.3 1427.9h0M1169.3 1428.1h0M1182.3 1428.7h0M1171.5 1424.6h0M1175.6 1425.7h0M1179.8 1424.8h0M1168.4 1425.2h0M1182.5 1425.8h0M1171.4 1421.8h0M1175.7 1422.1h0M1167.6 1421.3h0M1183.1 1421.5h0M1171.1 1419.4h0M1175.6 1418.1h0M1180 1418.6h0M1167.6 1419.4h0M1183.7 1419.1h0M1167.6 1415.9h0M1171.1 1415.5h0M1176 1414.9h0M1180.2 1416.1h0M1183.7 1415.3h0M1167 1411.8h0M1171.4 1412.8h0M1175.8 1412.9h0M1179.9 1412.9h0M1184.2 1411.9h0M1166.5 1412.7h0M1185.4 1412.6h0M1167.1 1409.2h0M1171.6 1408.6h0M1175.5 1409.1h0M1179.5 1409.1h0M1183.7 1409h0M1165.8 1409.1h0M1185.9 1408.8h0M1171.5 1406.1h0M1175.7 1405.6h0M1184.4 1405.8h0M1165.2 1406.5h0M1186.4 1406.2h0M1167.4 1402.6h0M1171.3 1402.9h0M1176.1 1402.8h0M1180 1403.2h0M1184 1402.7h0M1164.4 1402.5h0M1187.4 1402h0M1171.2 1400.1h0M1175.7 1399h0M1179.7 1398.8h0M1184.1 1399.2h0M1164 1399.8h0M1188.1 1398.7h0M1175.6 1458.5h0M1175.5 1456.5h0M1174.5 1453.4h0M1177 1453.3h0M1173.5 1450.8h0M1177.6 1450.7h0M1175.9 1447.2h0M1172.7 1447.5h0M1178.6 1447.5h0M1176 1444.5h0M1172 1444h0M1179 1444.5h0M1176 1441.6h0M1179.8 1441h0" fill="none" stroke="#1034f6" stroke-width="6.1" stroke-linecap="round"/>
<path d="M1209.8 1187.5h0M1208.4 1186.7h0M1211.1 1186.5h0M1209.7 1184.2h0M1208.3 1183.6h0M1211 1184.6h0M1209.3 1180.9h0M1207.6 1181.1h0M1212.1 1181.1h0M1209.5 1177.9h0M1206.4 1177.8h0M1212.9 1177.9h0M1205.4 1174.7h0M1209.8 1175.8h0M1214 1174.7h0M1204.4 1175.5h0M1215.3 1175h0M1205.3 1172.1h0M1209.7 1172.4h0M1213.8 1172.3h0M1201.8 1171.6h0M1217.4 1172.6h0M1201.1 1169.6h0M1205.1 1168.5h0M1210 1169.2h0M1213.6 1169.5h0M1218.4 1169.3h0M1198.4 1168.7h0M1220.9 1168.6h0M1196.9 1166.2h0M1201.5 1165.9h0M1205.3 1166h0M1210.1 1166.2h0M1213.7 1166.2h0M1218.4 1166.3h0M1222.2 1166.4h0M1196.9 1163.7h0M1201.1 1163.2h0M1205.6 1163.1h0M1209.6 1163.3h0M1213.5 1163.6h0M1217.8 1163.9h0M1221.9 1163.9h0M1197.3 1160.2h0M1201.6 1160.2h0M1205.9 1160.2h0M1209.6 1160.2h0M1213.6 1160.2h0M1218 1160.7h0M1222.1 1160.7h0M1209.9 1399.8h0M1209.9 1396.7h0M1209.6 1392.4h0M1209.6 1389.3h0M1209.6 1386.9h0M1209.7 1384.2h0M1209.6 1381h0M1209.6 1377h0M1209.7 1370.9h0M1209.7 1367.9h0M1209.6 1365.7h0M1209.5 1362h0M1209.7 1358.7h0M1209.5 1355.9h0M1209.9 1352.2h0M1209.6 1350.1h0M1209.8 1346.6h0M1209.5 1343.2h0M1209.6 1339.6h0M1209.8 1337.5h0M1209.8 1334.1h0M1209.8 1330.8h0M1209.8 1328.1h0M1209.6 1324.5h0M1209.9 1321.8h0M1209.5 1318.1h0M1209.8 1315.5h0M1209.6 1309.5h0M1209.8 1305.3h0M1209.7 1301.9h0M1209.7 1298.9h0M1209.7 1296.5h0M1209.7 1292.9h0M1209.6 1289.4h0M1209.7 1286.8h0M1209.5 1283.4h0M1209.5 1280.3h0M1209 1280.1h0M1210.6 1280.1h0M1209.7 1278.2h0M1208.8 1277.9h0M1210.7 1277.9h0M1209.8 1274h0M1208.9 1274.2h0M1210.6 1274.3h0M1209.9 1270.9h0M1209 1271.8h0M1208.8 1268.4h0M1210.4 1267.7h0M1209.7 1264.5h0M1208.9 1265.4h0M1210.6 1264.4h0M1209.5 1261.7h0M1208.9 1262.1h0M1210.6 1262.1h0M1208.8 1258.7h0M1210.5 1259.5h0M1209.7 1255.6h0M1208.7 1255.8h0M1210.5 1255.6h0M1209.9 1252.3h0M1208.9 1253.3h0M1210.8 1253.3h0M1208.6 1249.7h0M1210.8 1249.7h0M1209.7 1246.2h0M1208.9 1245.8h0M1210.8 1247.1h0M1209.8 1243.1h0M1208.8 1242.7h0M1210.7 1243.8h0M1209.7 1240.1h0M1210.6 1239.5h0M1209.7 1237h0M1208.6 1236.7h0M1210.7 1237.2h0M1209.8 1234.5h0M1208.8 1234.4h0M1210.9 1233.7h0M1209.7 1231.2h0M1208.6 1230.3h0M1210.7 1230.3h0M1209.9 1227.1h0M1210.6 1227.7h0M1209.8 1224.1h0M1208.7 1224.2h0M1210.9 1224.6h0M1209.6 1222h0M1208.8 1222.2h0M1210.8 1221.3h0M1209.8 1218.1h0M1208.6 1217.6h0M1210.6 1218h0M1209.9 1214.5h0M1208.5 1214.9h0M1210.6 1214.9h0M1209.7 1212.8h0M1208.4 1211.7h0M1210.7 1211.9h0M1209.8 1209.5h0M1208.6 1209.5h0M1210.9 1209.5h0M1209.5 1206.2h0M1208.5 1206.6h0M1210.7 1205.2h0M1209.6 1202.1h0M1208.4 1203.1h0M1210.7 1202.8h0M1209.9 1199.2h0M1210.8 1199.6h0M1209.7 1196.8h0M1208.4 1196.7h0M1210.8 1195.9h0M1209.8 1193.9h0M1208.4 1192.7h0M1210.7 1193.8h0M1209.8 1190.3h0M1208.4 1190.1h0M1210.7 1190.4h0M1208.5 1186.9h0M1210.7 1187.3h0M1209.7 1408.4h0M1209.7 1442.8h0M1209.7 1447.2h0" fill="none" stroke="#00f400" stroke-width="6.1" stroke-linecap="round"/>
<path d="M1244 1202.4h0M1241.3 1201.5h0M1246.3 1201.3h0M1243.3 1199.4h0M1241.1 1198.4h0M1246.7 1199.1h0M1243.9 1196.3h0M1240.6 1194.9h0M1247 1195.9h0M1243.9 1191.9h0M1240.3 1192.3h0M1246.9 1193.1h0M1243.6 1189.3h0M1239.8 1188.8h0M1247.8 1189.3h0M1239.2 1185.4h0M1243.4 1185.4h0M1247.6 1186.3h0M1239.5 1182.3h0M1243.3 1183.4h0M1248.2 1183.3h0M1237.3 1182.1h0M1249.8 1182.7h0M1239.9 1179.7h0M1244 1179.4h0M1247.9 1179.6h0M1236.3 1179.6h0M1251.4 1179.7h0M1235 1176.1h0M1239.7 1176.5h0M1243.6 1176.1h0M1247.8 1176.4h0M1252.3 1175.7h0M1235.1 1173.6h0M1239.8 1172.8h0M1244 1173.1h0M1247.9 1172.9h0M1252.4 1172.7h0M1232.8 1173.3h0M1254.8 1172.9h0M1231.4 1169.5h0M1235.4 1170.3h0M1239.1 1169.5h0M1244.1 1169.4h0M1248.3 1169.4h0M1251.9 1170.4h0M1256 1169.4h0M1231 1166.6h0M1235.2 1167h0M1239.6 1166.4h0M1243.8 1166.1h0M1248.3 1167.4h0M1252.4 1167.3h0M1256.5 1165.9h0M1230.9 1162.7h0M1235.6 1162.9h0M1239.8 1163.3h0M1244 1163.3h0M1248.1 1163.7h0M1252 1163.5h0M1256.4 1162.7h0M1231.1 1160.4h0M1235.3 1160.7h0M1239.1 1160.2h0M1243.7 1160.2h0M1247.7 1160.2h0M1252.5 1160.2h0M1256.4 1160.2h0M1243.7 1458.8h0M1243.7 1455.7h0M1243.7 1453.6h0M1243.6 1450.2h0M1243.7 1446.7h0M1243.5 1443.3h0M1243.7 1439.9h0M1243.8 1436.6h0M1243.6 1434.6h0M1243.8 1431.1h0M1243.7 1428.2h0M1243.9 1424.7h0M1243.7 1421.2h0M1243.9 1417.7h0M1243.8 1414.6h0M1243.6 1412.9h0M1242.8 1412.7h0M1244.6 1412.4h0M1243.8 1409.6h0M1242.8 1409.3h0M1244.7 1409.5h0M1243.9 1406.6h0M1242.7 1405.9h0M1244.5 1405.9h0M1243.6 1402.5h0M1242.9 1402.6h0M1244.5 1402.8h0M1243.5 1399.9h0M1242.7 1400.2h0M1244.4 1399.2h0M1243.6 1396.5h0M1242.6 1395.9h0M1244.8 1396.1h0M1243.8 1392.9h0M1242.7 1392.6h0M1244.7 1393.5h0M1243.5 1390.4h0M1242.6 1390h0M1244.7 1390.7h0M1243.9 1386.5h0M1242.8 1387.6h0M1244.7 1386.8h0M1243.7 1383.2h0M1242.8 1383.4h0M1244.9 1384h0M1243.6 1380.3h0M1242.5 1381.5h0M1244.9 1380.8h0M1243.7 1378.2h0M1242.7 1377.2h0M1244.6 1377.9h0M1243.8 1374.7h0M1242.5 1375h0M1244.7 1375.2h0M1243.6 1370.7h0M1242.7 1371.9h0M1244.7 1370.8h0M1243.6 1368.2h0M1242.4 1367.9h0M1245.1 1368.4h0M1243.8 1365.3h0M1242.7 1365.7h0M1244.7 1365h0M1243.8 1361.6h0M1242.4 1362.5h0M1245 1362.2h0M1243.5 1359.3h0M1242.6 1359.1h0M1244.9 1359.3h0M1243.9 1355.5h0M1242.4 1355.3h0M1244.9 1356h0M1243.9 1351.9h0M1242.4 1352.9h0M1244.8 1353.1h0M1243.9 1348.7h0M1242.4 1348.8h0M1245.1 1349.5h0M1243.6 1346.7h0M1242.3 1347h0M1245.2 1346h0M1243.6 1343.8h0M1242.5 1342.5h0M1245 1343.4h0M1243.9 1340.7h0M1242.3 1339.8h0M1245.2 1340.3h0M1243.6 1337.3h0M1242.2 1336.3h0M1245 1337.4h0M1243.8 1333.7h0M1242.3 1334.4h0M1245.4 1334.1h0M1243.7 1331.1h0M1242.1 1330.2h0M1245.3 1330.1h0M1243.5 1327.8h0M1242 1327.8h0M1245.4 1327.1h0M1243.5 1324.8h0M1242.3 1324.2h0M1245.2 1324.8h0M1243.9 1321.5h0M1242.3 1320.5h0M1245.4 1321.6h0M1243.8 1317.8h0M1242 1318.3h0M1245.3 1318.3h0M1243.9 1315.2h0M1242.3 1314.9h0M1245.3 1315.1h0M1243.6 1312.2h0M1242 1312.5h0M1245.4 1312.6h0M1243.9 1309.2h0M1242 1308.3h0M1245.2 1309.3h0M1243.5 1306h0M1241.9 1304.9h0M1245.4 1305.8h0M1243.7 1302.6h0M1242.1 1302.1h0M1245.4 1302.6h0M1243.7 1298.9h0M1241.8 1299.6h0M1245.4 1298.9h0M1243.6 1296.1h0M1242 1295.8h0M1245.6 1295.8h0M1243.8 1293.6h0M1242 1293.1h0M1245.5 1293.6h0M1243.8 1289.3h0M1241.7 1290.1h0M1245.7 1290h0M1243.9 1286.3h0M1241.9 1286.9h0M1245.6 1287.5h0M1243.9 1282.9h0M1241.6 1284.2h0M1245.5 1284h0M1243.5 1280.7h0M1241.9 1280.7h0M1245.5 1281h0M1243.9 1277.1h0M1241.9 1277.4h0M1245.6 1277.7h0M1243.6 1274.4h0M1241.7 1273.5h0M1245.8 1274.5h0M1243.5 1270.6h0M1241.6 1271h0M1245.4 1270.7h0M1243.9 1268.2h0M1241.4 1267.4h0M1246.1 1268.6h0M1244 1264.3h0M1241.7 1264.2h0M1246 1264.1h0M1243.4 1261.8h0M1242 1262h0M1245.8 1262.1h0M1244 1258.7h0M1241.9 1258.2h0M1246.2 1258.6h0M1243.7 1255h0M1241.3 1255.7h0M1245.9 1255.1h0M1244 1252.9h0M1241.3 1252.2h0M1246 1252.3h0M1243.6 1249.4h0M1241.4 1249.3h0M1245.8 1249.7h0M1243.3 1245.4h0M1241.8 1246h0M1246.2 1245.6h0M1243.6 1243.3h0M1241.3 1243.3h0M1246.2 1243.5h0M1243.4 1239.9h0M1241.5 1239.3h0M1246.2 1239.7h0M1243.6 1237h0M1241.5 1237.2h0M1246.2 1236.8h0M1243.4 1232.8h0M1241.1 1233.5h0M1246 1232.7h0M1243.9 1229.6h0M1241.3 1230.3h0M1246.1 1229.6h0M1244 1226.7h0M1241.7 1226.4h0M1246.4 1226.7h0M1243.9 1224.5h0M1241.3 1223.8h0M1246.4 1223.8h0M1243.8 1220.4h0M1241 1220.2h0M1246.4 1220.8h0M1243.4 1217.8h0M1241.3 1218h0M1246.1 1217.4h0M1244 1215h0M1240.9 1214.7h0M1246.2 1215h0M1243.4 1211.8h0M1241.5 1211.2h0M1246 1211.4h0M1244 1208h0M1240.8 1208.6h0M1246.1 1208h0M1243.6 1205.8h0M1241 1205h0M1246.6 1204.5h0M1243.9 1202.2h0M1241.2 1202.3h0M1246.5 1202.5h0" fill="none" stroke="#00f400" stroke-width="6.1" stroke-linecap="round"/>
<path d="M1309.1 1170.7h0M1303.6 1173.7h0M1298.6 1179.6h0M1303.2 1205h0M1303.5 1208h0M1304.9 1214h0M1306.9 1220h0M1304.2 1243.9h0M1297.2 1291.7h0M1296.7 1285.7h0M1291.5 1414.7h0M1311.8 1395.4h0M1314.7 1452.5h0M1314.7 1341.5h0M1315.1 1342.1h0M1290.7 1352.9h0M1293.1 1337.7h0M1312.7 1305.9h0M1295.8 1305.7h0M1306.2 1458.4h0M1296.2 1418.7h0M1315.6 1330.1h0M1311 1272.9h0" fill="none" stroke="#1034f6" stroke-width="6.2" stroke-linecap="round" stroke-opacity="0.78"/>
<path d="M1316.4 1412.5h0M1309.8 1423.6h0M1307.2 1281.6h0M1295.2 1388.4h0M1311.6 1329.1h0M1302.2 1277.8h0M1306.4 1333.3h0M1309 1355.5h0M1308.5 1445.6h0M1306.7 1280.2h0M1306.4 1416.6h0M1295.3 1351.7h0M1305.7 1436.5h0M1301.5 1454.5h0M1300.7 1330.2h0M1305.3 1430.3h0M1298.5 1334.3h0M1304 1395.3h0M1301.5 1444.9h0M1302 1302.3h0M1308.6 1389.8h0M1306.6 1277.1h0M1299 1299.4h0M1296.7 1325.2h0M1303.7 1386.8h0M1304.8 1395.8h0M1301.3 1441h0M1296.7 1277.1h0M1307.6 1345.7h0M1303.3 1373.6h0M1302.4 1299.4h0M1308.1 1402.7h0M1307.1 1338.5h0M1304.5 1389h0M1304.4 1343.4h0M1310.3 1407.9h0M1304 1411.1h0M1298 1437.4h0M1308.9 1357h0M1308.6 1311.6h0M1297.1 1446.6h0M1300.5 1388.2h0M1297.3 1359.7h0M1302.2 1385.7h0M1308.4 1445.3h0M1304.9 1335.6h0M1296.3 1396.2h0M1304.8 1310.9h0M1312.6 1363h0M1303.8 1316.9h0M1299.6 1454.8h0M1298.4 1389.3h0M1308.6 1435.3h0M1297.3 1404.3h0M1312.2 1448.7h0M1302.4 1276.4h0M1310 1417.7h0M1300.3 1408.9h0M1299 1426.7h0M1296.9 1365.9h0M1305.7 1373.7h0M1303.8 1430.5h0M1303 1272.3h0M1307.6 1422.1h0M1300.7 1373.4h0M1299.9 1435.9h0M1297.6 1360.4h0M1300.3 1388.7h0M1294.3 1328.3h0M1300.6 1370.3h0M1301.3 1362.8h0M1301.4 1329.1h0M1300 1406.7h0M1309.4 1325.4h0M1297.1 1397.8h0M1311.6 1357.3h0M1300.6 1321h0M1305.3 1374.7h0M1298.8 1278.8h0M1302.2 1445.3h0M1299.1 1404.9h0M1294.6 1364.1h0M1308.7 1383.8h0M1300.5 1453h0M1296.6 1371.2h0M1295.4 1431.2h0M1301.9 1405.9h0M1292.4 1404.3h0M1300.4 1315h0M1307.8 1359.4h0M1312.7 1408.4h0M1299.7 1389h0M1305.5 1315.5h0M1304.6 1372h0M1300.6 1333.7h0M1311.9 1440.9h0M1300.5 1416h0M1302.2 1326.6h0M1309.6 1351h0M1301.6 1349.9h0M1304.1 1346.9h0M1306 1322.7h0M1312.5 1281.5h0M1296.5 1349.7h0M1303.3 1440.2h0M1310.1 1338.1h0M1306.9 1426.7h0M1293.1 1390.4h0M1297.2 1408.5h0M1307.4 1386.4h0M1303.8 1429h0M1307.1 1374.5h0M1297.6 1366h0M1305.5 1408.8h0M1309.3 1362.4h0M1311.1 1442.2h0M1303.7 1384.1h0M1310.6 1391.3h0M1297.7 1376.4h0M1307.8 1326.4h0M1306.2 1319.7h0M1309.2 1375.1h0M1299.9 1432.6h0M1298.5 1396.6h0M1298.7 1382.3h0M1305.9 1280.8h0M1300.3 1282.7h0M1304.5 1345.7h0M1297.4 1293.8h0M1293.8 1405.6h0M1308.8 1316.5h0M1304.6 1342.5h0M1309.3 1406.8h0M1299 1449h0M1304.2 1337.4h0" fill="none" stroke="#1034f6" stroke-width="6.1" stroke-linecap="round"/>
<path d="M1338.4 1179.6h0M1337.7 1220h0M1338.6 1233.5h0M1337.9 1242.4h0M1338 1255.9h0M1338.3 1275.3h0M1337.9 1294.8h0M1337.8 1309.7h0M1338.2 1318.7h0M1338.5 1330.6h0M1334.8 1349h0M1334.3 1358.5h0M1327.5 1383.5h0M1347.9 1405.2h0" fill="none" stroke="#1034f6" stroke-width="6.2" stroke-linecap="round" stroke-opacity="0.78"/>
<path d="M1338.2 1162.3h0M1336.2 1161.3h0M1340.4 1162.2h0M1338 1160.2h0M1336.4 1160.2h0M1340 1160.9h0M1341.7 1357.5h0M1342.1 1356.1h0M1337.7 1352.7h0M1339.2 1359h0M1344.5 1429.9h0M1343.5 1445.6h0M1331.3 1431.3h0M1334 1425.7h0M1339.4 1388.4h0M1343.1 1382.8h0M1344.3 1442.8h0M1336.5 1404h0M1344.7 1422.4h0M1343.3 1445.2h0M1331.6 1415.2h0M1343.2 1423.6h0M1338.8 1405.9h0M1339.8 1371.3h0M1335.7 1392.5h0M1332.6 1451.8h0M1339.3 1439.3h0M1338 1449.7h0M1340.9 1391.4h0M1335.3 1390.1h0M1334.9 1443.9h0M1334 1373.5h0M1341.8 1432.9h0M1338.7 1454.5h0M1328.1 1452.1h0M1341.6 1456.2h0M1338.2 1434.7h0M1336.4 1424.8h0M1343.2 1421.5h0M1340.9 1444.1h0M1329.3 1394.3h0M1346.6 1417.9h0M1339.8 1382.4h0M1338.6 1414.4h0M1332.5 1432.4h0M1346 1428.5h0M1331.7 1370.1h0M1336.5 1409.6h0M1332.3 1425.8h0M1333.3 1429.4h0M1333.2 1444.8h0M1333.4 1369.8h0M1342.7 1417.9h0M1347.4 1433.7h0M1331.1 1374.4h0M1339.8 1381.9h0M1332.7 1376.3h0M1332.4 1454.1h0M1340.4 1383.9h0M1345.5 1420.1h0M1344.3 1451.8h0M1344.9 1374.6h0M1332.5 1443.8h0M1338.4 1398.7h0M1337.9 1370.8h0M1340.9 1376.1h0M1337.5 1376.9h0M1339.5 1371.3h0M1345 1436.6h0M1344 1458.2h0M1334.6 1395h0M1341.9 1440.8h0M1336.4 1396.1h0M1328.5 1453.2h0M1334.6 1437.6h0M1328.1 1450.9h0M1343.4 1391.4h0M1343.7 1392.4h0M1341 1380.3h0M1332.8 1448.1h0M1340.8 1443h0M1337.9 1383.9h0M1344.8 1418h0M1339.5 1442.3h0M1344.7 1399.6h0M1347.3 1376.9h0M1335.3 1384.8h0M1339.6 1375.1h0M1347.1 1387.5h0M1338.8 1448.1h0M1332.5 1386.8h0M1330.8 1441h0M1335.5 1387.5h0M1336.8 1433.7h0M1335.7 1408.8h0M1341.3 1391.2h0M1338.5 1446.3h0M1343 1445.6h0M1332.7 1408.4h0M1342 1441.8h0M1338.8 1450.1h0M1331 1394.7h0M1337.9 1393.4h0M1344 1378.6h0M1339.2 1385.8h0M1340.4 1392.9h0M1331.6 1451.6h0M1334.4 1442.8h0M1345.5 1431.1h0M1343.1 1457.6h0M1345 1412.8h0M1347 1434h0M1342 1444h0M1329.4 1435.5h0M1329 1440.5h0M1334.2 1428.2h0M1332.8 1369.8h0M1345.8 1421.3h0M1333 1385.5h0M1329.7 1442.6h0M1341.8 1416.4h0M1344.5 1412.5h0M1331.4 1410.2h0" fill="none" stroke="#1034f6" stroke-width="6.1" stroke-linecap="round"/>
<path d="M1372.3 1181.6h0M1372 1177.5h0M1372.1 1175.6h0M1369.9 1175.7h0M1374.7 1175.3h0M1367.7 1172.8h0M1372.3 1172.3h0M1376.6 1171.4h0M1363.9 1169.6h0M1368.3 1169.5h0M1372 1169.4h0M1376.3 1168.8h0M1380.6 1169.1h0M1364.1 1166.2h0M1368.3 1166.4h0M1371.8 1166.2h0M1376.1 1166.7h0M1380.6 1166.6h0M1360 1166.6h0M1384.7 1165.8h0M1360 1162.5h0M1364 1163.5h0M1368.4 1162.5h0M1372.2 1162.4h0M1376.2 1163.2h0M1380.2 1163.6h0M1385.1 1163.5h0M1359.7 1160.2h0M1363.6 1160.4h0M1367.9 1160.2h0M1372 1160.8h0M1376.7 1160.2h0M1380.7 1160.2h0M1384.5 1160.2h0M1371.9 1199.1h0M1371.9 1208h0M1372.3 1217h0M1372.2 1223h0M1371.9 1229h0M1372.7 1235h0M1372.5 1243.9h0M1372.6 1249.9h0M1372.2 1428.7h0M1370.6 1429.4h0M1374.1 1429.5h0M1372 1426.5h0M1370.3 1425.8h0M1373.9 1426.1h0M1372.4 1423.4h0M1370.6 1422.4h0M1374.1 1422.5h0M1372 1419.6h0M1370.4 1420.2h0M1373.8 1420.2h0M1372.4 1416.5h0M1370.4 1416.1h0M1374 1417.3h0M1372.1 1413.1h0M1370.4 1414h0M1373.8 1413.8h0M1372 1409.7h0M1370.5 1411h0M1373.8 1409.8h0M1372.4 1406.5h0M1370.5 1406.9h0M1374.1 1406.7h0M1372.1 1403.6h0M1370.5 1403.5h0M1374 1404.6h0M1372.1 1401.5h0M1370.6 1400.2h0M1373.9 1401.6h0M1372.2 1397.9h0M1370.7 1397.4h0M1374.1 1398h0M1372.1 1393.9h0M1370.7 1394.3h0M1373.7 1394.3h0M1372.3 1391.6h0M1370.5 1390.9h0M1374 1391.1h0M1372.2 1387.6h0M1370.5 1388.6h0M1373.7 1388.3h0M1372.4 1384.7h0M1370.6 1385.2h0M1372.1 1382.1h0M1373.7 1381.7h0M1372.3 1378.2h0M1370.4 1379.6h0M1374 1378.3h0M1372 1375.9h0M1370.7 1376.3h0M1373.9 1375.9h0M1372.4 1372.8h0M1370.7 1372h0M1373.9 1373.2h0M1372.4 1368.9h0M1370.6 1369.3h0M1374 1369.7h0M1372.2 1365.8h0M1370.6 1365.6h0M1373.8 1366.5h0M1372.2 1362.7h0M1370.5 1362.9h0M1373.7 1363.5h0M1372 1360.4h0M1370.7 1359.6h0M1373.7 1360h0M1372.3 1357.2h0M1370.4 1357.5h0M1373.6 1356.2h0M1372 1353.5h0M1370.4 1353.4h0M1374 1354.4h0M1372.3 1351h0M1370.4 1349.9h0M1373.8 1349.9h0M1372.1 1346.9h0M1370.5 1347.3h0M1373.7 1347.6h0M1372.2 1343.7h0M1370.7 1344.9h0M1373.9 1343.7h0M1372.1 1340.9h0M1373.6 1341.2h0M1372.3 1337.4h0M1370.5 1337.3h0M1372.1 1335h0M1373.5 1334.9h0M1372.1 1331.4h0M1370.5 1331.9h0M1373.8 1331h0M1372.3 1328.8h0M1370.8 1328.8h0M1372.3 1324.6h0M1370.7 1325.9h0M1373.7 1324.5h0M1372.2 1322.6h0M1370.8 1322.3h0M1373.7 1322.3h0M1372 1319.3h0M1370.6 1319.5h0M1373.6 1318.8h0M1372.2 1315.6h0M1372 1312.7h0M1370.7 1312.6h0M1373.7 1312.7h0M1372.3 1310h0M1370.6 1309.7h0M1373.8 1309.5h0M1372.1 1306.9h0M1370.7 1305.8h0M1373.6 1306.8h0M1372.1 1303.7h0M1370.9 1303.9h0M1373.8 1302.7h0M1372.3 1300.1h0M1370.8 1300.6h0M1373.7 1299.8h0M1372.4 1297.6h0M1370.8 1297.2h0M1373.7 1296.8h0M1372.1 1293.9h0M1370.9 1293.9h0M1373.7 1293.8h0M1372.3 1290.8h0M1370.6 1290.4h0M1373.5 1291.3h0M1372.4 1286.7h0M1370.9 1287.9h0M1373.7 1286.8h0M1372 1284.8h0M1370.8 1284.8h0M1373.7 1284h0M1372.1 1281.7h0M1371 1281h0M1373.7 1281.2h0M1370.6 1277.7h0M1373.6 1277.5h0M1372.2 1274.9h0M1370.7 1275.2h0M1373.8 1274.2h0M1372.2 1272h0M1373.5 1272.2h0M1372.1 1269.1h0M1370.9 1269h0M1373.3 1268.3h0M1372.3 1266h0M1370.7 1265.1h0M1373.4 1264.6h0M1372.2 1262.5h0M1371 1262.8h0M1373.3 1262.6h0M1372.3 1259.2h0M1370.7 1258.7h0M1373.4 1258.8h0M1372.4 1255.5h0M1370.7 1255.4h0M1373.7 1255.8h0" fill="none" stroke="#00f400" stroke-width="6.1" stroke-linecap="round"/>
<path d="M1406.1 1192.8h0M1403.9 1192.5h0M1408.3 1193.1h0M1406.5 1189.5h0M1403.8 1189.2h0M1408.5 1190h0M1405.8 1186.1h0M1403.2 1186.6h0M1409 1186.6h0M1406.6 1182.9h0M1402.6 1183.4h0M1409.9 1183.7h0M1402.3 1179.8h0M1406.5 1179.8h0M1410.7 1180.3h0M1400.9 1180.3h0M1411.4 1179.9h0M1402.2 1176.3h0M1406.3 1176.1h0M1410.6 1176h0M1399.4 1176.5h0M1413.1 1176.3h0M1398.2 1173h0M1402.3 1173.7h0M1405.9 1173.8h0M1410.4 1173h0M1414.3 1172.9h0M1396.9 1173.4h0M1415.4 1173.7h0M1398.2 1169.4h0M1402 1170.2h0M1406 1170.5h0M1410.6 1170.5h0M1414.2 1169.6h0M1393.8 1170h0M1418.3 1169.8h0M1393.3 1166.2h0M1398.1 1166.8h0M1401.7 1166.2h0M1406.4 1167h0M1410.8 1166.5h0M1414.5 1167.1h0M1418.9 1166.6h0M1393.7 1164h0M1397.8 1164.1h0M1401.8 1163.2h0M1405.8 1163.4h0M1410.8 1162.8h0M1414.2 1164.1h0M1418.9 1163.8h0M1393.4 1160.2h0M1397.8 1160.6h0M1401.7 1160.2h0M1406.6 1160.6h0M1410.7 1160.8h0M1414.6 1160.3h0M1418.5 1160.4h0M1406.1 1459.2h0M1405.1 1458.7h0M1407.3 1458.5h0M1406.2 1455.8h0M1405.2 1456.2h0M1407.4 1455.5h0M1406.2 1453h0M1404.8 1453.6h0M1407.6 1453.3h0M1406.4 1450.1h0M1404.8 1450.4h0M1407.3 1449.2h0M1406.4 1446.8h0M1405 1447.4h0M1407.4 1446.6h0M1406.1 1443.7h0M1404.8 1443.2h0M1407.5 1442.8h0M1406 1440.8h0M1404.9 1439.8h0M1407.6 1439.9h0M1406.3 1437.3h0M1404.8 1437.5h0M1407.4 1437.1h0M1406.2 1434.5h0M1404.9 1433.8h0M1407.7 1434.9h0M1406.3 1431.3h0M1404.9 1431.1h0M1407.4 1431.3h0M1406.2 1427.7h0M1404.8 1427.5h0M1407.5 1427.3h0M1406.1 1425.3h0M1405 1424.6h0M1407.5 1425.3h0M1406.1 1422.1h0M1404.7 1421h0M1407.7 1421.3h0M1406.1 1417.8h0M1405 1418.5h0M1407.7 1419h0M1406.1 1416h0M1404.7 1415.2h0M1407.8 1415.9h0M1406.3 1413h0M1404.7 1412.5h0M1407.5 1411.7h0M1406.3 1409.2h0M1404.7 1409.8h0M1407.6 1409.1h0M1406.1 1405.7h0M1404.8 1405.3h0M1407.8 1405.4h0M1406.3 1403.5h0M1404.6 1403h0M1407.8 1403.4h0M1406.2 1400.4h0M1404.9 1399.4h0M1407.7 1399.1h0M1406 1396.4h0M1404.7 1397.2h0M1407.5 1397h0M1406.3 1393h0M1404.7 1393.6h0M1407.6 1392.8h0M1406.3 1390.3h0M1404.8 1390.1h0M1407.7 1391.1h0M1406.4 1387.5h0M1404.7 1386.5h0M1407.9 1387.4h0M1406.4 1384.4h0M1404.6 1383.5h0M1407.8 1384.2h0M1406.2 1380.8h0M1404.5 1381.4h0M1407.7 1381.7h0M1406.2 1377.7h0M1404.7 1377.3h0M1407.6 1378.4h0M1406.3 1374.7h0M1404.6 1374.9h0M1407.6 1374.7h0M1406.3 1372.2h0M1404.6 1372.3h0M1407.6 1372.1h0M1406.4 1368.2h0M1404.6 1368.1h0M1407.7 1369.1h0M1406.1 1364.8h0M1404.4 1365.2h0M1408 1364.9h0M1406.3 1361.6h0M1404.6 1362.3h0M1407.7 1362h0M1406.3 1358.7h0M1404.5 1358.6h0M1407.7 1359h0M1406.2 1355.6h0M1404.6 1355.7h0M1407.7 1356.4h0M1406.2 1352.2h0M1404.4 1353.3h0M1408 1352.4h0M1406 1349.5h0M1404.5 1349.5h0M1408.1 1350.2h0M1406.1 1347.2h0M1404.7 1346.4h0M1407.8 1346.3h0M1406.1 1342.8h0M1404.6 1343.3h0M1408 1342.6h0M1406 1339.9h0M1404.5 1340.1h0M1407.8 1340.4h0M1406.3 1336.9h0M1404.3 1336.5h0M1407.8 1337.4h0M1406.4 1333.5h0M1404.6 1334h0M1408 1334.7h0M1406.3 1330.5h0M1404.4 1330.8h0M1408.2 1330.9h0M1406.1 1327.4h0M1404.6 1327.8h0M1408.1 1328.1h0M1406.4 1324.8h0M1404.5 1325.3h0M1407.9 1325.1h0M1406.4 1321.3h0M1404.5 1320.8h0M1408 1321.2h0M1406.2 1318.6h0M1404.5 1318.7h0M1408.1 1318.7h0M1406.3 1315.7h0M1404.2 1315.2h0M1408 1315.2h0M1406 1312.2h0M1404.3 1312h0M1407.9 1312.3h0M1406.2 1308.7h0M1404.3 1308.5h0M1408 1308.6h0M1406.1 1305.8h0M1404.5 1305.1h0M1407.9 1305.5h0M1406.3 1302.8h0M1404.4 1302.9h0M1408.3 1302.6h0M1406.2 1300.2h0M1404.3 1299.6h0M1408.2 1299.7h0M1406.3 1296.8h0M1404.2 1296.1h0M1408.1 1296.9h0M1406.2 1293.8h0M1404.4 1293.2h0M1408.2 1293.2h0M1406 1290.2h0M1404.4 1290.9h0M1408.2 1290.6h0M1406.2 1287.3h0M1404.3 1286.4h0M1408.2 1286.8h0M1406.3 1284.5h0M1404.2 1283.3h0M1408.3 1284h0M1406.1 1281h0M1404.3 1280.3h0M1408 1280.3h0M1406 1278.1h0M1404 1277.7h0M1408 1276.9h0M1406.2 1274.2h0M1404.2 1275.1h0M1408.2 1275h0M1406.1 1271.1h0M1404.4 1271.8h0M1408.3 1271.2h0M1406 1268.8h0M1404.5 1268h0M1408.1 1267.5h0M1406.2 1265h0M1403.9 1265.5h0M1408.6 1264.8h0M1405.8 1261.8h0M1404.5 1261.3h0M1408.5 1261.5h0M1406.3 1259.3h0M1404.4 1258.3h0M1408.7 1258.5h0M1406 1255h0M1403.8 1255.2h0M1408 1255.7h0M1406.5 1252.7h0M1404.1 1252.5h0M1408.1 1252.2h0M1406.5 1249.8h0M1404.2 1249.2h0M1408 1249h0M1406.4 1246.3h0M1404.3 1245.8h0M1408.7 1246.4h0M1406 1242.7h0M1403.9 1243.9h0M1408.5 1243.9h0M1405.9 1240.6h0M1403.8 1240.5h0M1408.3 1240.4h0M1406.4 1236.3h0M1403.8 1237.4h0M1408.8 1237.2h0M1406.5 1233.5h0M1404.2 1234.1h0M1408.2 1234.4h0M1406 1231.4h0M1404.3 1231h0M1408.6 1231.4h0M1406.1 1227.4h0M1404.2 1228.2h0M1408.4 1227.1h0M1406.5 1224.5h0M1403.8 1224.5h0M1408.5 1224.2h0M1406.1 1221.7h0M1404.3 1220.9h0M1408.2 1221.9h0M1406.3 1218.1h0M1404 1218.3h0M1408.3 1218.4h0M1406.4 1215.7h0M1404.1 1215h0M1408.2 1215.7h0M1406.5 1211.4h0M1404.1 1211.1h0M1408.8 1211.7h0M1406 1209.5h0M1404.2 1208.1h0M1408.5 1209.3h0M1405.8 1205.3h0M1403.7 1204.9h0M1408.3 1205.1h0M1406.3 1202.9h0M1403.7 1202.4h0M1408.3 1202.8h0M1406.4 1198.9h0M1404.2 1199.7h0M1408.4 1199.1h0M1406.5 1195.7h0M1403.7 1196.3h0M1409 1196.5h0M1406 1192.7h0M1403.7 1193.3h0M1409 1193h0" fill="none" stroke="#00f400" stroke-width="6.1" stroke-linecap="round"/>
<line x1="166" y1="1427.2" x2="166" y2="1437.4" stroke="#000" stroke-width="2"/>
<line x1="157.5" y1="1427.2" x2="174.5" y2="1427.2" stroke="#000" stroke-width="2"/>
<line x1="157.5" y1="1437.4" x2="174.5" y2="1437.4" stroke="#000" stroke-width="2"/>
<line x1="150.2" y1="1432.3" x2="181.8" y2="1432.3" stroke="#000" stroke-width="4.6"/>
<line x1="200" y1="1420" x2="200" y2="1425.4" stroke="#000" stroke-width="2"/>
<line x1="191.5" y1="1420" x2="208.5" y2="1420" stroke="#000" stroke-width="2"/>
<line x1="191.5" y1="1425.4" x2="208.5" y2="1425.4" stroke="#000" stroke-width="2"/>
<line x1="184.2" y1="1422.7" x2="215.8" y2="1422.7" stroke="#000" stroke-width="4.6"/>
<line x1="234" y1="1412.3" x2="234" y2="1434.4" stroke="#000" stroke-width="2"/>
<line x1="225.5" y1="1412.3" x2="242.5" y2="1412.3" stroke="#000" stroke-width="2"/>
<line x1="225.5" y1="1434.4" x2="242.5" y2="1434.4" stroke="#000" stroke-width="2"/>
<line x1="218.2" y1="1423.3" x2="249.8" y2="1423.3" stroke="#000" stroke-width="4.6"/>
<line x1="268" y1="1394.3" x2="268" y2="1400.3" stroke="#000" stroke-width="2"/>
<line x1="259.5" y1="1394.3" x2="276.5" y2="1394.3" stroke="#000" stroke-width="2"/>
<line x1="259.5" y1="1400.3" x2="276.5" y2="1400.3" stroke="#000" stroke-width="2"/>
<line x1="252.2" y1="1397.3" x2="283.8" y2="1397.3" stroke="#000" stroke-width="4.6"/>
<line x1="329" y1="1199.7" x2="329" y2="1207.4" stroke="#000" stroke-width="2"/>
<line x1="320.5" y1="1199.7" x2="337.5" y2="1199.7" stroke="#000" stroke-width="2"/>
<line x1="320.5" y1="1207.4" x2="337.5" y2="1207.4" stroke="#000" stroke-width="2"/>
<line x1="313.2" y1="1203.6" x2="344.8" y2="1203.6" stroke="#000" stroke-width="4.6"/>
<line x1="363" y1="1188.3" x2="363" y2="1191.9" stroke="#000" stroke-width="2"/>
<line x1="354.5" y1="1188.3" x2="371.5" y2="1188.3" stroke="#000" stroke-width="2"/>
<line x1="354.5" y1="1191.9" x2="371.5" y2="1191.9" stroke="#000" stroke-width="2"/>
<line x1="347.2" y1="1190.1" x2="378.8" y2="1190.1" stroke="#000" stroke-width="4.6"/>
<line x1="397" y1="1173.1" x2="397" y2="1176" stroke="#000" stroke-width="2"/>
<line x1="388.5" y1="1173.1" x2="405.5" y2="1173.1" stroke="#000" stroke-width="2"/>
<line x1="388.5" y1="1176" x2="405.5" y2="1176" stroke="#000" stroke-width="2"/>
<line x1="381.2" y1="1174.6" x2="412.8" y2="1174.6" stroke="#000" stroke-width="4.6"/>
<line x1="431" y1="1187.4" x2="431" y2="1189.2" stroke="#000" stroke-width="2"/>
<line x1="422.5" y1="1187.4" x2="439.5" y2="1187.4" stroke="#000" stroke-width="2"/>
<line x1="422.5" y1="1189.2" x2="439.5" y2="1189.2" stroke="#000" stroke-width="2"/>
<line x1="415.2" y1="1188.3" x2="446.8" y2="1188.3" stroke="#000" stroke-width="4.6"/>
<line x1="490.2" y1="1175.2" x2="490.2" y2="1178.1" stroke="#000" stroke-width="2"/>
<line x1="481.7" y1="1175.2" x2="498.7" y2="1175.2" stroke="#000" stroke-width="2"/>
<line x1="481.7" y1="1178.1" x2="498.7" y2="1178.1" stroke="#000" stroke-width="2"/>
<line x1="474.4" y1="1176.6" x2="506" y2="1176.6" stroke="#000" stroke-width="4.6"/>
<line x1="524.2" y1="1174" x2="524.2" y2="1176.3" stroke="#000" stroke-width="2"/>
<line x1="515.7" y1="1174" x2="532.7" y2="1174" stroke="#000" stroke-width="2"/>
<line x1="515.7" y1="1176.3" x2="532.7" y2="1176.3" stroke="#000" stroke-width="2"/>
<line x1="508.4" y1="1175.2" x2="540" y2="1175.2" stroke="#000" stroke-width="4.6"/>
<line x1="558.2" y1="1175.7" x2="558.2" y2="1180.5" stroke="#000" stroke-width="2"/>
<line x1="549.7" y1="1175.7" x2="566.7" y2="1175.7" stroke="#000" stroke-width="2"/>
<line x1="549.7" y1="1180.5" x2="566.7" y2="1180.5" stroke="#000" stroke-width="2"/>
<line x1="542.4" y1="1178.1" x2="574" y2="1178.1" stroke="#000" stroke-width="4.6"/>
<line x1="592.2" y1="1190.1" x2="592.2" y2="1191.9" stroke="#000" stroke-width="2"/>
<line x1="583.7" y1="1190.1" x2="600.7" y2="1190.1" stroke="#000" stroke-width="2"/>
<line x1="583.7" y1="1191.9" x2="600.7" y2="1191.9" stroke="#000" stroke-width="2"/>
<line x1="576.4" y1="1191" x2="608" y2="1191" stroke="#000" stroke-width="4.6"/>
<line x1="653.2" y1="1186.5" x2="653.2" y2="1191.9" stroke="#000" stroke-width="2"/>
<line x1="644.7" y1="1186.5" x2="661.7" y2="1186.5" stroke="#000" stroke-width="2"/>
<line x1="644.7" y1="1191.9" x2="661.7" y2="1191.9" stroke="#000" stroke-width="2"/>
<line x1="637.4" y1="1189.2" x2="669" y2="1189.2" stroke="#000" stroke-width="4.6"/>
<line x1="687.2" y1="1202.4" x2="687.2" y2="1211.9" stroke="#000" stroke-width="2"/>
<line x1="678.7" y1="1202.4" x2="695.7" y2="1202.4" stroke="#000" stroke-width="2"/>
<line x1="678.7" y1="1211.9" x2="695.7" y2="1211.9" stroke="#000" stroke-width="2"/>
<line x1="671.4" y1="1207.1" x2="703" y2="1207.1" stroke="#000" stroke-width="4.6"/>
<line x1="721.2" y1="1173.1" x2="721.2" y2="1175.4" stroke="#000" stroke-width="2"/>
<line x1="712.7" y1="1173.1" x2="729.7" y2="1173.1" stroke="#000" stroke-width="2"/>
<line x1="712.7" y1="1175.4" x2="729.7" y2="1175.4" stroke="#000" stroke-width="2"/>
<line x1="705.4" y1="1174.3" x2="737" y2="1174.3" stroke="#000" stroke-width="4.6"/>
<line x1="755.2" y1="1216.4" x2="755.2" y2="1219.4" stroke="#000" stroke-width="2"/>
<line x1="746.7" y1="1216.4" x2="763.7" y2="1216.4" stroke="#000" stroke-width="2"/>
<line x1="746.7" y1="1219.4" x2="763.7" y2="1219.4" stroke="#000" stroke-width="2"/>
<line x1="739.4" y1="1217.9" x2="771" y2="1217.9" stroke="#000" stroke-width="4.6"/>
<line x1="850.2" y1="1195.8" x2="850.2" y2="1204.8" stroke="#000" stroke-width="2"/>
<line x1="841.7" y1="1195.8" x2="858.7" y2="1195.8" stroke="#000" stroke-width="2"/>
<line x1="841.7" y1="1204.8" x2="858.7" y2="1204.8" stroke="#000" stroke-width="2"/>
<line x1="834.4" y1="1200.3" x2="866" y2="1200.3" stroke="#000" stroke-width="4.6"/>
<line x1="884.2" y1="1181.4" x2="884.2" y2="1185.6" stroke="#000" stroke-width="2"/>
<line x1="875.7" y1="1181.4" x2="892.7" y2="1181.4" stroke="#000" stroke-width="2"/>
<line x1="875.7" y1="1185.6" x2="892.7" y2="1185.6" stroke="#000" stroke-width="2"/>
<line x1="868.4" y1="1183.5" x2="900" y2="1183.5" stroke="#000" stroke-width="4.6"/>
<line x1="918.2" y1="1213.7" x2="918.2" y2="1216.7" stroke="#000" stroke-width="2"/>
<line x1="909.7" y1="1213.7" x2="926.7" y2="1213.7" stroke="#000" stroke-width="2"/>
<line x1="909.7" y1="1216.7" x2="926.7" y2="1216.7" stroke="#000" stroke-width="2"/>
<line x1="902.4" y1="1215.2" x2="934" y2="1215.2" stroke="#000" stroke-width="4.6"/>
<line x1="978.9" y1="1282.2" x2="978.9" y2="1295.3" stroke="#000" stroke-width="2"/>
<line x1="970.4" y1="1282.2" x2="987.4" y2="1282.2" stroke="#000" stroke-width="2"/>
<line x1="970.4" y1="1295.3" x2="987.4" y2="1295.3" stroke="#000" stroke-width="2"/>
<line x1="963.1" y1="1288.8" x2="994.7" y2="1288.8" stroke="#000" stroke-width="4.6"/>
<line x1="1012.9" y1="1257.1" x2="1012.9" y2="1272.6" stroke="#000" stroke-width="2"/>
<line x1="1004.4" y1="1257.1" x2="1021.4" y2="1257.1" stroke="#000" stroke-width="2"/>
<line x1="1004.4" y1="1272.6" x2="1021.4" y2="1272.6" stroke="#000" stroke-width="2"/>
<line x1="997.1" y1="1264.8" x2="1028.7" y2="1264.8" stroke="#000" stroke-width="4.6"/>
<line x1="1046.9" y1="1200.9" x2="1046.9" y2="1208" stroke="#000" stroke-width="2"/>
<line x1="1038.4" y1="1200.9" x2="1055.4" y2="1200.9" stroke="#000" stroke-width="2"/>
<line x1="1038.4" y1="1208" x2="1055.4" y2="1208" stroke="#000" stroke-width="2"/>
<line x1="1031.1" y1="1204.5" x2="1062.7" y2="1204.5" stroke="#000" stroke-width="4.6"/>
<line x1="1080.9" y1="1235" x2="1080.9" y2="1237.9" stroke="#000" stroke-width="2"/>
<line x1="1072.4" y1="1235" x2="1089.4" y2="1235" stroke="#000" stroke-width="2"/>
<line x1="1072.4" y1="1237.9" x2="1089.4" y2="1237.9" stroke="#000" stroke-width="2"/>
<line x1="1065.1" y1="1236.4" x2="1096.7" y2="1236.4" stroke="#000" stroke-width="4.6"/>
<line x1="1141.7" y1="1309.7" x2="1141.7" y2="1324.1" stroke="#000" stroke-width="2"/>
<line x1="1133.2" y1="1309.7" x2="1150.2" y2="1309.7" stroke="#000" stroke-width="2"/>
<line x1="1133.2" y1="1324.1" x2="1150.2" y2="1324.1" stroke="#000" stroke-width="2"/>
<line x1="1125.9" y1="1316.9" x2="1157.5" y2="1316.9" stroke="#000" stroke-width="4.6"/>
<line x1="1175.7" y1="1319.9" x2="1175.7" y2="1330.6" stroke="#000" stroke-width="2"/>
<line x1="1167.2" y1="1319.9" x2="1184.2" y2="1319.9" stroke="#000" stroke-width="2"/>
<line x1="1167.2" y1="1330.6" x2="1184.2" y2="1330.6" stroke="#000" stroke-width="2"/>
<line x1="1159.9" y1="1325.2" x2="1191.5" y2="1325.2" stroke="#000" stroke-width="4.6"/>
<line x1="1209.7" y1="1229.9" x2="1209.7" y2="1238.2" stroke="#000" stroke-width="2"/>
<line x1="1201.2" y1="1229.9" x2="1218.2" y2="1229.9" stroke="#000" stroke-width="2"/>
<line x1="1201.2" y1="1238.2" x2="1218.2" y2="1238.2" stroke="#000" stroke-width="2"/>
<line x1="1193.9" y1="1234.1" x2="1225.5" y2="1234.1" stroke="#000" stroke-width="4.6"/>
<line x1="1243.7" y1="1263.7" x2="1243.7" y2="1267.2" stroke="#000" stroke-width="2"/>
<line x1="1235.2" y1="1263.7" x2="1252.2" y2="1263.7" stroke="#000" stroke-width="2"/>
<line x1="1235.2" y1="1267.2" x2="1252.2" y2="1267.2" stroke="#000" stroke-width="2"/>
<line x1="1227.9" y1="1265.4" x2="1259.5" y2="1265.4" stroke="#000" stroke-width="4.6"/>
<line x1="1304.2" y1="1350.7" x2="1304.2" y2="1364.4" stroke="#000" stroke-width="2"/>
<line x1="1295.7" y1="1350.7" x2="1312.7" y2="1350.7" stroke="#000" stroke-width="2"/>
<line x1="1295.7" y1="1364.4" x2="1312.7" y2="1364.4" stroke="#000" stroke-width="2"/>
<line x1="1288.4" y1="1357.5" x2="1320" y2="1357.5" stroke="#000" stroke-width="4.6"/>
<line x1="1338.2" y1="1375.2" x2="1338.2" y2="1385.3" stroke="#000" stroke-width="2"/>
<line x1="1329.7" y1="1375.2" x2="1346.7" y2="1375.2" stroke="#000" stroke-width="2"/>
<line x1="1329.7" y1="1385.3" x2="1346.7" y2="1385.3" stroke="#000" stroke-width="2"/>
<line x1="1322.4" y1="1380.3" x2="1354" y2="1380.3" stroke="#000" stroke-width="4.6"/>
<line x1="1372.2" y1="1295.9" x2="1372.2" y2="1309.1" stroke="#000" stroke-width="2"/>
<line x1="1363.7" y1="1295.9" x2="1380.7" y2="1295.9" stroke="#000" stroke-width="2"/>
<line x1="1363.7" y1="1309.1" x2="1380.7" y2="1309.1" stroke="#000" stroke-width="2"/>
<line x1="1356.4" y1="1302.5" x2="1388" y2="1302.5" stroke="#000" stroke-width="4.6"/>
<line x1="1406.2" y1="1289.1" x2="1406.2" y2="1297.4" stroke="#000" stroke-width="2"/>
<line x1="1397.7" y1="1289.1" x2="1414.7" y2="1289.1" stroke="#000" stroke-width="2"/>
<line x1="1397.7" y1="1297.4" x2="1414.7" y2="1297.4" stroke="#000" stroke-width="2"/>
<line x1="1390.4" y1="1293.3" x2="1422" y2="1293.3" stroke="#000" stroke-width="4.6"/>
</g>
</svg></body></html>
